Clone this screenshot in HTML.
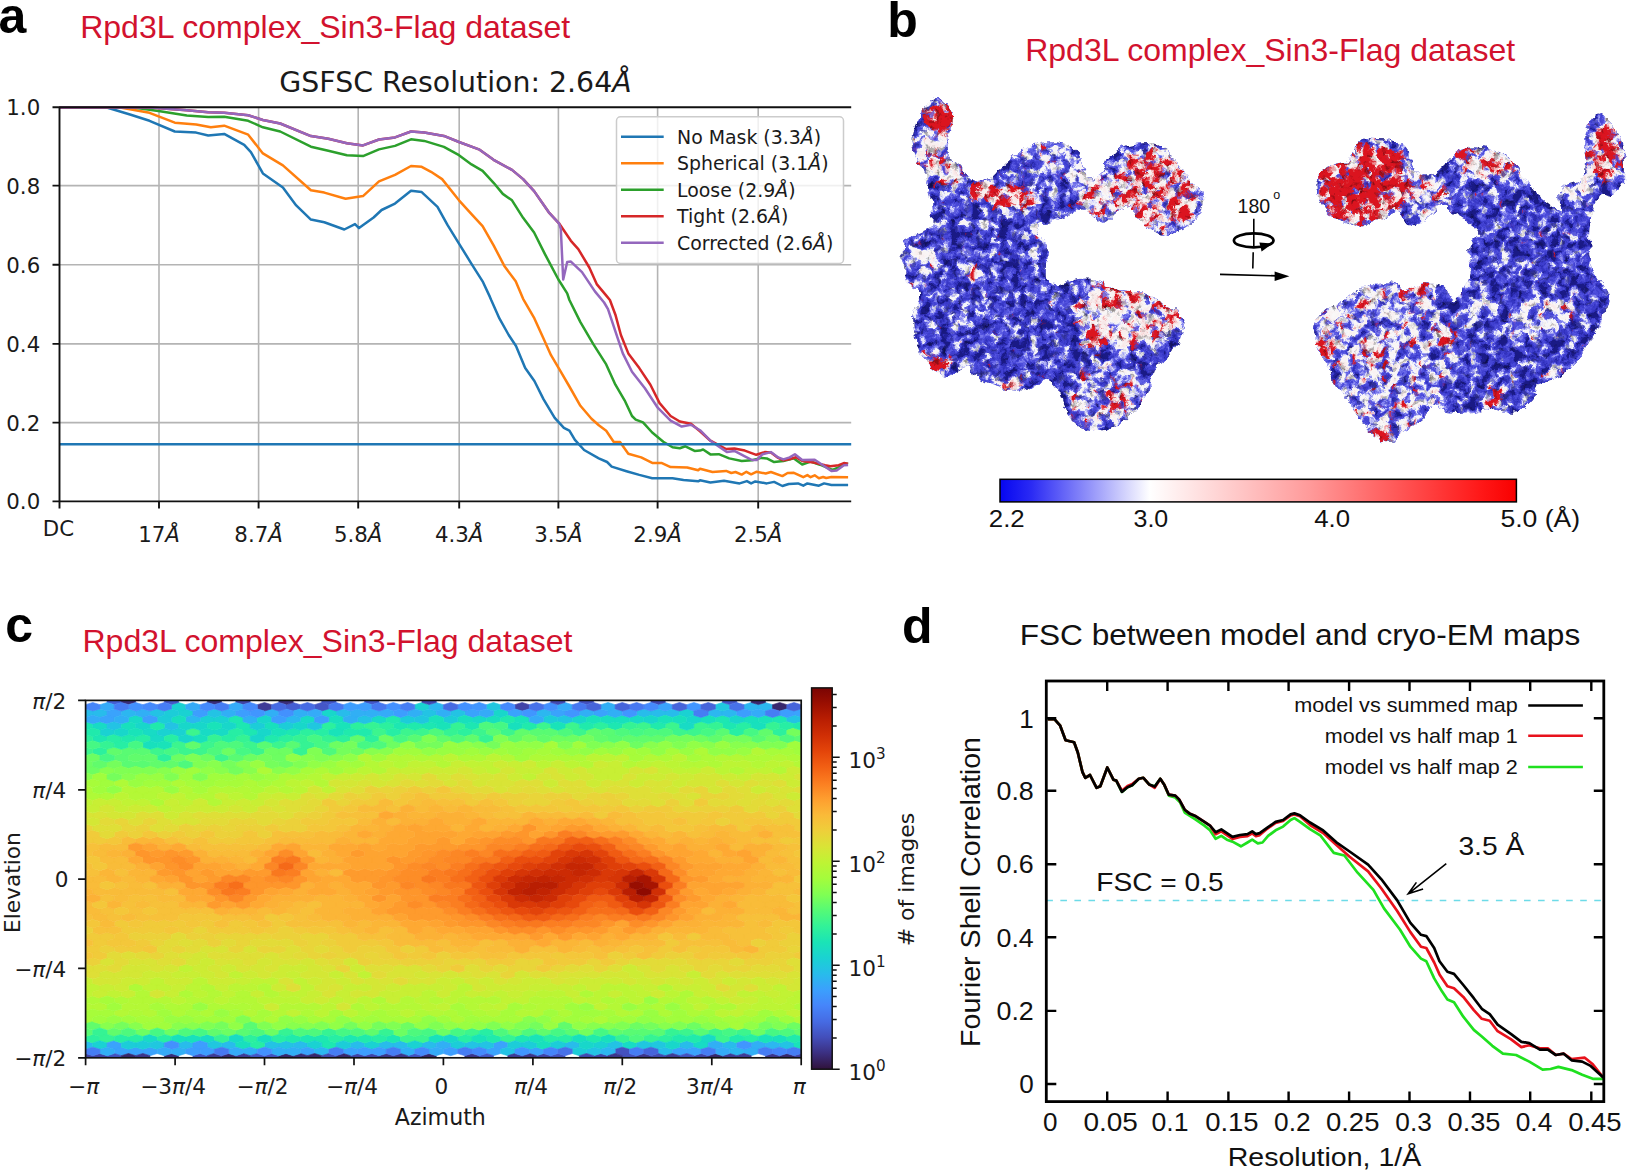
<!DOCTYPE html>
<html lang="en"><head><meta charset="utf-8"><title>Rpd3L complex cryo-EM figure</title>
<style>
html,body{margin:0;padding:0;background:#fff}
body{width:1630px;height:1173px;overflow:hidden}
svg{display:block}
text{white-space:pre}
</style></head><body>
<svg width="1630" height="1173" viewBox="0 0 1630 1173">
<rect width="1630" height="1173" fill="#fff"/>
<g id="pb">
<clipPath id="cpL"><path d="M940.5,98.6C944.2,100.3 950.1,106.7 951.8,111.9C953.6,117.1 952.1,124.1 951.2,129.9C950.3,135.6 946.5,141.2 946.5,146.5C946.6,151.8 948.5,157.7 951.5,161.4C954.6,165.2 961.2,165.8 964.8,169.1C968.4,172.4 969.0,179.7 973.1,181.4C977.3,183.1 985.3,181.1 989.7,179.1C994.2,177.0 994.2,174.0 999.7,169.1C1005.2,164.2 1016.3,154.2 1023.0,149.8C1029.6,145.4 1033.0,143.7 1039.6,142.5C1046.2,141.3 1056.8,141.1 1062.9,142.5C1069.0,143.9 1072.7,146.9 1076.2,150.8C1079.6,154.7 1081.4,161.2 1083.5,165.8C1085.6,170.4 1085.8,177.4 1088.8,178.4C1091.8,179.4 1098.0,175.5 1101.4,171.8C1104.9,168.0 1104.8,160.3 1109.4,155.8C1114.1,151.3 1121.1,146.7 1129.4,144.8C1137.7,143.0 1151.5,141.8 1159.3,144.8C1167.0,147.9 1170.9,157.3 1175.9,163.1C1180.9,168.9 1184.8,174.7 1189.2,179.7C1193.6,184.7 1200.8,187.5 1202.5,193.0C1204.2,198.6 1202.5,206.9 1199.2,213.0C1195.9,219.1 1188.6,226.0 1182.6,229.6C1176.5,233.2 1169.3,235.7 1162.6,234.6C1156.0,233.5 1148.2,227.7 1142.7,223.0C1137.1,218.2 1133.8,208.0 1129.4,206.3C1124.9,204.7 1120.5,210.2 1116.1,213.0C1111.6,215.7 1108.3,223.5 1102.8,223.0C1097.2,222.4 1088.9,210.8 1082.8,209.7C1076.7,208.5 1071.7,214.1 1066.2,216.3C1060.7,218.5 1054.6,221.3 1049.6,223.0C1044.6,224.6 1036.8,222.4 1036.3,226.3C1035.7,230.2 1044.6,237.9 1046.2,246.2C1047.9,254.5 1044.6,269.5 1046.2,276.1C1047.9,282.8 1051.2,285.6 1056.2,286.1C1061.2,286.7 1069.5,280.6 1076.2,279.5C1082.8,278.4 1089.5,277.8 1096.1,279.5C1102.8,281.1 1108.3,287.2 1116.1,289.4C1123.8,291.7 1134.3,290.0 1142.7,292.8C1151.0,295.5 1159.3,302.2 1165.9,306.1C1172.6,309.9 1180.3,310.5 1182.6,316.0C1184.8,321.6 1182.0,332.1 1179.2,339.3C1176.5,346.5 1170.4,353.7 1165.9,359.3C1161.5,364.8 1155.4,367.0 1152.6,372.6C1149.9,378.1 1152.6,385.9 1149.3,392.5C1146.0,399.1 1138.2,406.9 1132.7,412.4C1127.1,418.0 1123.3,422.7 1116.1,425.7C1108.9,428.8 1097.2,432.4 1089.5,430.7C1081.7,429.1 1074.5,422.1 1069.5,415.8C1064.5,409.4 1063.4,398.6 1059.5,392.5C1055.7,386.4 1051.2,379.8 1046.2,379.2C1041.3,378.6 1036.8,387.5 1029.6,389.2C1022.4,390.8 1011.3,390.8 1003.0,389.2C994.7,387.5 985.9,383.1 979.8,379.2C973.7,375.3 972.0,366.5 966.5,365.9C960.9,365.4 953.2,376.4 946.5,375.9C939.9,375.3 931.6,368.1 926.6,362.6C921.6,357.0 918.8,350.9 916.6,342.6C914.4,334.3 912.7,321.0 913.3,312.7C913.8,304.4 921.3,298.3 919.9,292.8C918.5,287.2 907.7,287.2 905.0,279.5C902.2,271.7 902.5,253.4 903.3,246.2C904.1,239.0 905.5,239.6 909.9,236.2C914.4,232.9 926.1,231.3 929.9,226.3C933.7,221.3 932.8,212.4 932.6,206.3C932.3,200.2 929.9,195.2 928.6,189.7C927.2,184.2 926.6,178.6 924.6,173.1C922.6,167.5 918.6,162.6 916.6,156.5C914.6,150.4 911.9,143.3 912.6,136.5C913.3,129.8 917.7,121.7 920.6,115.9C923.5,110.1 926.6,104.8 929.9,101.9C933.2,99.1 936.9,97.0 940.5,98.6z"/></clipPath>
<filter id="sfL" filterUnits="userSpaceOnUse" x="880" y="85" width="340" height="360" color-interpolation-filters="sRGB">
<feTurbulence type="fractalNoise" baseFrequency="0.1" numOctaves="4" seed="4" result="n0"/>
<feColorMatrix in="n0" type="matrix" values="1 0 0 0 0 0 1 0 0 0 0 0 1 0 0 0 0 0 0 1" result="n"/>
<feComposite in="n" in2="SourceGraphic" operator="arithmetic" k1="0" k2="1.4" k3="1" k4="-0.7" result="v"/>
<feColorMatrix in="v" type="matrix" values="1 0 0 0 0 1 0 0 0 0 1 0 0 0 0 0 0 0 0 1" result="v1"/>
<feComponentTransfer in="v1" result="bw"><feFuncR type="table" tableValues="0.102 0.141 0.180 0.212 0.243 0.275 0.314 0.384 0.502 0.682 0.878 0.965 0.980 0.980 0.980 0.980 0.980 0.980 0.980 0.980 0.980"/><feFuncG type="table" tableValues="0.102 0.141 0.180 0.212 0.243 0.275 0.314 0.384 0.502 0.682 0.878 0.965 0.973 0.965 0.957 0.949 0.941 0.933 0.925 0.918 0.910"/><feFuncB type="table" tableValues="0.529 0.627 0.714 0.769 0.808 0.839 0.871 0.902 0.933 0.961 0.980 0.980 0.973 0.965 0.957 0.949 0.941 0.933 0.925 0.918 0.910"/></feComponentTransfer>
<feColorMatrix in="v" type="matrix" values="0 0 0 0 0.86 0 0 0 0 0.08 0 0 0 0 0.12 0 1 0 0 0" result="v2"/>
<feComponentTransfer in="v2" result="rd"><feFuncA type="table" tableValues="0 0 0 0 0 0 0 0 0 0.04 0.12 0.3 0.6 0.88 1 1 1 1 1 1 1"/></feComponentTransfer>
<feMerge result="c"><feMergeNode in="bw"/><feMergeNode in="rd"/></feMerge>
<feTurbulence type="fractalNoise" baseFrequency="0.17" numOctaves="2" seed="15" result="m0"/>
<feColorMatrix in="m0" type="matrix" values="0 1.5 0 0 0.33 0 1.5 0 0 0.33 0 1.5 0 0 0.33 0 0 0 0 1" result="m"/>
<feBlend in="c" in2="m" mode="multiply" result="cs"/>
<feComposite in="cs" in2="SourceAlpha" operator="in" result="ci"/>
<feDisplacementMap in="ci" in2="n0" scale="9" xChannelSelector="G" yChannelSelector="B"/>
</filter>
<filter id="blL" x="-50%" y="-50%" width="200%" height="200%"><feGaussianBlur stdDeviation="4"/></filter>
<path d="M940.5,98.6C944.2,100.3 950.1,106.7 951.8,111.9C953.6,117.1 952.1,124.1 951.2,129.9C950.3,135.6 946.5,141.2 946.5,146.5C946.6,151.8 948.5,157.7 951.5,161.4C954.6,165.2 961.2,165.8 964.8,169.1C968.4,172.4 969.0,179.7 973.1,181.4C977.3,183.1 985.3,181.1 989.7,179.1C994.2,177.0 994.2,174.0 999.7,169.1C1005.2,164.2 1016.3,154.2 1023.0,149.8C1029.6,145.4 1033.0,143.7 1039.6,142.5C1046.2,141.3 1056.8,141.1 1062.9,142.5C1069.0,143.9 1072.7,146.9 1076.2,150.8C1079.6,154.7 1081.4,161.2 1083.5,165.8C1085.6,170.4 1085.8,177.4 1088.8,178.4C1091.8,179.4 1098.0,175.5 1101.4,171.8C1104.9,168.0 1104.8,160.3 1109.4,155.8C1114.1,151.3 1121.1,146.7 1129.4,144.8C1137.7,143.0 1151.5,141.8 1159.3,144.8C1167.0,147.9 1170.9,157.3 1175.9,163.1C1180.9,168.9 1184.8,174.7 1189.2,179.7C1193.6,184.7 1200.8,187.5 1202.5,193.0C1204.2,198.6 1202.5,206.9 1199.2,213.0C1195.9,219.1 1188.6,226.0 1182.6,229.6C1176.5,233.2 1169.3,235.7 1162.6,234.6C1156.0,233.5 1148.2,227.7 1142.7,223.0C1137.1,218.2 1133.8,208.0 1129.4,206.3C1124.9,204.7 1120.5,210.2 1116.1,213.0C1111.6,215.7 1108.3,223.5 1102.8,223.0C1097.2,222.4 1088.9,210.8 1082.8,209.7C1076.7,208.5 1071.7,214.1 1066.2,216.3C1060.7,218.5 1054.6,221.3 1049.6,223.0C1044.6,224.6 1036.8,222.4 1036.3,226.3C1035.7,230.2 1044.6,237.9 1046.2,246.2C1047.9,254.5 1044.6,269.5 1046.2,276.1C1047.9,282.8 1051.2,285.6 1056.2,286.1C1061.2,286.7 1069.5,280.6 1076.2,279.5C1082.8,278.4 1089.5,277.8 1096.1,279.5C1102.8,281.1 1108.3,287.2 1116.1,289.4C1123.8,291.7 1134.3,290.0 1142.7,292.8C1151.0,295.5 1159.3,302.2 1165.9,306.1C1172.6,309.9 1180.3,310.5 1182.6,316.0C1184.8,321.6 1182.0,332.1 1179.2,339.3C1176.5,346.5 1170.4,353.7 1165.9,359.3C1161.5,364.8 1155.4,367.0 1152.6,372.6C1149.9,378.1 1152.6,385.9 1149.3,392.5C1146.0,399.1 1138.2,406.9 1132.7,412.4C1127.1,418.0 1123.3,422.7 1116.1,425.7C1108.9,428.8 1097.2,432.4 1089.5,430.7C1081.7,429.1 1074.5,422.1 1069.5,415.8C1064.5,409.4 1063.4,398.6 1059.5,392.5C1055.7,386.4 1051.2,379.8 1046.2,379.2C1041.3,378.6 1036.8,387.5 1029.6,389.2C1022.4,390.8 1011.3,390.8 1003.0,389.2C994.7,387.5 985.9,383.1 979.8,379.2C973.7,375.3 972.0,366.5 966.5,365.9C960.9,365.4 953.2,376.4 946.5,375.9C939.9,375.3 931.6,368.1 926.6,362.6C921.6,357.0 918.8,350.9 916.6,342.6C914.4,334.3 912.7,321.0 913.3,312.7C913.8,304.4 921.3,298.3 919.9,292.8C918.5,287.2 907.7,287.2 905.0,279.5C902.2,271.7 902.5,253.4 903.3,246.2C904.1,239.0 905.5,239.6 909.9,236.2C914.4,232.9 926.1,231.3 929.9,226.3C933.7,221.3 932.8,212.4 932.6,206.3C932.3,200.2 929.9,195.2 928.6,189.7C927.2,184.2 926.6,178.6 924.6,173.1C922.6,167.5 918.6,162.6 916.6,156.5C914.6,150.4 911.9,143.3 912.6,136.5C913.3,129.8 917.7,121.7 920.6,115.9C923.5,110.1 926.6,104.8 929.9,101.9C933.2,99.1 936.9,97.0 940.5,98.6z" fill="#4a4ac6" stroke="#fff" stroke-width="10" stroke-linejoin="round"/>
<g filter="url(#sfL)"><g clip-path="url(#cpL)"><rect x="880" y="85" width="340" height="360" fill="rgb(58,30,0)"/><g filter="url(#blL)">
<ellipse cx="942.5" cy="114.9" rx="16.6" ry="16.6" fill="rgb(127,216,0)"/>
<ellipse cx="931.6" cy="151.5" rx="18.3" ry="23.3" fill="rgb(153,107,0)"/>
<ellipse cx="949.8" cy="174.7" rx="15.0" ry="11.6" fill="rgb(153,127,0)"/>
<ellipse cx="1004.7" cy="194.7" rx="38.2" ry="12.6" fill="rgb(153,158,0)" transform="rotate(8 1004.7 194.7)"/>
<ellipse cx="1052.9" cy="159.8" rx="33.2" ry="18.3" fill="rgb(114,63,0)"/>
<ellipse cx="1096.1" cy="196.4" rx="18.3" ry="21.6" fill="rgb(153,122,0)"/>
<ellipse cx="1156.0" cy="189.7" rx="46.5" ry="43.2" fill="rgb(140,132,0)"/>
<ellipse cx="1146.0" cy="169.8" rx="19.9" ry="16.6" fill="rgb(140,153,0)"/>
<ellipse cx="1182.6" cy="209.7" rx="16.6" ry="16.6" fill="rgb(153,153,0)"/>
<ellipse cx="1129.4" cy="199.7" rx="13.3" ry="16.6" fill="rgb(140,140,0)"/>
<ellipse cx="1129.4" cy="312.7" rx="54.9" ry="34.9" fill="rgb(153,112,0)"/>
<ellipse cx="1127.7" cy="292.8" rx="18.3" ry="10.0" fill="rgb(153,163,0)"/>
<ellipse cx="1169.3" cy="314.4" rx="10.0" ry="11.6" fill="rgb(153,153,0)"/>
<ellipse cx="1095.5" cy="342.6" rx="10.6" ry="9.3" fill="rgb(127,191,0)"/>
<ellipse cx="1116.1" cy="322.7" rx="15.0" ry="11.6" fill="rgb(173,76,0)"/>
<ellipse cx="1106.1" cy="395.8" rx="39.9" ry="31.6" fill="rgb(107,84,0)"/>
<ellipse cx="1119.4" cy="404.1" rx="13.3" ry="11.6" fill="rgb(127,140,0)"/>
<ellipse cx="1089.5" cy="422.4" rx="13.3" ry="8.3" fill="rgb(127,127,0)"/>
<ellipse cx="939.9" cy="362.6" rx="13.3" ry="11.6" fill="rgb(127,163,0)"/>
<ellipse cx="1013.0" cy="384.2" rx="16.6" ry="7.3" fill="rgb(127,163,0)"/>
<ellipse cx="921.6" cy="259.5" rx="16.6" ry="19.9" fill="rgb(127,51,0)"/>
<ellipse cx="973.1" cy="274.5" rx="13.3" ry="7.3" fill="rgb(153,107,0)"/>
<ellipse cx="1036.3" cy="236.2" rx="8.3" ry="16.6" fill="rgb(114,51,0)"/>
<ellipse cx="1076.2" cy="179.7" rx="10.0" ry="10.0" fill="rgb(140,76,0)"/>
<ellipse cx="989.7" cy="312.7" rx="10.0" ry="6.6" fill="rgb(102,30,0)"/>
<ellipse cx="956.5" cy="319.4" rx="11.6" ry="8.3" fill="rgb(107,30,0)"/>
</g></g></g>
<clipPath id="cpR"><path d="M1366.4,138.2C1372.0,137.1 1383.1,137.9 1389.7,139.8C1396.3,141.8 1402.2,144.8 1406.3,149.8C1410.5,154.8 1410.7,165.3 1414.6,169.7C1418.5,174.2 1424.3,177.5 1429.6,176.4C1434.8,175.3 1441.2,167.5 1446.2,163.1C1451.2,158.7 1454.5,152.6 1459.5,149.8C1464.5,147.0 1470.0,146.2 1476.1,146.5C1482.2,146.7 1489.4,148.7 1496.0,151.5C1502.7,154.2 1511.0,158.4 1516.0,163.1C1521.0,167.8 1522.6,174.7 1526.0,179.7C1529.3,184.7 1531.5,188.6 1535.9,193.0C1540.4,197.4 1548.4,203.2 1552.5,206.3C1556.7,209.3 1559.9,212.9 1560.9,211.3C1561.9,209.6 1557.7,200.6 1558.5,196.3C1559.4,192.1 1562.0,188.6 1565.8,185.7C1569.7,182.8 1578.4,183.4 1581.8,179.0C1585.2,174.7 1586.0,166.9 1586.4,159.8C1586.9,152.7 1583.0,143.9 1584.4,136.5C1585.9,129.1 1590.9,117.7 1595.1,115.2C1599.3,112.8 1605.1,117.2 1609.7,121.9C1614.4,126.5 1620.5,134.1 1623.0,143.1C1625.5,152.2 1626.9,167.8 1625.0,176.4C1623.1,185.0 1615.9,191.6 1611.7,194.7C1607.5,197.7 1603.0,191.6 1599.7,194.7C1596.5,197.7 1594.2,206.0 1592.4,212.9C1590.7,219.9 1589.1,227.3 1589.1,236.2C1589.1,245.1 1590.2,257.8 1592.4,266.1C1594.6,274.4 1599.6,281.1 1602.4,286.0C1605.2,291.0 1609.0,290.5 1609.0,296.0C1609.0,301.6 1605.7,311.0 1602.4,319.3C1599.1,327.6 1594.1,338.1 1589.1,345.9C1584.1,353.6 1578.0,360.3 1572.5,365.8C1566.9,371.3 1562.0,375.8 1555.9,379.1C1549.8,382.4 1539.8,382.4 1535.9,385.7C1532.1,389.1 1535.9,394.6 1532.6,399.0C1529.3,403.5 1523.2,410.7 1516.0,412.3C1508.8,414.0 1497.2,409.0 1489.4,409.0C1481.6,409.0 1476.1,411.8 1469.5,412.3C1462.8,412.9 1455.6,413.4 1449.5,412.3C1443.4,411.2 1437.3,404.6 1432.9,405.7C1428.5,406.8 1427.9,414.6 1422.9,419.0C1417.9,423.4 1409.1,428.4 1403.0,432.3C1396.9,436.2 1391.9,442.2 1386.4,442.2C1380.8,442.2 1374.2,436.2 1369.8,432.3C1365.3,428.4 1363.7,424.5 1359.8,419.0C1355.9,413.4 1350.9,405.7 1346.5,399.0C1342.1,392.4 1336.5,385.2 1333.2,379.1C1329.9,373.0 1329.3,368.0 1326.6,362.5C1323.8,356.9 1318.8,352.0 1316.6,345.9C1314.4,339.8 1311.6,332.0 1313.3,325.9C1314.9,319.8 1321.0,313.7 1326.6,309.3C1332.1,304.9 1339.9,303.2 1346.5,299.3C1353.1,295.5 1359.2,288.8 1366.4,286.0C1373.6,283.3 1383.6,282.2 1389.7,282.7C1395.8,283.3 1397.5,289.1 1403.0,289.4C1408.5,289.6 1416.3,284.7 1422.9,284.4C1429.6,284.1 1437.9,285.2 1442.9,287.7C1447.9,290.2 1449.0,299.6 1452.8,299.3C1456.7,299.1 1463.1,291.6 1466.1,286.0C1469.2,280.5 1470.6,272.8 1471.1,266.1C1471.7,259.5 1468.1,251.7 1469.5,246.2C1470.8,240.6 1479.4,236.8 1479.4,232.9C1479.4,229.0 1473.9,226.2 1469.5,222.9C1465.0,219.6 1457.8,215.7 1452.8,212.9C1447.9,210.2 1443.4,205.7 1439.6,206.3C1435.7,206.8 1434.0,212.9 1429.6,216.3C1425.2,219.6 1417.9,226.8 1413.0,226.2C1408.0,225.7 1404.1,214.6 1399.7,212.9C1395.2,211.3 1393.6,214.0 1386.4,216.3C1379.2,218.5 1365.3,226.2 1356.5,226.2C1347.6,226.2 1339.6,221.2 1333.2,216.3C1326.8,211.3 1321.0,202.4 1318.2,196.3C1315.5,190.2 1314.6,184.7 1316.6,179.7C1318.5,174.7 1324.3,169.7 1329.9,166.4C1335.4,163.1 1345.4,163.1 1349.8,159.8C1354.3,156.4 1353.7,150.1 1356.5,146.5C1359.2,142.9 1360.9,139.3 1366.4,138.2z"/></clipPath>
<filter id="sfR" filterUnits="userSpaceOnUse" x="1300" y="100" width="330" height="360" color-interpolation-filters="sRGB">
<feTurbulence type="fractalNoise" baseFrequency="0.1" numOctaves="4" seed="9" result="n0"/>
<feColorMatrix in="n0" type="matrix" values="1 0 0 0 0 0 1 0 0 0 0 0 1 0 0 0 0 0 0 1" result="n"/>
<feComposite in="n" in2="SourceGraphic" operator="arithmetic" k1="0" k2="1.4" k3="1" k4="-0.7" result="v"/>
<feColorMatrix in="v" type="matrix" values="1 0 0 0 0 1 0 0 0 0 1 0 0 0 0 0 0 0 0 1" result="v1"/>
<feComponentTransfer in="v1" result="bw"><feFuncR type="table" tableValues="0.102 0.141 0.180 0.212 0.243 0.275 0.314 0.384 0.502 0.682 0.878 0.965 0.980 0.980 0.980 0.980 0.980 0.980 0.980 0.980 0.980"/><feFuncG type="table" tableValues="0.102 0.141 0.180 0.212 0.243 0.275 0.314 0.384 0.502 0.682 0.878 0.965 0.973 0.965 0.957 0.949 0.941 0.933 0.925 0.918 0.910"/><feFuncB type="table" tableValues="0.529 0.627 0.714 0.769 0.808 0.839 0.871 0.902 0.933 0.961 0.980 0.980 0.973 0.965 0.957 0.949 0.941 0.933 0.925 0.918 0.910"/></feComponentTransfer>
<feColorMatrix in="v" type="matrix" values="0 0 0 0 0.86 0 0 0 0 0.08 0 0 0 0 0.12 0 1 0 0 0" result="v2"/>
<feComponentTransfer in="v2" result="rd"><feFuncA type="table" tableValues="0 0 0 0 0 0 0 0 0 0.04 0.12 0.3 0.6 0.88 1 1 1 1 1 1 1"/></feComponentTransfer>
<feMerge result="c"><feMergeNode in="bw"/><feMergeNode in="rd"/></feMerge>
<feTurbulence type="fractalNoise" baseFrequency="0.17" numOctaves="2" seed="20" result="m0"/>
<feColorMatrix in="m0" type="matrix" values="0 1.5 0 0 0.33 0 1.5 0 0 0.33 0 1.5 0 0 0.33 0 0 0 0 1" result="m"/>
<feBlend in="c" in2="m" mode="multiply" result="cs"/>
<feComposite in="cs" in2="SourceAlpha" operator="in" result="ci"/>
<feDisplacementMap in="ci" in2="n0" scale="9" xChannelSelector="G" yChannelSelector="B"/>
</filter>
<filter id="blR" x="-50%" y="-50%" width="200%" height="200%"><feGaussianBlur stdDeviation="4"/></filter>
<path d="M1366.4,138.2C1372.0,137.1 1383.1,137.9 1389.7,139.8C1396.3,141.8 1402.2,144.8 1406.3,149.8C1410.5,154.8 1410.7,165.3 1414.6,169.7C1418.5,174.2 1424.3,177.5 1429.6,176.4C1434.8,175.3 1441.2,167.5 1446.2,163.1C1451.2,158.7 1454.5,152.6 1459.5,149.8C1464.5,147.0 1470.0,146.2 1476.1,146.5C1482.2,146.7 1489.4,148.7 1496.0,151.5C1502.7,154.2 1511.0,158.4 1516.0,163.1C1521.0,167.8 1522.6,174.7 1526.0,179.7C1529.3,184.7 1531.5,188.6 1535.9,193.0C1540.4,197.4 1548.4,203.2 1552.5,206.3C1556.7,209.3 1559.9,212.9 1560.9,211.3C1561.9,209.6 1557.7,200.6 1558.5,196.3C1559.4,192.1 1562.0,188.6 1565.8,185.7C1569.7,182.8 1578.4,183.4 1581.8,179.0C1585.2,174.7 1586.0,166.9 1586.4,159.8C1586.9,152.7 1583.0,143.9 1584.4,136.5C1585.9,129.1 1590.9,117.7 1595.1,115.2C1599.3,112.8 1605.1,117.2 1609.7,121.9C1614.4,126.5 1620.5,134.1 1623.0,143.1C1625.5,152.2 1626.9,167.8 1625.0,176.4C1623.1,185.0 1615.9,191.6 1611.7,194.7C1607.5,197.7 1603.0,191.6 1599.7,194.7C1596.5,197.7 1594.2,206.0 1592.4,212.9C1590.7,219.9 1589.1,227.3 1589.1,236.2C1589.1,245.1 1590.2,257.8 1592.4,266.1C1594.6,274.4 1599.6,281.1 1602.4,286.0C1605.2,291.0 1609.0,290.5 1609.0,296.0C1609.0,301.6 1605.7,311.0 1602.4,319.3C1599.1,327.6 1594.1,338.1 1589.1,345.9C1584.1,353.6 1578.0,360.3 1572.5,365.8C1566.9,371.3 1562.0,375.8 1555.9,379.1C1549.8,382.4 1539.8,382.4 1535.9,385.7C1532.1,389.1 1535.9,394.6 1532.6,399.0C1529.3,403.5 1523.2,410.7 1516.0,412.3C1508.8,414.0 1497.2,409.0 1489.4,409.0C1481.6,409.0 1476.1,411.8 1469.5,412.3C1462.8,412.9 1455.6,413.4 1449.5,412.3C1443.4,411.2 1437.3,404.6 1432.9,405.7C1428.5,406.8 1427.9,414.6 1422.9,419.0C1417.9,423.4 1409.1,428.4 1403.0,432.3C1396.9,436.2 1391.9,442.2 1386.4,442.2C1380.8,442.2 1374.2,436.2 1369.8,432.3C1365.3,428.4 1363.7,424.5 1359.8,419.0C1355.9,413.4 1350.9,405.7 1346.5,399.0C1342.1,392.4 1336.5,385.2 1333.2,379.1C1329.9,373.0 1329.3,368.0 1326.6,362.5C1323.8,356.9 1318.8,352.0 1316.6,345.9C1314.4,339.8 1311.6,332.0 1313.3,325.9C1314.9,319.8 1321.0,313.7 1326.6,309.3C1332.1,304.9 1339.9,303.2 1346.5,299.3C1353.1,295.5 1359.2,288.8 1366.4,286.0C1373.6,283.3 1383.6,282.2 1389.7,282.7C1395.8,283.3 1397.5,289.1 1403.0,289.4C1408.5,289.6 1416.3,284.7 1422.9,284.4C1429.6,284.1 1437.9,285.2 1442.9,287.7C1447.9,290.2 1449.0,299.6 1452.8,299.3C1456.7,299.1 1463.1,291.6 1466.1,286.0C1469.2,280.5 1470.6,272.8 1471.1,266.1C1471.7,259.5 1468.1,251.7 1469.5,246.2C1470.8,240.6 1479.4,236.8 1479.4,232.9C1479.4,229.0 1473.9,226.2 1469.5,222.9C1465.0,219.6 1457.8,215.7 1452.8,212.9C1447.9,210.2 1443.4,205.7 1439.6,206.3C1435.7,206.8 1434.0,212.9 1429.6,216.3C1425.2,219.6 1417.9,226.8 1413.0,226.2C1408.0,225.7 1404.1,214.6 1399.7,212.9C1395.2,211.3 1393.6,214.0 1386.4,216.3C1379.2,218.5 1365.3,226.2 1356.5,226.2C1347.6,226.2 1339.6,221.2 1333.2,216.3C1326.8,211.3 1321.0,202.4 1318.2,196.3C1315.5,190.2 1314.6,184.7 1316.6,179.7C1318.5,174.7 1324.3,169.7 1329.9,166.4C1335.4,163.1 1345.4,163.1 1349.8,159.8C1354.3,156.4 1353.7,150.1 1356.5,146.5C1359.2,142.9 1360.9,139.3 1366.4,138.2z" fill="#4a4ac6" stroke="#fff" stroke-width="10" stroke-linejoin="round"/>
<g filter="url(#sfR)"><g clip-path="url(#cpR)"><rect x="1300" y="100" width="330" height="360" fill="rgb(58,30,0)"/><g filter="url(#blR)">
<ellipse cx="1364.8" cy="183.0" rx="49.9" ry="43.2" fill="rgb(140,158,0)"/>
<ellipse cx="1346.5" cy="193.0" rx="23.3" ry="19.9" fill="rgb(127,193,0)"/>
<ellipse cx="1383.1" cy="159.8" rx="23.3" ry="16.6" fill="rgb(127,178,0)"/>
<ellipse cx="1431.2" cy="194.7" rx="19.9" ry="19.9" fill="rgb(132,107,0)"/>
<ellipse cx="1489.4" cy="163.1" rx="33.2" ry="16.6" fill="rgb(153,107,0)"/>
<ellipse cx="1466.1" cy="151.5" rx="11.6" ry="8.3" fill="rgb(127,173,0)"/>
<ellipse cx="1502.7" cy="170.4" rx="15.0" ry="8.3" fill="rgb(153,158,0)"/>
<ellipse cx="1605.7" cy="149.8" rx="16.6" ry="31.6" fill="rgb(153,168,0)"/>
<ellipse cx="1575.8" cy="191.3" rx="19.9" ry="10.0" fill="rgb(178,76,0)"/>
<ellipse cx="1587.4" cy="169.7" rx="6.6" ry="13.3" fill="rgb(153,76,0)"/>
<ellipse cx="1383.1" cy="359.2" rx="73.1" ry="76.5" fill="rgb(109,76,0)"/>
<ellipse cx="1417.9" cy="290.0" rx="15.0" ry="8.3" fill="rgb(153,173,0)"/>
<ellipse cx="1449.5" cy="336.6" rx="10.0" ry="6.6" fill="rgb(153,191,0)"/>
<ellipse cx="1496.0" cy="395.7" rx="10.6" ry="10.6" fill="rgb(140,183,0)"/>
<ellipse cx="1383.7" cy="437.3" rx="11.6" ry="7.3" fill="rgb(140,183,0)"/>
<ellipse cx="1323.2" cy="345.9" rx="9.3" ry="10.0" fill="rgb(140,168,0)"/>
<ellipse cx="1376.4" cy="352.5" rx="13.3" ry="13.3" fill="rgb(158,122,0)"/>
<ellipse cx="1329.9" cy="319.3" rx="16.6" ry="13.3" fill="rgb(158,102,0)"/>
<ellipse cx="1366.4" cy="292.7" rx="16.6" ry="10.0" fill="rgb(158,127,0)"/>
<ellipse cx="1539.3" cy="316.0" rx="36.6" ry="18.3" fill="rgb(127,51,0)" transform="rotate(-25 1539.3 316.0)"/>
<ellipse cx="1572.5" cy="312.6" rx="5.0" ry="5.0" fill="rgb(127,191,0)"/>
<ellipse cx="1555.9" cy="372.5" rx="8.3" ry="6.6" fill="rgb(127,127,0)"/>
<ellipse cx="1476.1" cy="309.3" rx="16.6" ry="13.3" fill="rgb(127,30,0)"/>
<ellipse cx="1509.3" cy="266.1" rx="13.3" ry="10.0" fill="rgb(91,30,0)"/>
<ellipse cx="1519.3" cy="219.6" rx="13.3" ry="10.0" fill="rgb(91,30,0)"/>
</g></g></g>
<text x="1237.6" y="213.4" textLength="32.6" lengthAdjust="spacingAndGlyphs" style="font-family:'Liberation Sans',sans-serif;font-size:19.8px" fill="#111">180</text>
<text x="1273.2" y="199.2" style="font-family:'Liberation Sans',sans-serif;font-size:12.5px" fill="#111">o</text>
<path d="M1253.8,218.8V247.6M1253.2,252.2L1252.8,268.6" stroke="#000" stroke-width="1.6" fill="none"/>
<ellipse cx="1253.7" cy="240.4" rx="19.8" ry="7" fill="none" stroke="#000" stroke-width="2.7"/>
<path d="M1259.4,242.6L1261.6,251.4L1272.4,243.6z" fill="#000"/>
<path d="M1220,274.4L1277,275.9" stroke="#000" stroke-width="1.7" fill="none"/><path d="M1274.6,271.4L1289.4,276.2L1274.6,281z" fill="#000"/>
<defs><linearGradient id="bwr" x1="0" y1="0" x2="1" y2="0"><stop offset="0" stop-color="#0606f0"/><stop offset="0.06" stop-color="#2a2af4"/><stop offset="0.29" stop-color="#ffffff"/><stop offset="0.6" stop-color="#ff9a9a"/><stop offset="0.93" stop-color="#ff1818"/><stop offset="1" stop-color="#f80000"/></linearGradient></defs>
<rect x="1000" y="479.3" width="516.4" height="22.6" fill="url(#bwr)" stroke="#000" stroke-width="1.5"/>
<text x="988.8" y="527" textLength="35.9" lengthAdjust="spacingAndGlyphs" style="font-family:'Liberation Sans',sans-serif;font-size:24.2px" fill="#111">2.2</text>
<text x="1133.5" y="527" textLength="34.7" lengthAdjust="spacingAndGlyphs" style="font-family:'Liberation Sans',sans-serif;font-size:24.2px" fill="#111">3.0</text>
<text x="1314.2" y="527" textLength="35.8" lengthAdjust="spacingAndGlyphs" style="font-family:'Liberation Sans',sans-serif;font-size:24.2px" fill="#111">4.0</text>
<text x="1500.4" y="527" textLength="79.7" lengthAdjust="spacingAndGlyphs" style="font-family:'Liberation Sans',sans-serif;font-size:24.2px" fill="#111">5.0 (Å)</text>
</g>
<g id="pc">
<defs><clipPath id="cc"><rect x="85.6" y="700.4" width="715.6" height="357.4"/></clipPath>
<linearGradient id="tb" x1="0" y1="0" x2="0" y2="1"><stop offset="0.0000" stop-color="#7a0403"/><stop offset="0.0417" stop-color="#9b0f01"/><stop offset="0.0833" stop-color="#b91e02"/><stop offset="0.1250" stop-color="#d02f05"/><stop offset="0.1667" stop-color="#e4450a"/><stop offset="0.2083" stop-color="#f26014"/><stop offset="0.2500" stop-color="#fb7e21"/><stop offset="0.2917" stop-color="#fe9e2f"/><stop offset="0.3333" stop-color="#faba39"/><stop offset="0.3750" stop-color="#eecf3a"/><stop offset="0.4167" stop-color="#d9e436"/><stop offset="0.4583" stop-color="#bef434"/><stop offset="0.5000" stop-color="#a4fc3c"/><stop offset="0.5417" stop-color="#80ff53"/><stop offset="0.5833" stop-color="#55fa76"/><stop offset="0.6250" stop-color="#32f298"/><stop offset="0.6667" stop-color="#1ae4b6"/><stop offset="0.7083" stop-color="#1ad2d2"/><stop offset="0.7500" stop-color="#28bceb"/><stop offset="0.7917" stop-color="#3ba0fd"/><stop offset="0.8333" stop-color="#4685fa"/><stop offset="0.8750" stop-color="#466be3"/><stop offset="0.9167" stop-color="#434eba"/><stop offset="0.9583" stop-color="#3b2f80"/><stop offset="1.0000" stop-color="#30123b"/></linearGradient></defs>
<g clip-path="url(#cc)" stroke-width="0.6">
<path fill="#28bceb" stroke="#28bceb" d="M85.6,708.9l7.16,2.13v4.25l-7.16,2.13l-7.16,-2.13v-4.25zM85.6,1040.8l7.16,2.13v4.25l-7.16,2.13l-7.16,-2.13v-4.25zM99.9,708.9l7.16,2.13v4.25l-7.16,2.13l-7.16,-2.13v-4.25zM185.8,1040.8l7.16,2.13v4.25l-7.16,2.13l-7.16,-2.13v-4.25zM228.7,1040.8l7.16,2.13v4.25l-7.16,2.13l-7.16,-2.13v-4.25zM300.3,1040.8l7.16,2.13v4.25l-7.16,2.13l-7.16,-2.13v-4.25zM343.2,708.9l7.16,2.13v4.25l-7.16,2.13l-7.16,-2.13v-4.25zM357.5,1040.8l7.16,2.13v4.25l-7.16,2.13l-7.16,-2.13v-4.25zM386.2,1040.8l7.16,2.13v4.25l-7.16,2.13l-7.16,-2.13v-4.25zM400.5,1040.8l7.16,2.13v4.25l-7.16,2.13l-7.16,-2.13v-4.25zM429.1,1040.8l7.16,2.13v4.25l-7.16,2.13l-7.16,-2.13v-4.25zM572.2,1040.8l7.16,2.13v4.25l-7.16,2.13l-7.16,-2.13v-4.25zM643.8,708.9l7.16,2.13v4.25l-7.16,2.13l-7.16,-2.13v-4.25zM658.1,708.9l7.16,2.13v4.25l-7.16,2.13l-7.16,-2.13v-4.25zM672.4,708.9l7.16,2.13v4.25l-7.16,2.13l-7.16,-2.13v-4.25zM686.7,1040.8l7.16,2.13v4.25l-7.16,2.13l-7.16,-2.13v-4.25zM729.6,1040.8l7.16,2.13v4.25l-7.16,2.13l-7.16,-2.13v-4.25zM665.2,1047.2l7.16,2.13v4.25l-7.16,2.13l-7.16,-2.13v-4.25z"/>
<path fill="#1de7b2" stroke="#1de7b2" d="M85.6,721.7l7.16,2.13v4.25l-7.16,2.13l-7.16,-2.13v-4.25zM99.9,734.4l7.16,2.13v4.25l-7.16,2.13l-7.16,-2.13v-4.25zM243.0,721.7l7.16,2.13v4.25l-7.16,2.13l-7.16,-2.13v-4.25zM328.9,1040.8l7.16,2.13v4.25l-7.16,2.13l-7.16,-2.13v-4.25zM400.5,721.7l7.16,2.13v4.25l-7.16,2.13l-7.16,-2.13v-4.25zM429.1,721.7l7.16,2.13v4.25l-7.16,2.13l-7.16,-2.13v-4.25zM472.0,721.7l7.16,2.13v4.25l-7.16,2.13l-7.16,-2.13v-4.25zM615.1,721.7l7.16,2.13v4.25l-7.16,2.13l-7.16,-2.13v-4.25zM729.6,721.7l7.16,2.13v4.25l-7.16,2.13l-7.16,-2.13v-4.25zM235.9,715.3l7.16,2.13v4.25l-7.16,2.13l-7.16,-2.13v-4.25zM250.2,728.1l7.16,2.13v4.25l-7.16,2.13l-7.16,-2.13v-4.25zM293.1,728.1l7.16,2.13v4.25l-7.16,2.13l-7.16,-2.13v-4.25zM307.4,1034.4l7.16,2.13v4.25l-7.16,2.13l-7.16,-2.13v-4.25zM321.7,1034.4l7.16,2.13v4.25l-7.16,2.13l-7.16,-2.13v-4.25zM350.4,1034.4l7.16,2.13v4.25l-7.16,2.13l-7.16,-2.13v-4.25zM393.3,1034.4l7.16,2.13v4.25l-7.16,2.13l-7.16,-2.13v-4.25zM522.1,1034.4l7.16,2.13v4.25l-7.16,2.13l-7.16,-2.13v-4.25zM722.5,715.3l7.16,2.13v4.25l-7.16,2.13l-7.16,-2.13v-4.25zM779.7,715.3l7.16,2.13v4.25l-7.16,2.13l-7.16,-2.13v-4.25z"/>
<path fill="#2cf09e" stroke="#2cf09e" d="M85.6,734.4l7.16,2.13v4.25l-7.16,2.13l-7.16,-2.13v-4.25zM99.9,747.2l7.16,2.13v4.25l-7.16,2.13l-7.16,-2.13v-4.25zM286.0,734.4l7.16,2.13v4.25l-7.16,2.13l-7.16,-2.13v-4.25zM328.9,721.7l7.16,2.13v4.25l-7.16,2.13l-7.16,-2.13v-4.25zM343.2,734.4l7.16,2.13v4.25l-7.16,2.13l-7.16,-2.13v-4.25zM357.5,721.7l7.16,2.13v4.25l-7.16,2.13l-7.16,-2.13v-4.25zM371.8,734.4l7.16,2.13v4.25l-7.16,2.13l-7.16,-2.13v-4.25zM386.2,721.7l7.16,2.13v4.25l-7.16,2.13l-7.16,-2.13v-4.25zM600.8,721.7l7.16,2.13v4.25l-7.16,2.13l-7.16,-2.13v-4.25zM92.8,1034.4l7.16,2.13v4.25l-7.16,2.13l-7.16,-2.13v-4.25zM164.3,753.6l7.16,2.13v4.25l-7.16,2.13l-7.16,-2.13v-4.25zM250.2,1034.4l7.16,2.13v4.25l-7.16,2.13l-7.16,-2.13v-4.25zM307.4,728.1l7.16,2.13v4.25l-7.16,2.13l-7.16,-2.13v-4.25zM464.9,728.1l7.16,2.13v4.25l-7.16,2.13l-7.16,-2.13v-4.25zM665.2,1034.4l7.16,2.13v4.25l-7.16,2.13l-7.16,-2.13v-4.25zM779.7,728.1l7.16,2.13v4.25l-7.16,2.13l-7.16,-2.13v-4.25z"/>
<path fill="#3cf58e" stroke="#3cf58e" d="M85.6,747.2l7.16,2.13v4.25l-7.16,2.13l-7.16,-2.13v-4.25zM157.2,747.2l7.16,2.13v4.25l-7.16,2.13l-7.16,-2.13v-4.25zM185.8,747.2l7.16,2.13v4.25l-7.16,2.13l-7.16,-2.13v-4.25zM200.1,747.2l7.16,2.13v4.25l-7.16,2.13l-7.16,-2.13v-4.25zM257.3,747.2l7.16,2.13v4.25l-7.16,2.13l-7.16,-2.13v-4.25zM472.0,1028.0l7.16,2.13v4.25l-7.16,2.13l-7.16,-2.13v-4.25zM543.6,721.7l7.16,2.13v4.25l-7.16,2.13l-7.16,-2.13v-4.25zM572.2,721.7l7.16,2.13v4.25l-7.16,2.13l-7.16,-2.13v-4.25zM643.8,721.7l7.16,2.13v4.25l-7.16,2.13l-7.16,-2.13v-4.25zM672.4,721.7l7.16,2.13v4.25l-7.16,2.13l-7.16,-2.13v-4.25zM686.7,1028.0l7.16,2.13v4.25l-7.16,2.13l-7.16,-2.13v-4.25zM701.0,721.7l7.16,2.13v4.25l-7.16,2.13l-7.16,-2.13v-4.25zM715.3,1028.0l7.16,2.13v4.25l-7.16,2.13l-7.16,-2.13v-4.25zM744.0,1028.0l7.16,2.13v4.25l-7.16,2.13l-7.16,-2.13v-4.25zM178.6,740.8l7.16,2.13v4.25l-7.16,2.13l-7.16,-2.13v-4.25zM192.9,728.1l7.16,2.13v4.25l-7.16,2.13l-7.16,-2.13v-4.25zM207.3,740.8l7.16,2.13v4.25l-7.16,2.13l-7.16,-2.13v-4.25zM221.6,753.6l7.16,2.13v4.25l-7.16,2.13l-7.16,-2.13v-4.25zM250.2,740.8l7.16,2.13v4.25l-7.16,2.13l-7.16,-2.13v-4.25zM278.8,740.8l7.16,2.13v4.25l-7.16,2.13l-7.16,-2.13v-4.25zM379.0,728.1l7.16,2.13v4.25l-7.16,2.13l-7.16,-2.13v-4.25zM407.6,728.1l7.16,2.13v4.25l-7.16,2.13l-7.16,-2.13v-4.25zM407.6,1034.4l7.16,2.13v4.25l-7.16,2.13l-7.16,-2.13v-4.25zM421.9,728.1l7.16,2.13v4.25l-7.16,2.13l-7.16,-2.13v-4.25zM421.9,1034.4l7.16,2.13v4.25l-7.16,2.13l-7.16,-2.13v-4.25zM479.2,728.1l7.16,2.13v4.25l-7.16,2.13l-7.16,-2.13v-4.25zM507.8,728.1l7.16,2.13v4.25l-7.16,2.13l-7.16,-2.13v-4.25zM579.4,728.1l7.16,2.13v4.25l-7.16,2.13l-7.16,-2.13v-4.25zM679.5,728.1l7.16,2.13v4.25l-7.16,2.13l-7.16,-2.13v-4.25zM693.9,728.1l7.16,2.13v4.25l-7.16,2.13l-7.16,-2.13v-4.25zM722.5,1034.4l7.16,2.13v4.25l-7.16,2.13l-7.16,-2.13v-4.25z"/>
<path fill="#6dfe62" stroke="#6dfe62" d="M85.6,760.0l7.16,2.13v4.25l-7.16,2.13l-7.16,-2.13v-4.25zM142.8,1028.0l7.16,2.13v4.25l-7.16,2.13l-7.16,-2.13v-4.25zM171.5,1028.0l7.16,2.13v4.25l-7.16,2.13l-7.16,-2.13v-4.25zM228.7,747.2l7.16,2.13v4.25l-7.16,2.13l-7.16,-2.13v-4.25zM228.7,1028.0l7.16,2.13v4.25l-7.16,2.13l-7.16,-2.13v-4.25zM271.7,747.2l7.16,2.13v4.25l-7.16,2.13l-7.16,-2.13v-4.25zM271.7,1028.0l7.16,2.13v4.25l-7.16,2.13l-7.16,-2.13v-4.25zM286.0,747.2l7.16,2.13v4.25l-7.16,2.13l-7.16,-2.13v-4.25zM286.0,760.0l7.16,2.13v4.25l-7.16,2.13l-7.16,-2.13v-4.25zM357.5,747.2l7.16,2.13v4.25l-7.16,2.13l-7.16,-2.13v-4.25zM386.2,734.4l7.16,2.13v4.25l-7.16,2.13l-7.16,-2.13v-4.25zM400.5,1028.0l7.16,2.13v4.25l-7.16,2.13l-7.16,-2.13v-4.25zM443.4,1028.0l7.16,2.13v4.25l-7.16,2.13l-7.16,-2.13v-4.25zM515.0,1028.0l7.16,2.13v4.25l-7.16,2.13l-7.16,-2.13v-4.25zM557.9,734.4l7.16,2.13v4.25l-7.16,2.13l-7.16,-2.13v-4.25zM572.2,734.4l7.16,2.13v4.25l-7.16,2.13l-7.16,-2.13v-4.25zM701.0,734.4l7.16,2.13v4.25l-7.16,2.13l-7.16,-2.13v-4.25zM758.3,1028.0l7.16,2.13v4.25l-7.16,2.13l-7.16,-2.13v-4.25zM772.6,734.4l7.16,2.13v4.25l-7.16,2.13l-7.16,-2.13v-4.25zM92.8,753.6l7.16,2.13v4.25l-7.16,2.13l-7.16,-2.13v-4.25zM92.8,766.3l7.16,2.13v4.25l-7.16,2.13l-7.16,-2.13v-4.25zM178.6,753.6l7.16,2.13v4.25l-7.16,2.13l-7.16,-2.13v-4.25zM207.3,753.6l7.16,2.13v4.25l-7.16,2.13l-7.16,-2.13v-4.25zM250.2,753.6l7.16,2.13v4.25l-7.16,2.13l-7.16,-2.13v-4.25zM278.8,753.6l7.16,2.13v4.25l-7.16,2.13l-7.16,-2.13v-4.25zM336.1,740.8l7.16,2.13v4.25l-7.16,2.13l-7.16,-2.13v-4.25zM393.3,740.8l7.16,2.13v4.25l-7.16,2.13l-7.16,-2.13v-4.25zM407.6,1021.6l7.16,2.13v4.25l-7.16,2.13l-7.16,-2.13v-4.25zM636.6,740.8l7.16,2.13v4.25l-7.16,2.13l-7.16,-2.13v-4.25zM636.6,1021.6l7.16,2.13v4.25l-7.16,2.13l-7.16,-2.13v-4.25zM693.9,1021.6l7.16,2.13v4.25l-7.16,2.13l-7.16,-2.13v-4.25zM794.0,1021.6l7.16,2.13v4.25l-7.16,2.13l-7.16,-2.13v-4.25z"/>
<path fill="#88ff4e" stroke="#88ff4e" d="M85.6,772.7l7.16,2.13v4.25l-7.16,2.13l-7.16,-2.13v-4.25zM128.5,772.7l7.16,2.13v4.25l-7.16,2.13l-7.16,-2.13v-4.25zM214.4,760.0l7.16,2.13v4.25l-7.16,2.13l-7.16,-2.13v-4.25zM243.0,760.0l7.16,2.13v4.25l-7.16,2.13l-7.16,-2.13v-4.25zM371.8,747.2l7.16,2.13v4.25l-7.16,2.13l-7.16,-2.13v-4.25zM386.2,747.2l7.16,2.13v4.25l-7.16,2.13l-7.16,-2.13v-4.25zM529.3,1015.3l7.16,2.13v4.25l-7.16,2.13l-7.16,-2.13v-4.25zM772.6,1015.3l7.16,2.13v4.25l-7.16,2.13l-7.16,-2.13v-4.25zM107.1,766.3l7.16,2.13v4.25l-7.16,2.13l-7.16,-2.13v-4.25zM107.1,1021.6l7.16,2.13v4.25l-7.16,2.13l-7.16,-2.13v-4.25zM135.7,1021.6l7.16,2.13v4.25l-7.16,2.13l-7.16,-2.13v-4.25zM164.3,766.3l7.16,2.13v4.25l-7.16,2.13l-7.16,-2.13v-4.25zM178.6,1021.6l7.16,2.13v4.25l-7.16,2.13l-7.16,-2.13v-4.25zM192.9,1021.6l7.16,2.13v4.25l-7.16,2.13l-7.16,-2.13v-4.25zM221.6,766.3l7.16,2.13v4.25l-7.16,2.13l-7.16,-2.13v-4.25zM250.2,766.3l7.16,2.13v4.25l-7.16,2.13l-7.16,-2.13v-4.25zM278.8,766.3l7.16,2.13v4.25l-7.16,2.13l-7.16,-2.13v-4.25zM293.1,1021.6l7.16,2.13v4.25l-7.16,2.13l-7.16,-2.13v-4.25zM307.4,753.6l7.16,2.13v4.25l-7.16,2.13l-7.16,-2.13v-4.25zM307.4,1021.6l7.16,2.13v4.25l-7.16,2.13l-7.16,-2.13v-4.25zM336.1,753.6l7.16,2.13v4.25l-7.16,2.13l-7.16,-2.13v-4.25zM479.2,740.8l7.16,2.13v4.25l-7.16,2.13l-7.16,-2.13v-4.25zM593.7,1021.6l7.16,2.13v4.25l-7.16,2.13l-7.16,-2.13v-4.25zM608.0,740.8l7.16,2.13v4.25l-7.16,2.13l-7.16,-2.13v-4.25zM608.0,1021.6l7.16,2.13v4.25l-7.16,2.13l-7.16,-2.13v-4.25zM650.9,740.8l7.16,2.13v4.25l-7.16,2.13l-7.16,-2.13v-4.25zM665.2,1021.6l7.16,2.13v4.25l-7.16,2.13l-7.16,-2.13v-4.25zM708.2,740.8l7.16,2.13v4.25l-7.16,2.13l-7.16,-2.13v-4.25zM708.2,1021.6l7.16,2.13v4.25l-7.16,2.13l-7.16,-2.13v-4.25zM736.8,740.8l7.16,2.13v4.25l-7.16,2.13l-7.16,-2.13v-4.25zM751.1,740.8l7.16,2.13v4.25l-7.16,2.13l-7.16,-2.13v-4.25z"/>
<path fill="#affa37" stroke="#affa37" d="M85.6,785.5l7.16,2.13v4.25l-7.16,2.13l-7.16,-2.13v-4.25zM157.2,798.3l7.16,2.13v4.25l-7.16,2.13l-7.16,-2.13v-4.25zM171.5,1002.5l7.16,2.13v4.25l-7.16,2.13l-7.16,-2.13v-4.25zM185.8,989.7l7.16,2.13v4.25l-7.16,2.13l-7.16,-2.13v-4.25zM185.8,1002.5l7.16,2.13v4.25l-7.16,2.13l-7.16,-2.13v-4.25zM214.4,1002.5l7.16,2.13v4.25l-7.16,2.13l-7.16,-2.13v-4.25zM228.7,1002.5l7.16,2.13v4.25l-7.16,2.13l-7.16,-2.13v-4.25zM243.0,1002.5l7.16,2.13v4.25l-7.16,2.13l-7.16,-2.13v-4.25zM257.3,785.5l7.16,2.13v4.25l-7.16,2.13l-7.16,-2.13v-4.25zM271.7,1015.3l7.16,2.13v4.25l-7.16,2.13l-7.16,-2.13v-4.25zM286.0,772.7l7.16,2.13v4.25l-7.16,2.13l-7.16,-2.13v-4.25zM300.3,772.7l7.16,2.13v4.25l-7.16,2.13l-7.16,-2.13v-4.25zM357.5,1002.5l7.16,2.13v4.25l-7.16,2.13l-7.16,-2.13v-4.25zM457.7,1015.3l7.16,2.13v4.25l-7.16,2.13l-7.16,-2.13v-4.25zM529.3,1002.5l7.16,2.13v4.25l-7.16,2.13l-7.16,-2.13v-4.25zM586.5,989.7l7.16,2.13v4.25l-7.16,2.13l-7.16,-2.13v-4.25zM600.8,1015.3l7.16,2.13v4.25l-7.16,2.13l-7.16,-2.13v-4.25zM658.1,1002.5l7.16,2.13v4.25l-7.16,2.13l-7.16,-2.13v-4.25zM686.7,989.7l7.16,2.13v4.25l-7.16,2.13l-7.16,-2.13v-4.25zM686.7,1002.5l7.16,2.13v4.25l-7.16,2.13l-7.16,-2.13v-4.25zM701.0,747.2l7.16,2.13v4.25l-7.16,2.13l-7.16,-2.13v-4.25zM715.3,760.0l7.16,2.13v4.25l-7.16,2.13l-7.16,-2.13v-4.25zM715.3,1002.5l7.16,2.13v4.25l-7.16,2.13l-7.16,-2.13v-4.25zM729.6,1002.5l7.16,2.13v4.25l-7.16,2.13l-7.16,-2.13v-4.25zM801.2,1002.5l7.16,2.13v4.25l-7.16,2.13l-7.16,-2.13v-4.25zM801.2,1015.3l7.16,2.13v4.25l-7.16,2.13l-7.16,-2.13v-4.25zM92.8,791.9l7.16,2.13v4.25l-7.16,2.13l-7.16,-2.13v-4.25zM92.8,996.1l7.16,2.13v4.25l-7.16,2.13l-7.16,-2.13v-4.25zM107.1,791.9l7.16,2.13v4.25l-7.16,2.13l-7.16,-2.13v-4.25zM121.4,779.1l7.16,2.13v4.25l-7.16,2.13l-7.16,-2.13v-4.25zM121.4,996.1l7.16,2.13v4.25l-7.16,2.13l-7.16,-2.13v-4.25zM135.7,983.3l7.16,2.13v4.25l-7.16,2.13l-7.16,-2.13v-4.25zM135.7,1008.9l7.16,2.13v4.25l-7.16,2.13l-7.16,-2.13v-4.25zM178.6,779.1l7.16,2.13v4.25l-7.16,2.13l-7.16,-2.13v-4.25zM178.6,1008.9l7.16,2.13v4.25l-7.16,2.13l-7.16,-2.13v-4.25zM207.3,1008.9l7.16,2.13v4.25l-7.16,2.13l-7.16,-2.13v-4.25zM250.2,779.1l7.16,2.13v4.25l-7.16,2.13l-7.16,-2.13v-4.25zM264.5,766.3l7.16,2.13v4.25l-7.16,2.13l-7.16,-2.13v-4.25zM278.8,779.1l7.16,2.13v4.25l-7.16,2.13l-7.16,-2.13v-4.25zM307.4,1008.9l7.16,2.13v4.25l-7.16,2.13l-7.16,-2.13v-4.25zM321.7,766.3l7.16,2.13v4.25l-7.16,2.13l-7.16,-2.13v-4.25zM350.4,766.3l7.16,2.13v4.25l-7.16,2.13l-7.16,-2.13v-4.25zM364.7,1008.9l7.16,2.13v4.25l-7.16,2.13l-7.16,-2.13v-4.25zM379.0,996.1l7.16,2.13v4.25l-7.16,2.13l-7.16,-2.13v-4.25zM393.3,1008.9l7.16,2.13v4.25l-7.16,2.13l-7.16,-2.13v-4.25zM421.9,753.6l7.16,2.13v4.25l-7.16,2.13l-7.16,-2.13v-4.25zM421.9,1008.9l7.16,2.13v4.25l-7.16,2.13l-7.16,-2.13v-4.25zM450.6,1008.9l7.16,2.13v4.25l-7.16,2.13l-7.16,-2.13v-4.25zM464.9,753.6l7.16,2.13v4.25l-7.16,2.13l-7.16,-2.13v-4.25zM479.2,753.6l7.16,2.13v4.25l-7.16,2.13l-7.16,-2.13v-4.25zM479.2,1008.9l7.16,2.13v4.25l-7.16,2.13l-7.16,-2.13v-4.25zM536.4,753.6l7.16,2.13v4.25l-7.16,2.13l-7.16,-2.13v-4.25zM550.7,753.6l7.16,2.13v4.25l-7.16,2.13l-7.16,-2.13v-4.25zM565.1,753.6l7.16,2.13v4.25l-7.16,2.13l-7.16,-2.13v-4.25zM565.1,1008.9l7.16,2.13v4.25l-7.16,2.13l-7.16,-2.13v-4.25zM579.4,753.6l7.16,2.13v4.25l-7.16,2.13l-7.16,-2.13v-4.25zM608.0,996.1l7.16,2.13v4.25l-7.16,2.13l-7.16,-2.13v-4.25zM636.6,1008.9l7.16,2.13v4.25l-7.16,2.13l-7.16,-2.13v-4.25zM665.2,753.6l7.16,2.13v4.25l-7.16,2.13l-7.16,-2.13v-4.25zM665.2,1008.9l7.16,2.13v4.25l-7.16,2.13l-7.16,-2.13v-4.25zM679.5,996.1l7.16,2.13v4.25l-7.16,2.13l-7.16,-2.13v-4.25zM693.9,1008.9l7.16,2.13v4.25l-7.16,2.13l-7.16,-2.13v-4.25zM708.2,753.6l7.16,2.13v4.25l-7.16,2.13l-7.16,-2.13v-4.25zM751.1,753.6l7.16,2.13v4.25l-7.16,2.13l-7.16,-2.13v-4.25zM765.4,753.6l7.16,2.13v4.25l-7.16,2.13l-7.16,-2.13v-4.25zM779.7,1008.9l7.16,2.13v4.25l-7.16,2.13l-7.16,-2.13v-4.25zM794.0,753.6l7.16,2.13v4.25l-7.16,2.13l-7.16,-2.13v-4.25z"/>
<path fill="#c1f334" stroke="#c1f334" d="M85.6,798.3l7.16,2.13v4.25l-7.16,2.13l-7.16,-2.13v-4.25zM85.6,989.7l7.16,2.13v4.25l-7.16,2.13l-7.16,-2.13v-4.25zM114.2,989.7l7.16,2.13v4.25l-7.16,2.13l-7.16,-2.13v-4.25zM128.5,798.3l7.16,2.13v4.25l-7.16,2.13l-7.16,-2.13v-4.25zM142.8,798.3l7.16,2.13v4.25l-7.16,2.13l-7.16,-2.13v-4.25zM157.2,977.0l7.16,2.13v4.25l-7.16,2.13l-7.16,-2.13v-4.25zM185.8,798.3l7.16,2.13v4.25l-7.16,2.13l-7.16,-2.13v-4.25zM185.8,964.2l7.16,2.13v4.25l-7.16,2.13l-7.16,-2.13v-4.25zM228.7,989.7l7.16,2.13v4.25l-7.16,2.13l-7.16,-2.13v-4.25zM257.3,977.0l7.16,2.13v4.25l-7.16,2.13l-7.16,-2.13v-4.25zM271.7,977.0l7.16,2.13v4.25l-7.16,2.13l-7.16,-2.13v-4.25zM286.0,989.7l7.16,2.13v4.25l-7.16,2.13l-7.16,-2.13v-4.25zM300.3,977.0l7.16,2.13v4.25l-7.16,2.13l-7.16,-2.13v-4.25zM300.3,989.7l7.16,2.13v4.25l-7.16,2.13l-7.16,-2.13v-4.25zM328.9,772.7l7.16,2.13v4.25l-7.16,2.13l-7.16,-2.13v-4.25zM328.9,785.5l7.16,2.13v4.25l-7.16,2.13l-7.16,-2.13v-4.25zM414.8,760.0l7.16,2.13v4.25l-7.16,2.13l-7.16,-2.13v-4.25zM429.1,760.0l7.16,2.13v4.25l-7.16,2.13l-7.16,-2.13v-4.25zM443.4,1002.5l7.16,2.13v4.25l-7.16,2.13l-7.16,-2.13v-4.25zM472.0,760.0l7.16,2.13v4.25l-7.16,2.13l-7.16,-2.13v-4.25zM486.3,760.0l7.16,2.13v4.25l-7.16,2.13l-7.16,-2.13v-4.25zM500.6,989.7l7.16,2.13v4.25l-7.16,2.13l-7.16,-2.13v-4.25zM500.6,1002.5l7.16,2.13v4.25l-7.16,2.13l-7.16,-2.13v-4.25zM529.3,772.7l7.16,2.13v4.25l-7.16,2.13l-7.16,-2.13v-4.25zM529.3,989.7l7.16,2.13v4.25l-7.16,2.13l-7.16,-2.13v-4.25zM600.8,1002.5l7.16,2.13v4.25l-7.16,2.13l-7.16,-2.13v-4.25zM643.8,989.7l7.16,2.13v4.25l-7.16,2.13l-7.16,-2.13v-4.25zM658.1,760.0l7.16,2.13v4.25l-7.16,2.13l-7.16,-2.13v-4.25zM701.0,1002.5l7.16,2.13v4.25l-7.16,2.13l-7.16,-2.13v-4.25zM744.0,989.7l7.16,2.13v4.25l-7.16,2.13l-7.16,-2.13v-4.25zM744.0,1002.5l7.16,2.13v4.25l-7.16,2.13l-7.16,-2.13v-4.25zM758.3,989.7l7.16,2.13v4.25l-7.16,2.13l-7.16,-2.13v-4.25zM786.9,760.0l7.16,2.13v4.25l-7.16,2.13l-7.16,-2.13v-4.25zM786.9,989.7l7.16,2.13v4.25l-7.16,2.13l-7.16,-2.13v-4.25zM92.8,983.3l7.16,2.13v4.25l-7.16,2.13l-7.16,-2.13v-4.25zM150.0,983.3l7.16,2.13v4.25l-7.16,2.13l-7.16,-2.13v-4.25zM164.3,804.6l7.16,2.13v4.25l-7.16,2.13l-7.16,-2.13v-4.25zM164.3,983.3l7.16,2.13v4.25l-7.16,2.13l-7.16,-2.13v-4.25zM178.6,791.9l7.16,2.13v4.25l-7.16,2.13l-7.16,-2.13v-4.25zM235.9,970.6l7.16,2.13v4.25l-7.16,2.13l-7.16,-2.13v-4.25zM293.1,1008.9l7.16,2.13v4.25l-7.16,2.13l-7.16,-2.13v-4.25zM307.4,779.1l7.16,2.13v4.25l-7.16,2.13l-7.16,-2.13v-4.25zM307.4,983.3l7.16,2.13v4.25l-7.16,2.13l-7.16,-2.13v-4.25zM336.1,996.1l7.16,2.13v4.25l-7.16,2.13l-7.16,-2.13v-4.25zM364.7,970.6l7.16,2.13v4.25l-7.16,2.13l-7.16,-2.13v-4.25zM493.5,766.3l7.16,2.13v4.25l-7.16,2.13l-7.16,-2.13v-4.25zM507.8,996.1l7.16,2.13v4.25l-7.16,2.13l-7.16,-2.13v-4.25zM522.1,996.1l7.16,2.13v4.25l-7.16,2.13l-7.16,-2.13v-4.25zM579.4,983.3l7.16,2.13v4.25l-7.16,2.13l-7.16,-2.13v-4.25zM579.4,996.1l7.16,2.13v4.25l-7.16,2.13l-7.16,-2.13v-4.25zM622.3,753.6l7.16,2.13v4.25l-7.16,2.13l-7.16,-2.13v-4.25zM636.6,983.3l7.16,2.13v4.25l-7.16,2.13l-7.16,-2.13v-4.25zM679.5,766.3l7.16,2.13v4.25l-7.16,2.13l-7.16,-2.13v-4.25zM693.9,766.3l7.16,2.13v4.25l-7.16,2.13l-7.16,-2.13v-4.25zM722.5,996.1l7.16,2.13v4.25l-7.16,2.13l-7.16,-2.13v-4.25zM736.8,1008.9l7.16,2.13v4.25l-7.16,2.13l-7.16,-2.13v-4.25zM751.1,766.3l7.16,2.13v4.25l-7.16,2.13l-7.16,-2.13v-4.25zM765.4,766.3l7.16,2.13v4.25l-7.16,2.13l-7.16,-2.13v-4.25zM779.7,983.3l7.16,2.13v4.25l-7.16,2.13l-7.16,-2.13v-4.25zM779.7,996.1l7.16,2.13v4.25l-7.16,2.13l-7.16,-2.13v-4.25zM794.0,1008.9l7.16,2.13v4.25l-7.16,2.13l-7.16,-2.13v-4.25z"/>
<path fill="#d9e436" stroke="#d9e436" d="M85.6,811.0l7.16,2.13v4.25l-7.16,2.13l-7.16,-2.13v-4.25zM99.9,811.0l7.16,2.13v4.25l-7.16,2.13l-7.16,-2.13v-4.25zM157.2,964.2l7.16,2.13v4.25l-7.16,2.13l-7.16,-2.13v-4.25zM185.8,811.0l7.16,2.13v4.25l-7.16,2.13l-7.16,-2.13v-4.25zM185.8,951.4l7.16,2.13v4.25l-7.16,2.13l-7.16,-2.13v-4.25zM243.0,964.2l7.16,2.13v4.25l-7.16,2.13l-7.16,-2.13v-4.25zM271.7,951.4l7.16,2.13v4.25l-7.16,2.13l-7.16,-2.13v-4.25zM271.7,964.2l7.16,2.13v4.25l-7.16,2.13l-7.16,-2.13v-4.25zM286.0,977.0l7.16,2.13v4.25l-7.16,2.13l-7.16,-2.13v-4.25zM328.9,964.2l7.16,2.13v4.25l-7.16,2.13l-7.16,-2.13v-4.25zM328.9,989.7l7.16,2.13v4.25l-7.16,2.13l-7.16,-2.13v-4.25zM343.2,785.5l7.16,2.13v4.25l-7.16,2.13l-7.16,-2.13v-4.25zM357.5,977.0l7.16,2.13v4.25l-7.16,2.13l-7.16,-2.13v-4.25zM386.2,977.0l7.16,2.13v4.25l-7.16,2.13l-7.16,-2.13v-4.25zM400.5,772.7l7.16,2.13v4.25l-7.16,2.13l-7.16,-2.13v-4.25zM400.5,964.2l7.16,2.13v4.25l-7.16,2.13l-7.16,-2.13v-4.25zM414.8,964.2l7.16,2.13v4.25l-7.16,2.13l-7.16,-2.13v-4.25zM414.8,977.0l7.16,2.13v4.25l-7.16,2.13l-7.16,-2.13v-4.25zM429.1,977.0l7.16,2.13v4.25l-7.16,2.13l-7.16,-2.13v-4.25zM472.0,772.7l7.16,2.13v4.25l-7.16,2.13l-7.16,-2.13v-4.25zM500.6,772.7l7.16,2.13v4.25l-7.16,2.13l-7.16,-2.13v-4.25zM500.6,785.5l7.16,2.13v4.25l-7.16,2.13l-7.16,-2.13v-4.25zM500.6,977.0l7.16,2.13v4.25l-7.16,2.13l-7.16,-2.13v-4.25zM557.9,772.7l7.16,2.13v4.25l-7.16,2.13l-7.16,-2.13v-4.25zM557.9,785.5l7.16,2.13v4.25l-7.16,2.13l-7.16,-2.13v-4.25zM557.9,977.0l7.16,2.13v4.25l-7.16,2.13l-7.16,-2.13v-4.25zM600.8,785.5l7.16,2.13v4.25l-7.16,2.13l-7.16,-2.13v-4.25zM629.5,772.7l7.16,2.13v4.25l-7.16,2.13l-7.16,-2.13v-4.25zM643.8,964.2l7.16,2.13v4.25l-7.16,2.13l-7.16,-2.13v-4.25zM658.1,785.5l7.16,2.13v4.25l-7.16,2.13l-7.16,-2.13v-4.25zM672.4,964.2l7.16,2.13v4.25l-7.16,2.13l-7.16,-2.13v-4.25zM715.3,977.0l7.16,2.13v4.25l-7.16,2.13l-7.16,-2.13v-4.25zM786.9,785.5l7.16,2.13v4.25l-7.16,2.13l-7.16,-2.13v-4.25zM786.9,977.0l7.16,2.13v4.25l-7.16,2.13l-7.16,-2.13v-4.25zM801.2,772.7l7.16,2.13v4.25l-7.16,2.13l-7.16,-2.13v-4.25zM107.1,957.8l7.16,2.13v4.25l-7.16,2.13l-7.16,-2.13v-4.25zM135.7,957.8l7.16,2.13v4.25l-7.16,2.13l-7.16,-2.13v-4.25zM150.0,957.8l7.16,2.13v4.25l-7.16,2.13l-7.16,-2.13v-4.25zM178.6,817.4l7.16,2.13v4.25l-7.16,2.13l-7.16,-2.13v-4.25zM192.9,817.4l7.16,2.13v4.25l-7.16,2.13l-7.16,-2.13v-4.25zM207.3,945.0l7.16,2.13v4.25l-7.16,2.13l-7.16,-2.13v-4.25zM221.6,945.0l7.16,2.13v4.25l-7.16,2.13l-7.16,-2.13v-4.25zM221.6,957.8l7.16,2.13v4.25l-7.16,2.13l-7.16,-2.13v-4.25zM235.9,957.8l7.16,2.13v4.25l-7.16,2.13l-7.16,-2.13v-4.25zM250.2,945.0l7.16,2.13v4.25l-7.16,2.13l-7.16,-2.13v-4.25zM278.8,804.6l7.16,2.13v4.25l-7.16,2.13l-7.16,-2.13v-4.25zM278.8,957.8l7.16,2.13v4.25l-7.16,2.13l-7.16,-2.13v-4.25zM293.1,957.8l7.16,2.13v4.25l-7.16,2.13l-7.16,-2.13v-4.25zM321.7,791.9l7.16,2.13v4.25l-7.16,2.13l-7.16,-2.13v-4.25zM336.1,983.3l7.16,2.13v4.25l-7.16,2.13l-7.16,-2.13v-4.25zM350.4,970.6l7.16,2.13v4.25l-7.16,2.13l-7.16,-2.13v-4.25zM364.7,779.1l7.16,2.13v4.25l-7.16,2.13l-7.16,-2.13v-4.25zM393.3,779.1l7.16,2.13v4.25l-7.16,2.13l-7.16,-2.13v-4.25zM393.3,970.6l7.16,2.13v4.25l-7.16,2.13l-7.16,-2.13v-4.25zM407.6,970.6l7.16,2.13v4.25l-7.16,2.13l-7.16,-2.13v-4.25zM436.2,970.6l7.16,2.13v4.25l-7.16,2.13l-7.16,-2.13v-4.25zM450.6,779.1l7.16,2.13v4.25l-7.16,2.13l-7.16,-2.13v-4.25zM464.9,970.6l7.16,2.13v4.25l-7.16,2.13l-7.16,-2.13v-4.25zM493.5,779.1l7.16,2.13v4.25l-7.16,2.13l-7.16,-2.13v-4.25zM493.5,970.6l7.16,2.13v4.25l-7.16,2.13l-7.16,-2.13v-4.25zM507.8,779.1l7.16,2.13v4.25l-7.16,2.13l-7.16,-2.13v-4.25zM550.7,766.3l7.16,2.13v4.25l-7.16,2.13l-7.16,-2.13v-4.25zM565.1,970.6l7.16,2.13v4.25l-7.16,2.13l-7.16,-2.13v-4.25zM579.4,970.6l7.16,2.13v4.25l-7.16,2.13l-7.16,-2.13v-4.25zM593.7,970.6l7.16,2.13v4.25l-7.16,2.13l-7.16,-2.13v-4.25zM608.0,779.1l7.16,2.13v4.25l-7.16,2.13l-7.16,-2.13v-4.25zM622.3,779.1l7.16,2.13v4.25l-7.16,2.13l-7.16,-2.13v-4.25zM650.9,766.3l7.16,2.13v4.25l-7.16,2.13l-7.16,-2.13v-4.25zM650.9,779.1l7.16,2.13v4.25l-7.16,2.13l-7.16,-2.13v-4.25zM650.9,970.6l7.16,2.13v4.25l-7.16,2.13l-7.16,-2.13v-4.25zM665.2,779.1l7.16,2.13v4.25l-7.16,2.13l-7.16,-2.13v-4.25zM665.2,970.6l7.16,2.13v4.25l-7.16,2.13l-7.16,-2.13v-4.25zM679.5,970.6l7.16,2.13v4.25l-7.16,2.13l-7.16,-2.13v-4.25zM693.9,791.9l7.16,2.13v4.25l-7.16,2.13l-7.16,-2.13v-4.25zM722.5,970.6l7.16,2.13v4.25l-7.16,2.13l-7.16,-2.13v-4.25zM765.4,779.1l7.16,2.13v4.25l-7.16,2.13l-7.16,-2.13v-4.25zM779.7,791.9l7.16,2.13v4.25l-7.16,2.13l-7.16,-2.13v-4.25zM794.0,970.6l7.16,2.13v4.25l-7.16,2.13l-7.16,-2.13v-4.25z"/>
<path fill="#e9d539" stroke="#e9d539" d="M85.6,823.8l7.16,2.13v4.25l-7.16,2.13l-7.16,-2.13v-4.25zM128.5,823.8l7.16,2.13v4.25l-7.16,2.13l-7.16,-2.13v-4.25zM157.2,938.7l7.16,2.13v4.25l-7.16,2.13l-7.16,-2.13v-4.25zM157.2,951.4l7.16,2.13v4.25l-7.16,2.13l-7.16,-2.13v-4.25zM200.1,823.8l7.16,2.13v4.25l-7.16,2.13l-7.16,-2.13v-4.25zM200.1,925.9l7.16,2.13v4.25l-7.16,2.13l-7.16,-2.13v-4.25zM228.7,823.8l7.16,2.13v4.25l-7.16,2.13l-7.16,-2.13v-4.25zM243.0,938.7l7.16,2.13v4.25l-7.16,2.13l-7.16,-2.13v-4.25zM300.3,811.0l7.16,2.13v4.25l-7.16,2.13l-7.16,-2.13v-4.25zM314.6,938.7l7.16,2.13v4.25l-7.16,2.13l-7.16,-2.13v-4.25zM314.6,951.4l7.16,2.13v4.25l-7.16,2.13l-7.16,-2.13v-4.25zM343.2,798.3l7.16,2.13v4.25l-7.16,2.13l-7.16,-2.13v-4.25zM343.2,951.4l7.16,2.13v4.25l-7.16,2.13l-7.16,-2.13v-4.25zM343.2,964.2l7.16,2.13v4.25l-7.16,2.13l-7.16,-2.13v-4.25zM371.8,951.4l7.16,2.13v4.25l-7.16,2.13l-7.16,-2.13v-4.25zM386.2,785.5l7.16,2.13v4.25l-7.16,2.13l-7.16,-2.13v-4.25zM443.4,964.2l7.16,2.13v4.25l-7.16,2.13l-7.16,-2.13v-4.25zM457.7,785.5l7.16,2.13v4.25l-7.16,2.13l-7.16,-2.13v-4.25zM486.3,964.2l7.16,2.13v4.25l-7.16,2.13l-7.16,-2.13v-4.25zM515.0,964.2l7.16,2.13v4.25l-7.16,2.13l-7.16,-2.13v-4.25zM529.3,798.3l7.16,2.13v4.25l-7.16,2.13l-7.16,-2.13v-4.25zM529.3,964.2l7.16,2.13v4.25l-7.16,2.13l-7.16,-2.13v-4.25zM543.6,798.3l7.16,2.13v4.25l-7.16,2.13l-7.16,-2.13v-4.25zM557.9,964.2l7.16,2.13v4.25l-7.16,2.13l-7.16,-2.13v-4.25zM600.8,798.3l7.16,2.13v4.25l-7.16,2.13l-7.16,-2.13v-4.25zM600.8,964.2l7.16,2.13v4.25l-7.16,2.13l-7.16,-2.13v-4.25zM701.0,785.5l7.16,2.13v4.25l-7.16,2.13l-7.16,-2.13v-4.25zM701.0,964.2l7.16,2.13v4.25l-7.16,2.13l-7.16,-2.13v-4.25zM729.6,964.2l7.16,2.13v4.25l-7.16,2.13l-7.16,-2.13v-4.25zM744.0,964.2l7.16,2.13v4.25l-7.16,2.13l-7.16,-2.13v-4.25zM772.6,811.0l7.16,2.13v4.25l-7.16,2.13l-7.16,-2.13v-4.25zM786.9,964.2l7.16,2.13v4.25l-7.16,2.13l-7.16,-2.13v-4.25zM121.4,817.4l7.16,2.13v4.25l-7.16,2.13l-7.16,-2.13v-4.25zM150.0,817.4l7.16,2.13v4.25l-7.16,2.13l-7.16,-2.13v-4.25zM178.6,945.0l7.16,2.13v4.25l-7.16,2.13l-7.16,-2.13v-4.25zM221.6,932.3l7.16,2.13v4.25l-7.16,2.13l-7.16,-2.13v-4.25zM235.9,817.4l7.16,2.13v4.25l-7.16,2.13l-7.16,-2.13v-4.25zM235.9,932.3l7.16,2.13v4.25l-7.16,2.13l-7.16,-2.13v-4.25zM235.9,945.0l7.16,2.13v4.25l-7.16,2.13l-7.16,-2.13v-4.25zM250.2,817.4l7.16,2.13v4.25l-7.16,2.13l-7.16,-2.13v-4.25zM250.2,932.3l7.16,2.13v4.25l-7.16,2.13l-7.16,-2.13v-4.25zM264.5,932.3l7.16,2.13v4.25l-7.16,2.13l-7.16,-2.13v-4.25zM264.5,945.0l7.16,2.13v4.25l-7.16,2.13l-7.16,-2.13v-4.25zM278.8,817.4l7.16,2.13v4.25l-7.16,2.13l-7.16,-2.13v-4.25zM278.8,945.0l7.16,2.13v4.25l-7.16,2.13l-7.16,-2.13v-4.25zM307.4,932.3l7.16,2.13v4.25l-7.16,2.13l-7.16,-2.13v-4.25zM307.4,945.0l7.16,2.13v4.25l-7.16,2.13l-7.16,-2.13v-4.25zM321.7,804.6l7.16,2.13v4.25l-7.16,2.13l-7.16,-2.13v-4.25zM321.7,932.3l7.16,2.13v4.25l-7.16,2.13l-7.16,-2.13v-4.25zM336.1,945.0l7.16,2.13v4.25l-7.16,2.13l-7.16,-2.13v-4.25zM364.7,791.9l7.16,2.13v4.25l-7.16,2.13l-7.16,-2.13v-4.25zM379.0,957.8l7.16,2.13v4.25l-7.16,2.13l-7.16,-2.13v-4.25zM393.3,957.8l7.16,2.13v4.25l-7.16,2.13l-7.16,-2.13v-4.25zM450.6,957.8l7.16,2.13v4.25l-7.16,2.13l-7.16,-2.13v-4.25zM464.9,957.8l7.16,2.13v4.25l-7.16,2.13l-7.16,-2.13v-4.25zM479.2,957.8l7.16,2.13v4.25l-7.16,2.13l-7.16,-2.13v-4.25zM507.8,970.6l7.16,2.13v4.25l-7.16,2.13l-7.16,-2.13v-4.25zM522.1,957.8l7.16,2.13v4.25l-7.16,2.13l-7.16,-2.13v-4.25zM536.4,791.9l7.16,2.13v4.25l-7.16,2.13l-7.16,-2.13v-4.25zM536.4,957.8l7.16,2.13v4.25l-7.16,2.13l-7.16,-2.13v-4.25zM593.7,791.9l7.16,2.13v4.25l-7.16,2.13l-7.16,-2.13v-4.25zM593.7,957.8l7.16,2.13v4.25l-7.16,2.13l-7.16,-2.13v-4.25zM622.3,791.9l7.16,2.13v4.25l-7.16,2.13l-7.16,-2.13v-4.25zM622.3,957.8l7.16,2.13v4.25l-7.16,2.13l-7.16,-2.13v-4.25zM679.5,804.6l7.16,2.13v4.25l-7.16,2.13l-7.16,-2.13v-4.25zM693.9,804.6l7.16,2.13v4.25l-7.16,2.13l-7.16,-2.13v-4.25zM693.9,957.8l7.16,2.13v4.25l-7.16,2.13l-7.16,-2.13v-4.25zM708.2,791.9l7.16,2.13v4.25l-7.16,2.13l-7.16,-2.13v-4.25zM708.2,957.8l7.16,2.13v4.25l-7.16,2.13l-7.16,-2.13v-4.25zM722.5,791.9l7.16,2.13v4.25l-7.16,2.13l-7.16,-2.13v-4.25zM722.5,957.8l7.16,2.13v4.25l-7.16,2.13l-7.16,-2.13v-4.25zM765.4,804.6l7.16,2.13v4.25l-7.16,2.13l-7.16,-2.13v-4.25zM779.7,957.8l7.16,2.13v4.25l-7.16,2.13l-7.16,-2.13v-4.25zM794.0,945.0l7.16,2.13v4.25l-7.16,2.13l-7.16,-2.13v-4.25z"/>
<path fill="#f1cb3a" stroke="#f1cb3a" d="M85.6,836.6l7.16,2.13v4.25l-7.16,2.13l-7.16,-2.13v-4.25zM99.9,836.6l7.16,2.13v4.25l-7.16,2.13l-7.16,-2.13v-4.25zM99.9,938.7l7.16,2.13v4.25l-7.16,2.13l-7.16,-2.13v-4.25zM99.9,951.4l7.16,2.13v4.25l-7.16,2.13l-7.16,-2.13v-4.25zM128.5,925.9l7.16,2.13v4.25l-7.16,2.13l-7.16,-2.13v-4.25zM142.8,925.9l7.16,2.13v4.25l-7.16,2.13l-7.16,-2.13v-4.25zM142.8,938.7l7.16,2.13v4.25l-7.16,2.13l-7.16,-2.13v-4.25zM157.2,925.9l7.16,2.13v4.25l-7.16,2.13l-7.16,-2.13v-4.25zM185.8,925.9l7.16,2.13v4.25l-7.16,2.13l-7.16,-2.13v-4.25zM214.4,836.6l7.16,2.13v4.25l-7.16,2.13l-7.16,-2.13v-4.25zM214.4,925.9l7.16,2.13v4.25l-7.16,2.13l-7.16,-2.13v-4.25zM228.7,836.6l7.16,2.13v4.25l-7.16,2.13l-7.16,-2.13v-4.25zM228.7,925.9l7.16,2.13v4.25l-7.16,2.13l-7.16,-2.13v-4.25zM243.0,925.9l7.16,2.13v4.25l-7.16,2.13l-7.16,-2.13v-4.25zM271.7,823.8l7.16,2.13v4.25l-7.16,2.13l-7.16,-2.13v-4.25zM271.7,913.1l7.16,2.13v4.25l-7.16,2.13l-7.16,-2.13v-4.25zM271.7,925.9l7.16,2.13v4.25l-7.16,2.13l-7.16,-2.13v-4.25zM300.3,925.9l7.16,2.13v4.25l-7.16,2.13l-7.16,-2.13v-4.25zM328.9,798.3l7.16,2.13v4.25l-7.16,2.13l-7.16,-2.13v-4.25zM328.9,811.0l7.16,2.13v4.25l-7.16,2.13l-7.16,-2.13v-4.25zM343.2,938.7l7.16,2.13v4.25l-7.16,2.13l-7.16,-2.13v-4.25zM357.5,798.3l7.16,2.13v4.25l-7.16,2.13l-7.16,-2.13v-4.25zM357.5,938.7l7.16,2.13v4.25l-7.16,2.13l-7.16,-2.13v-4.25zM371.8,798.3l7.16,2.13v4.25l-7.16,2.13l-7.16,-2.13v-4.25zM371.8,938.7l7.16,2.13v4.25l-7.16,2.13l-7.16,-2.13v-4.25zM414.8,785.5l7.16,2.13v4.25l-7.16,2.13l-7.16,-2.13v-4.25zM414.8,951.4l7.16,2.13v4.25l-7.16,2.13l-7.16,-2.13v-4.25zM457.7,964.2l7.16,2.13v4.25l-7.16,2.13l-7.16,-2.13v-4.25zM472.0,798.3l7.16,2.13v4.25l-7.16,2.13l-7.16,-2.13v-4.25zM543.6,964.2l7.16,2.13v4.25l-7.16,2.13l-7.16,-2.13v-4.25zM557.9,798.3l7.16,2.13v4.25l-7.16,2.13l-7.16,-2.13v-4.25zM557.9,951.4l7.16,2.13v4.25l-7.16,2.13l-7.16,-2.13v-4.25zM600.8,811.0l7.16,2.13v4.25l-7.16,2.13l-7.16,-2.13v-4.25zM629.5,951.4l7.16,2.13v4.25l-7.16,2.13l-7.16,-2.13v-4.25zM658.1,951.4l7.16,2.13v4.25l-7.16,2.13l-7.16,-2.13v-4.25zM672.4,811.0l7.16,2.13v4.25l-7.16,2.13l-7.16,-2.13v-4.25zM672.4,938.7l7.16,2.13v4.25l-7.16,2.13l-7.16,-2.13v-4.25zM686.7,811.0l7.16,2.13v4.25l-7.16,2.13l-7.16,-2.13v-4.25zM701.0,798.3l7.16,2.13v4.25l-7.16,2.13l-7.16,-2.13v-4.25zM701.0,811.0l7.16,2.13v4.25l-7.16,2.13l-7.16,-2.13v-4.25zM715.3,951.4l7.16,2.13v4.25l-7.16,2.13l-7.16,-2.13v-4.25zM729.6,811.0l7.16,2.13v4.25l-7.16,2.13l-7.16,-2.13v-4.25zM729.6,951.4l7.16,2.13v4.25l-7.16,2.13l-7.16,-2.13v-4.25zM744.0,811.0l7.16,2.13v4.25l-7.16,2.13l-7.16,-2.13v-4.25zM744.0,823.8l7.16,2.13v4.25l-7.16,2.13l-7.16,-2.13v-4.25zM758.3,811.0l7.16,2.13v4.25l-7.16,2.13l-7.16,-2.13v-4.25zM758.3,951.4l7.16,2.13v4.25l-7.16,2.13l-7.16,-2.13v-4.25zM772.6,938.7l7.16,2.13v4.25l-7.16,2.13l-7.16,-2.13v-4.25zM786.9,811.0l7.16,2.13v4.25l-7.16,2.13l-7.16,-2.13v-4.25zM786.9,836.6l7.16,2.13v4.25l-7.16,2.13l-7.16,-2.13v-4.25zM786.9,925.9l7.16,2.13v4.25l-7.16,2.13l-7.16,-2.13v-4.25zM801.2,823.8l7.16,2.13v4.25l-7.16,2.13l-7.16,-2.13v-4.25zM801.2,951.4l7.16,2.13v4.25l-7.16,2.13l-7.16,-2.13v-4.25zM92.8,830.2l7.16,2.13v4.25l-7.16,2.13l-7.16,-2.13v-4.25zM92.8,932.3l7.16,2.13v4.25l-7.16,2.13l-7.16,-2.13v-4.25zM92.8,945.0l7.16,2.13v4.25l-7.16,2.13l-7.16,-2.13v-4.25zM107.1,932.3l7.16,2.13v4.25l-7.16,2.13l-7.16,-2.13v-4.25zM121.4,830.2l7.16,2.13v4.25l-7.16,2.13l-7.16,-2.13v-4.25zM121.4,919.5l7.16,2.13v4.25l-7.16,2.13l-7.16,-2.13v-4.25zM121.4,945.0l7.16,2.13v4.25l-7.16,2.13l-7.16,-2.13v-4.25zM135.7,945.0l7.16,2.13v4.25l-7.16,2.13l-7.16,-2.13v-4.25zM150.0,919.5l7.16,2.13v4.25l-7.16,2.13l-7.16,-2.13v-4.25zM164.3,919.5l7.16,2.13v4.25l-7.16,2.13l-7.16,-2.13v-4.25zM178.6,830.2l7.16,2.13v4.25l-7.16,2.13l-7.16,-2.13v-4.25zM178.6,919.5l7.16,2.13v4.25l-7.16,2.13l-7.16,-2.13v-4.25zM207.3,919.5l7.16,2.13v4.25l-7.16,2.13l-7.16,-2.13v-4.25zM235.9,919.5l7.16,2.13v4.25l-7.16,2.13l-7.16,-2.13v-4.25zM278.8,919.5l7.16,2.13v4.25l-7.16,2.13l-7.16,-2.13v-4.25zM307.4,817.4l7.16,2.13v4.25l-7.16,2.13l-7.16,-2.13v-4.25zM321.7,817.4l7.16,2.13v4.25l-7.16,2.13l-7.16,-2.13v-4.25zM336.1,804.6l7.16,2.13v4.25l-7.16,2.13l-7.16,-2.13v-4.25zM336.1,932.3l7.16,2.13v4.25l-7.16,2.13l-7.16,-2.13v-4.25zM350.4,932.3l7.16,2.13v4.25l-7.16,2.13l-7.16,-2.13v-4.25zM350.4,945.0l7.16,2.13v4.25l-7.16,2.13l-7.16,-2.13v-4.25zM379.0,791.9l7.16,2.13v4.25l-7.16,2.13l-7.16,-2.13v-4.25zM421.9,945.0l7.16,2.13v4.25l-7.16,2.13l-7.16,-2.13v-4.25zM436.2,791.9l7.16,2.13v4.25l-7.16,2.13l-7.16,-2.13v-4.25zM450.6,791.9l7.16,2.13v4.25l-7.16,2.13l-7.16,-2.13v-4.25zM464.9,791.9l7.16,2.13v4.25l-7.16,2.13l-7.16,-2.13v-4.25zM493.5,791.9l7.16,2.13v4.25l-7.16,2.13l-7.16,-2.13v-4.25zM493.5,957.8l7.16,2.13v4.25l-7.16,2.13l-7.16,-2.13v-4.25zM507.8,957.8l7.16,2.13v4.25l-7.16,2.13l-7.16,-2.13v-4.25zM565.1,804.6l7.16,2.13v4.25l-7.16,2.13l-7.16,-2.13v-4.25zM565.1,957.8l7.16,2.13v4.25l-7.16,2.13l-7.16,-2.13v-4.25zM579.4,957.8l7.16,2.13v4.25l-7.16,2.13l-7.16,-2.13v-4.25zM608.0,804.6l7.16,2.13v4.25l-7.16,2.13l-7.16,-2.13v-4.25zM608.0,957.8l7.16,2.13v4.25l-7.16,2.13l-7.16,-2.13v-4.25zM650.9,804.6l7.16,2.13v4.25l-7.16,2.13l-7.16,-2.13v-4.25zM665.2,804.6l7.16,2.13v4.25l-7.16,2.13l-7.16,-2.13v-4.25zM665.2,945.0l7.16,2.13v4.25l-7.16,2.13l-7.16,-2.13v-4.25zM693.9,817.4l7.16,2.13v4.25l-7.16,2.13l-7.16,-2.13v-4.25zM693.9,932.3l7.16,2.13v4.25l-7.16,2.13l-7.16,-2.13v-4.25zM693.9,945.0l7.16,2.13v4.25l-7.16,2.13l-7.16,-2.13v-4.25zM736.8,804.6l7.16,2.13v4.25l-7.16,2.13l-7.16,-2.13v-4.25zM736.8,817.4l7.16,2.13v4.25l-7.16,2.13l-7.16,-2.13v-4.25zM765.4,945.0l7.16,2.13v4.25l-7.16,2.13l-7.16,-2.13v-4.25zM779.7,817.4l7.16,2.13v4.25l-7.16,2.13l-7.16,-2.13v-4.25zM779.7,945.0l7.16,2.13v4.25l-7.16,2.13l-7.16,-2.13v-4.25zM794.0,817.4l7.16,2.13v4.25l-7.16,2.13l-7.16,-2.13v-4.25z"/>
<path fill="#f7c13a" stroke="#f7c13a" d="M85.6,849.3l7.16,2.13v4.25l-7.16,2.13l-7.16,-2.13v-4.25zM85.6,862.1l7.16,2.13v4.25l-7.16,2.13l-7.16,-2.13v-4.25zM85.6,913.1l7.16,2.13v4.25l-7.16,2.13l-7.16,-2.13v-4.25zM85.6,938.7l7.16,2.13v4.25l-7.16,2.13l-7.16,-2.13v-4.25zM99.9,925.9l7.16,2.13v4.25l-7.16,2.13l-7.16,-2.13v-4.25zM114.2,913.1l7.16,2.13v4.25l-7.16,2.13l-7.16,-2.13v-4.25zM114.2,925.9l7.16,2.13v4.25l-7.16,2.13l-7.16,-2.13v-4.25zM128.5,900.4l7.16,2.13v4.25l-7.16,2.13l-7.16,-2.13v-4.25zM142.8,913.1l7.16,2.13v4.25l-7.16,2.13l-7.16,-2.13v-4.25zM157.2,900.4l7.16,2.13v4.25l-7.16,2.13l-7.16,-2.13v-4.25zM157.2,913.1l7.16,2.13v4.25l-7.16,2.13l-7.16,-2.13v-4.25zM171.5,836.6l7.16,2.13v4.25l-7.16,2.13l-7.16,-2.13v-4.25zM171.5,887.6l7.16,2.13v4.25l-7.16,2.13l-7.16,-2.13v-4.25zM171.5,900.4l7.16,2.13v4.25l-7.16,2.13l-7.16,-2.13v-4.25zM171.5,913.1l7.16,2.13v4.25l-7.16,2.13l-7.16,-2.13v-4.25zM200.1,836.6l7.16,2.13v4.25l-7.16,2.13l-7.16,-2.13v-4.25zM228.7,913.1l7.16,2.13v4.25l-7.16,2.13l-7.16,-2.13v-4.25zM243.0,913.1l7.16,2.13v4.25l-7.16,2.13l-7.16,-2.13v-4.25zM271.7,836.6l7.16,2.13v4.25l-7.16,2.13l-7.16,-2.13v-4.25zM300.3,913.1l7.16,2.13v4.25l-7.16,2.13l-7.16,-2.13v-4.25zM314.6,900.4l7.16,2.13v4.25l-7.16,2.13l-7.16,-2.13v-4.25zM343.2,811.0l7.16,2.13v4.25l-7.16,2.13l-7.16,-2.13v-4.25zM343.2,823.8l7.16,2.13v4.25l-7.16,2.13l-7.16,-2.13v-4.25zM343.2,925.9l7.16,2.13v4.25l-7.16,2.13l-7.16,-2.13v-4.25zM357.5,811.0l7.16,2.13v4.25l-7.16,2.13l-7.16,-2.13v-4.25zM371.8,811.0l7.16,2.13v4.25l-7.16,2.13l-7.16,-2.13v-4.25zM386.2,925.9l7.16,2.13v4.25l-7.16,2.13l-7.16,-2.13v-4.25zM414.8,798.3l7.16,2.13v4.25l-7.16,2.13l-7.16,-2.13v-4.25zM443.4,798.3l7.16,2.13v4.25l-7.16,2.13l-7.16,-2.13v-4.25zM443.4,938.7l7.16,2.13v4.25l-7.16,2.13l-7.16,-2.13v-4.25zM457.7,798.3l7.16,2.13v4.25l-7.16,2.13l-7.16,-2.13v-4.25zM486.3,798.3l7.16,2.13v4.25l-7.16,2.13l-7.16,-2.13v-4.25zM486.3,938.7l7.16,2.13v4.25l-7.16,2.13l-7.16,-2.13v-4.25zM486.3,951.4l7.16,2.13v4.25l-7.16,2.13l-7.16,-2.13v-4.25zM500.6,811.0l7.16,2.13v4.25l-7.16,2.13l-7.16,-2.13v-4.25zM500.6,951.4l7.16,2.13v4.25l-7.16,2.13l-7.16,-2.13v-4.25zM515.0,811.0l7.16,2.13v4.25l-7.16,2.13l-7.16,-2.13v-4.25zM572.2,811.0l7.16,2.13v4.25l-7.16,2.13l-7.16,-2.13v-4.25zM600.8,951.4l7.16,2.13v4.25l-7.16,2.13l-7.16,-2.13v-4.25zM629.5,811.0l7.16,2.13v4.25l-7.16,2.13l-7.16,-2.13v-4.25zM643.8,823.8l7.16,2.13v4.25l-7.16,2.13l-7.16,-2.13v-4.25zM643.8,951.4l7.16,2.13v4.25l-7.16,2.13l-7.16,-2.13v-4.25zM686.7,938.7l7.16,2.13v4.25l-7.16,2.13l-7.16,-2.13v-4.25zM701.0,823.8l7.16,2.13v4.25l-7.16,2.13l-7.16,-2.13v-4.25zM701.0,938.7l7.16,2.13v4.25l-7.16,2.13l-7.16,-2.13v-4.25zM715.3,938.7l7.16,2.13v4.25l-7.16,2.13l-7.16,-2.13v-4.25zM729.6,925.9l7.16,2.13v4.25l-7.16,2.13l-7.16,-2.13v-4.25zM744.0,913.1l7.16,2.13v4.25l-7.16,2.13l-7.16,-2.13v-4.25zM744.0,925.9l7.16,2.13v4.25l-7.16,2.13l-7.16,-2.13v-4.25zM744.0,938.7l7.16,2.13v4.25l-7.16,2.13l-7.16,-2.13v-4.25zM758.3,836.6l7.16,2.13v4.25l-7.16,2.13l-7.16,-2.13v-4.25zM758.3,913.1l7.16,2.13v4.25l-7.16,2.13l-7.16,-2.13v-4.25zM758.3,925.9l7.16,2.13v4.25l-7.16,2.13l-7.16,-2.13v-4.25zM772.6,823.8l7.16,2.13v4.25l-7.16,2.13l-7.16,-2.13v-4.25zM772.6,836.6l7.16,2.13v4.25l-7.16,2.13l-7.16,-2.13v-4.25zM772.6,887.6l7.16,2.13v4.25l-7.16,2.13l-7.16,-2.13v-4.25zM772.6,913.1l7.16,2.13v4.25l-7.16,2.13l-7.16,-2.13v-4.25zM786.9,823.8l7.16,2.13v4.25l-7.16,2.13l-7.16,-2.13v-4.25zM786.9,849.3l7.16,2.13v4.25l-7.16,2.13l-7.16,-2.13v-4.25zM786.9,887.6l7.16,2.13v4.25l-7.16,2.13l-7.16,-2.13v-4.25zM801.2,862.1l7.16,2.13v4.25l-7.16,2.13l-7.16,-2.13v-4.25zM801.2,900.4l7.16,2.13v4.25l-7.16,2.13l-7.16,-2.13v-4.25zM92.8,842.9l7.16,2.13v4.25l-7.16,2.13l-7.16,-2.13v-4.25zM92.8,868.5l7.16,2.13v4.25l-7.16,2.13l-7.16,-2.13v-4.25zM107.1,894.0l7.16,2.13v4.25l-7.16,2.13l-7.16,-2.13v-4.25zM107.1,906.8l7.16,2.13v4.25l-7.16,2.13l-7.16,-2.13v-4.25zM121.4,868.5l7.16,2.13v4.25l-7.16,2.13l-7.16,-2.13v-4.25zM121.4,881.2l7.16,2.13v4.25l-7.16,2.13l-7.16,-2.13v-4.25zM135.7,894.0l7.16,2.13v4.25l-7.16,2.13l-7.16,-2.13v-4.25zM135.7,906.8l7.16,2.13v4.25l-7.16,2.13l-7.16,-2.13v-4.25zM150.0,881.2l7.16,2.13v4.25l-7.16,2.13l-7.16,-2.13v-4.25zM150.0,894.0l7.16,2.13v4.25l-7.16,2.13l-7.16,-2.13v-4.25zM164.3,906.8l7.16,2.13v4.25l-7.16,2.13l-7.16,-2.13v-4.25zM178.6,906.8l7.16,2.13v4.25l-7.16,2.13l-7.16,-2.13v-4.25zM192.9,906.8l7.16,2.13v4.25l-7.16,2.13l-7.16,-2.13v-4.25zM207.3,842.9l7.16,2.13v4.25l-7.16,2.13l-7.16,-2.13v-4.25zM207.3,906.8l7.16,2.13v4.25l-7.16,2.13l-7.16,-2.13v-4.25zM221.6,842.9l7.16,2.13v4.25l-7.16,2.13l-7.16,-2.13v-4.25zM221.6,919.5l7.16,2.13v4.25l-7.16,2.13l-7.16,-2.13v-4.25zM235.9,842.9l7.16,2.13v4.25l-7.16,2.13l-7.16,-2.13v-4.25zM250.2,842.9l7.16,2.13v4.25l-7.16,2.13l-7.16,-2.13v-4.25zM264.5,919.5l7.16,2.13v4.25l-7.16,2.13l-7.16,-2.13v-4.25zM278.8,830.2l7.16,2.13v4.25l-7.16,2.13l-7.16,-2.13v-4.25zM293.1,830.2l7.16,2.13v4.25l-7.16,2.13l-7.16,-2.13v-4.25zM293.1,919.5l7.16,2.13v4.25l-7.16,2.13l-7.16,-2.13v-4.25zM307.4,830.2l7.16,2.13v4.25l-7.16,2.13l-7.16,-2.13v-4.25zM307.4,906.8l7.16,2.13v4.25l-7.16,2.13l-7.16,-2.13v-4.25zM307.4,919.5l7.16,2.13v4.25l-7.16,2.13l-7.16,-2.13v-4.25zM321.7,919.5l7.16,2.13v4.25l-7.16,2.13l-7.16,-2.13v-4.25zM336.1,919.5l7.16,2.13v4.25l-7.16,2.13l-7.16,-2.13v-4.25zM364.7,932.3l7.16,2.13v4.25l-7.16,2.13l-7.16,-2.13v-4.25zM379.0,932.3l7.16,2.13v4.25l-7.16,2.13l-7.16,-2.13v-4.25zM393.3,804.6l7.16,2.13v4.25l-7.16,2.13l-7.16,-2.13v-4.25zM421.9,791.9l7.16,2.13v4.25l-7.16,2.13l-7.16,-2.13v-4.25zM450.6,945.0l7.16,2.13v4.25l-7.16,2.13l-7.16,-2.13v-4.25zM479.2,945.0l7.16,2.13v4.25l-7.16,2.13l-7.16,-2.13v-4.25zM507.8,804.6l7.16,2.13v4.25l-7.16,2.13l-7.16,-2.13v-4.25zM536.4,945.0l7.16,2.13v4.25l-7.16,2.13l-7.16,-2.13v-4.25zM550.7,945.0l7.16,2.13v4.25l-7.16,2.13l-7.16,-2.13v-4.25zM593.7,945.0l7.16,2.13v4.25l-7.16,2.13l-7.16,-2.13v-4.25zM622.3,817.4l7.16,2.13v4.25l-7.16,2.13l-7.16,-2.13v-4.25zM622.3,945.0l7.16,2.13v4.25l-7.16,2.13l-7.16,-2.13v-4.25zM636.6,817.4l7.16,2.13v4.25l-7.16,2.13l-7.16,-2.13v-4.25zM650.9,945.0l7.16,2.13v4.25l-7.16,2.13l-7.16,-2.13v-4.25zM679.5,817.4l7.16,2.13v4.25l-7.16,2.13l-7.16,-2.13v-4.25zM679.5,945.0l7.16,2.13v4.25l-7.16,2.13l-7.16,-2.13v-4.25zM693.9,830.2l7.16,2.13v4.25l-7.16,2.13l-7.16,-2.13v-4.25zM736.8,932.3l7.16,2.13v4.25l-7.16,2.13l-7.16,-2.13v-4.25zM751.1,919.5l7.16,2.13v4.25l-7.16,2.13l-7.16,-2.13v-4.25zM751.1,932.3l7.16,2.13v4.25l-7.16,2.13l-7.16,-2.13v-4.25zM765.4,932.3l7.16,2.13v4.25l-7.16,2.13l-7.16,-2.13v-4.25zM779.7,830.2l7.16,2.13v4.25l-7.16,2.13l-7.16,-2.13v-4.25zM779.7,868.5l7.16,2.13v4.25l-7.16,2.13l-7.16,-2.13v-4.25zM779.7,881.2l7.16,2.13v4.25l-7.16,2.13l-7.16,-2.13v-4.25zM794.0,830.2l7.16,2.13v4.25l-7.16,2.13l-7.16,-2.13v-4.25zM794.0,842.9l7.16,2.13v4.25l-7.16,2.13l-7.16,-2.13v-4.25zM794.0,855.7l7.16,2.13v4.25l-7.16,2.13l-7.16,-2.13v-4.25zM794.0,881.2l7.16,2.13v4.25l-7.16,2.13l-7.16,-2.13v-4.25zM794.0,906.8l7.16,2.13v4.25l-7.16,2.13l-7.16,-2.13v-4.25z"/>
<path fill="#f9bc39" stroke="#f9bc39" d="M85.6,874.8l7.16,2.13v4.25l-7.16,2.13l-7.16,-2.13v-4.25zM85.6,900.4l7.16,2.13v4.25l-7.16,2.13l-7.16,-2.13v-4.25zM99.9,849.3l7.16,2.13v4.25l-7.16,2.13l-7.16,-2.13v-4.25zM99.9,874.8l7.16,2.13v4.25l-7.16,2.13l-7.16,-2.13v-4.25zM99.9,887.6l7.16,2.13v4.25l-7.16,2.13l-7.16,-2.13v-4.25zM99.9,913.1l7.16,2.13v4.25l-7.16,2.13l-7.16,-2.13v-4.25zM114.2,862.1l7.16,2.13v4.25l-7.16,2.13l-7.16,-2.13v-4.25zM114.2,887.6l7.16,2.13v4.25l-7.16,2.13l-7.16,-2.13v-4.25zM128.5,836.6l7.16,2.13v4.25l-7.16,2.13l-7.16,-2.13v-4.25zM128.5,862.1l7.16,2.13v4.25l-7.16,2.13l-7.16,-2.13v-4.25zM128.5,874.8l7.16,2.13v4.25l-7.16,2.13l-7.16,-2.13v-4.25zM128.5,887.6l7.16,2.13v4.25l-7.16,2.13l-7.16,-2.13v-4.25zM128.5,913.1l7.16,2.13v4.25l-7.16,2.13l-7.16,-2.13v-4.25zM142.8,887.6l7.16,2.13v4.25l-7.16,2.13l-7.16,-2.13v-4.25zM142.8,900.4l7.16,2.13v4.25l-7.16,2.13l-7.16,-2.13v-4.25zM157.2,887.6l7.16,2.13v4.25l-7.16,2.13l-7.16,-2.13v-4.25zM214.4,849.3l7.16,2.13v4.25l-7.16,2.13l-7.16,-2.13v-4.25zM228.7,849.3l7.16,2.13v4.25l-7.16,2.13l-7.16,-2.13v-4.25zM243.0,849.3l7.16,2.13v4.25l-7.16,2.13l-7.16,-2.13v-4.25zM257.3,913.1l7.16,2.13v4.25l-7.16,2.13l-7.16,-2.13v-4.25zM286.0,836.6l7.16,2.13v4.25l-7.16,2.13l-7.16,-2.13v-4.25zM300.3,836.6l7.16,2.13v4.25l-7.16,2.13l-7.16,-2.13v-4.25zM300.3,900.4l7.16,2.13v4.25l-7.16,2.13l-7.16,-2.13v-4.25zM314.6,836.6l7.16,2.13v4.25l-7.16,2.13l-7.16,-2.13v-4.25zM314.6,849.3l7.16,2.13v4.25l-7.16,2.13l-7.16,-2.13v-4.25zM314.6,913.1l7.16,2.13v4.25l-7.16,2.13l-7.16,-2.13v-4.25zM328.9,836.6l7.16,2.13v4.25l-7.16,2.13l-7.16,-2.13v-4.25zM357.5,925.9l7.16,2.13v4.25l-7.16,2.13l-7.16,-2.13v-4.25zM386.2,798.3l7.16,2.13v4.25l-7.16,2.13l-7.16,-2.13v-4.25zM400.5,925.9l7.16,2.13v4.25l-7.16,2.13l-7.16,-2.13v-4.25zM400.5,938.7l7.16,2.13v4.25l-7.16,2.13l-7.16,-2.13v-4.25zM414.8,938.7l7.16,2.13v4.25l-7.16,2.13l-7.16,-2.13v-4.25zM429.1,798.3l7.16,2.13v4.25l-7.16,2.13l-7.16,-2.13v-4.25zM429.1,938.7l7.16,2.13v4.25l-7.16,2.13l-7.16,-2.13v-4.25zM486.3,811.0l7.16,2.13v4.25l-7.16,2.13l-7.16,-2.13v-4.25zM500.6,938.7l7.16,2.13v4.25l-7.16,2.13l-7.16,-2.13v-4.25zM543.6,811.0l7.16,2.13v4.25l-7.16,2.13l-7.16,-2.13v-4.25zM557.9,811.0l7.16,2.13v4.25l-7.16,2.13l-7.16,-2.13v-4.25zM586.5,811.0l7.16,2.13v4.25l-7.16,2.13l-7.16,-2.13v-4.25zM586.5,938.7l7.16,2.13v4.25l-7.16,2.13l-7.16,-2.13v-4.25zM615.1,811.0l7.16,2.13v4.25l-7.16,2.13l-7.16,-2.13v-4.25zM629.5,938.7l7.16,2.13v4.25l-7.16,2.13l-7.16,-2.13v-4.25zM643.8,938.7l7.16,2.13v4.25l-7.16,2.13l-7.16,-2.13v-4.25zM658.1,823.8l7.16,2.13v4.25l-7.16,2.13l-7.16,-2.13v-4.25zM658.1,938.7l7.16,2.13v4.25l-7.16,2.13l-7.16,-2.13v-4.25zM715.3,823.8l7.16,2.13v4.25l-7.16,2.13l-7.16,-2.13v-4.25zM715.3,925.9l7.16,2.13v4.25l-7.16,2.13l-7.16,-2.13v-4.25zM729.6,823.8l7.16,2.13v4.25l-7.16,2.13l-7.16,-2.13v-4.25zM729.6,938.7l7.16,2.13v4.25l-7.16,2.13l-7.16,-2.13v-4.25zM744.0,836.6l7.16,2.13v4.25l-7.16,2.13l-7.16,-2.13v-4.25zM744.0,900.4l7.16,2.13v4.25l-7.16,2.13l-7.16,-2.13v-4.25zM758.3,823.8l7.16,2.13v4.25l-7.16,2.13l-7.16,-2.13v-4.25zM758.3,900.4l7.16,2.13v4.25l-7.16,2.13l-7.16,-2.13v-4.25zM772.6,849.3l7.16,2.13v4.25l-7.16,2.13l-7.16,-2.13v-4.25zM772.6,862.1l7.16,2.13v4.25l-7.16,2.13l-7.16,-2.13v-4.25zM772.6,900.4l7.16,2.13v4.25l-7.16,2.13l-7.16,-2.13v-4.25zM786.9,862.1l7.16,2.13v4.25l-7.16,2.13l-7.16,-2.13v-4.25zM786.9,900.4l7.16,2.13v4.25l-7.16,2.13l-7.16,-2.13v-4.25zM801.2,887.6l7.16,2.13v4.25l-7.16,2.13l-7.16,-2.13v-4.25zM92.8,881.2l7.16,2.13v4.25l-7.16,2.13l-7.16,-2.13v-4.25zM92.8,906.8l7.16,2.13v4.25l-7.16,2.13l-7.16,-2.13v-4.25zM107.1,842.9l7.16,2.13v4.25l-7.16,2.13l-7.16,-2.13v-4.25zM107.1,855.7l7.16,2.13v4.25l-7.16,2.13l-7.16,-2.13v-4.25zM107.1,919.5l7.16,2.13v4.25l-7.16,2.13l-7.16,-2.13v-4.25zM121.4,842.9l7.16,2.13v4.25l-7.16,2.13l-7.16,-2.13v-4.25zM121.4,855.7l7.16,2.13v4.25l-7.16,2.13l-7.16,-2.13v-4.25zM121.4,894.0l7.16,2.13v4.25l-7.16,2.13l-7.16,-2.13v-4.25zM135.7,881.2l7.16,2.13v4.25l-7.16,2.13l-7.16,-2.13v-4.25zM164.3,894.0l7.16,2.13v4.25l-7.16,2.13l-7.16,-2.13v-4.25zM178.6,894.0l7.16,2.13v4.25l-7.16,2.13l-7.16,-2.13v-4.25zM192.9,842.9l7.16,2.13v4.25l-7.16,2.13l-7.16,-2.13v-4.25zM250.2,855.7l7.16,2.13v4.25l-7.16,2.13l-7.16,-2.13v-4.25zM264.5,842.9l7.16,2.13v4.25l-7.16,2.13l-7.16,-2.13v-4.25zM264.5,906.8l7.16,2.13v4.25l-7.16,2.13l-7.16,-2.13v-4.25zM293.1,906.8l7.16,2.13v4.25l-7.16,2.13l-7.16,-2.13v-4.25zM321.7,830.2l7.16,2.13v4.25l-7.16,2.13l-7.16,-2.13v-4.25zM336.1,830.2l7.16,2.13v4.25l-7.16,2.13l-7.16,-2.13v-4.25zM336.1,868.5l7.16,2.13v4.25l-7.16,2.13l-7.16,-2.13v-4.25zM364.7,804.6l7.16,2.13v4.25l-7.16,2.13l-7.16,-2.13v-4.25zM364.7,817.4l7.16,2.13v4.25l-7.16,2.13l-7.16,-2.13v-4.25zM364.7,919.5l7.16,2.13v4.25l-7.16,2.13l-7.16,-2.13v-4.25zM379.0,804.6l7.16,2.13v4.25l-7.16,2.13l-7.16,-2.13v-4.25zM393.3,817.4l7.16,2.13v4.25l-7.16,2.13l-7.16,-2.13v-4.25zM393.3,932.3l7.16,2.13v4.25l-7.16,2.13l-7.16,-2.13v-4.25zM407.6,932.3l7.16,2.13v4.25l-7.16,2.13l-7.16,-2.13v-4.25zM421.9,804.6l7.16,2.13v4.25l-7.16,2.13l-7.16,-2.13v-4.25zM436.2,945.0l7.16,2.13v4.25l-7.16,2.13l-7.16,-2.13v-4.25zM450.6,804.6l7.16,2.13v4.25l-7.16,2.13l-7.16,-2.13v-4.25zM464.9,945.0l7.16,2.13v4.25l-7.16,2.13l-7.16,-2.13v-4.25zM479.2,804.6l7.16,2.13v4.25l-7.16,2.13l-7.16,-2.13v-4.25zM493.5,804.6l7.16,2.13v4.25l-7.16,2.13l-7.16,-2.13v-4.25zM493.5,945.0l7.16,2.13v4.25l-7.16,2.13l-7.16,-2.13v-4.25zM507.8,945.0l7.16,2.13v4.25l-7.16,2.13l-7.16,-2.13v-4.25zM579.4,945.0l7.16,2.13v4.25l-7.16,2.13l-7.16,-2.13v-4.25zM608.0,945.0l7.16,2.13v4.25l-7.16,2.13l-7.16,-2.13v-4.25zM665.2,830.2l7.16,2.13v4.25l-7.16,2.13l-7.16,-2.13v-4.25zM679.5,932.3l7.16,2.13v4.25l-7.16,2.13l-7.16,-2.13v-4.25zM708.2,830.2l7.16,2.13v4.25l-7.16,2.13l-7.16,-2.13v-4.25zM708.2,906.8l7.16,2.13v4.25l-7.16,2.13l-7.16,-2.13v-4.25zM708.2,932.3l7.16,2.13v4.25l-7.16,2.13l-7.16,-2.13v-4.25zM722.5,932.3l7.16,2.13v4.25l-7.16,2.13l-7.16,-2.13v-4.25zM736.8,830.2l7.16,2.13v4.25l-7.16,2.13l-7.16,-2.13v-4.25zM736.8,842.9l7.16,2.13v4.25l-7.16,2.13l-7.16,-2.13v-4.25zM736.8,945.0l7.16,2.13v4.25l-7.16,2.13l-7.16,-2.13v-4.25zM751.1,830.2l7.16,2.13v4.25l-7.16,2.13l-7.16,-2.13v-4.25zM751.1,894.0l7.16,2.13v4.25l-7.16,2.13l-7.16,-2.13v-4.25zM751.1,906.8l7.16,2.13v4.25l-7.16,2.13l-7.16,-2.13v-4.25zM765.4,855.7l7.16,2.13v4.25l-7.16,2.13l-7.16,-2.13v-4.25zM765.4,894.0l7.16,2.13v4.25l-7.16,2.13l-7.16,-2.13v-4.25zM765.4,906.8l7.16,2.13v4.25l-7.16,2.13l-7.16,-2.13v-4.25zM765.4,919.5l7.16,2.13v4.25l-7.16,2.13l-7.16,-2.13v-4.25zM779.7,842.9l7.16,2.13v4.25l-7.16,2.13l-7.16,-2.13v-4.25zM779.7,894.0l7.16,2.13v4.25l-7.16,2.13l-7.16,-2.13v-4.25zM794.0,868.5l7.16,2.13v4.25l-7.16,2.13l-7.16,-2.13v-4.25z"/>
<path fill="#fbb637" stroke="#fbb637" d="M85.6,887.6l7.16,2.13v4.25l-7.16,2.13l-7.16,-2.13v-4.25zM114.2,849.3l7.16,2.13v4.25l-7.16,2.13l-7.16,-2.13v-4.25zM114.2,874.8l7.16,2.13v4.25l-7.16,2.13l-7.16,-2.13v-4.25zM114.2,900.4l7.16,2.13v4.25l-7.16,2.13l-7.16,-2.13v-4.25zM142.8,836.6l7.16,2.13v4.25l-7.16,2.13l-7.16,-2.13v-4.25zM142.8,874.8l7.16,2.13v4.25l-7.16,2.13l-7.16,-2.13v-4.25zM157.2,836.6l7.16,2.13v4.25l-7.16,2.13l-7.16,-2.13v-4.25zM185.8,900.4l7.16,2.13v4.25l-7.16,2.13l-7.16,-2.13v-4.25zM200.1,900.4l7.16,2.13v4.25l-7.16,2.13l-7.16,-2.13v-4.25zM286.0,900.4l7.16,2.13v4.25l-7.16,2.13l-7.16,-2.13v-4.25zM328.9,900.4l7.16,2.13v4.25l-7.16,2.13l-7.16,-2.13v-4.25zM328.9,913.1l7.16,2.13v4.25l-7.16,2.13l-7.16,-2.13v-4.25zM343.2,900.4l7.16,2.13v4.25l-7.16,2.13l-7.16,-2.13v-4.25zM343.2,913.1l7.16,2.13v4.25l-7.16,2.13l-7.16,-2.13v-4.25zM357.5,823.8l7.16,2.13v4.25l-7.16,2.13l-7.16,-2.13v-4.25zM357.5,836.6l7.16,2.13v4.25l-7.16,2.13l-7.16,-2.13v-4.25zM357.5,900.4l7.16,2.13v4.25l-7.16,2.13l-7.16,-2.13v-4.25zM371.8,823.8l7.16,2.13v4.25l-7.16,2.13l-7.16,-2.13v-4.25zM371.8,836.6l7.16,2.13v4.25l-7.16,2.13l-7.16,-2.13v-4.25zM371.8,925.9l7.16,2.13v4.25l-7.16,2.13l-7.16,-2.13v-4.25zM414.8,811.0l7.16,2.13v4.25l-7.16,2.13l-7.16,-2.13v-4.25zM429.1,811.0l7.16,2.13v4.25l-7.16,2.13l-7.16,-2.13v-4.25zM457.7,823.8l7.16,2.13v4.25l-7.16,2.13l-7.16,-2.13v-4.25zM457.7,938.7l7.16,2.13v4.25l-7.16,2.13l-7.16,-2.13v-4.25zM472.0,811.0l7.16,2.13v4.25l-7.16,2.13l-7.16,-2.13v-4.25zM472.0,938.7l7.16,2.13v4.25l-7.16,2.13l-7.16,-2.13v-4.25zM486.3,823.8l7.16,2.13v4.25l-7.16,2.13l-7.16,-2.13v-4.25zM529.3,811.0l7.16,2.13v4.25l-7.16,2.13l-7.16,-2.13v-4.25zM557.9,938.7l7.16,2.13v4.25l-7.16,2.13l-7.16,-2.13v-4.25zM572.2,938.7l7.16,2.13v4.25l-7.16,2.13l-7.16,-2.13v-4.25zM615.1,938.7l7.16,2.13v4.25l-7.16,2.13l-7.16,-2.13v-4.25zM629.5,823.8l7.16,2.13v4.25l-7.16,2.13l-7.16,-2.13v-4.25zM672.4,836.6l7.16,2.13v4.25l-7.16,2.13l-7.16,-2.13v-4.25zM672.4,925.9l7.16,2.13v4.25l-7.16,2.13l-7.16,-2.13v-4.25zM686.7,925.9l7.16,2.13v4.25l-7.16,2.13l-7.16,-2.13v-4.25zM701.0,836.6l7.16,2.13v4.25l-7.16,2.13l-7.16,-2.13v-4.25zM701.0,925.9l7.16,2.13v4.25l-7.16,2.13l-7.16,-2.13v-4.25zM715.3,849.3l7.16,2.13v4.25l-7.16,2.13l-7.16,-2.13v-4.25zM729.6,836.6l7.16,2.13v4.25l-7.16,2.13l-7.16,-2.13v-4.25zM729.6,913.1l7.16,2.13v4.25l-7.16,2.13l-7.16,-2.13v-4.25zM758.3,874.8l7.16,2.13v4.25l-7.16,2.13l-7.16,-2.13v-4.25zM758.3,887.6l7.16,2.13v4.25l-7.16,2.13l-7.16,-2.13v-4.25zM772.6,874.8l7.16,2.13v4.25l-7.16,2.13l-7.16,-2.13v-4.25zM786.9,874.8l7.16,2.13v4.25l-7.16,2.13l-7.16,-2.13v-4.25zM786.9,913.1l7.16,2.13v4.25l-7.16,2.13l-7.16,-2.13v-4.25zM801.2,913.1l7.16,2.13v4.25l-7.16,2.13l-7.16,-2.13v-4.25zM107.1,868.5l7.16,2.13v4.25l-7.16,2.13l-7.16,-2.13v-4.25zM135.7,868.5l7.16,2.13v4.25l-7.16,2.13l-7.16,-2.13v-4.25zM150.0,868.5l7.16,2.13v4.25l-7.16,2.13l-7.16,-2.13v-4.25zM235.9,855.7l7.16,2.13v4.25l-7.16,2.13l-7.16,-2.13v-4.25zM235.9,906.8l7.16,2.13v4.25l-7.16,2.13l-7.16,-2.13v-4.25zM250.2,906.8l7.16,2.13v4.25l-7.16,2.13l-7.16,-2.13v-4.25zM278.8,906.8l7.16,2.13v4.25l-7.16,2.13l-7.16,-2.13v-4.25zM307.4,842.9l7.16,2.13v4.25l-7.16,2.13l-7.16,-2.13v-4.25zM321.7,842.9l7.16,2.13v4.25l-7.16,2.13l-7.16,-2.13v-4.25zM321.7,855.7l7.16,2.13v4.25l-7.16,2.13l-7.16,-2.13v-4.25zM321.7,894.0l7.16,2.13v4.25l-7.16,2.13l-7.16,-2.13v-4.25zM321.7,906.8l7.16,2.13v4.25l-7.16,2.13l-7.16,-2.13v-4.25zM336.1,894.0l7.16,2.13v4.25l-7.16,2.13l-7.16,-2.13v-4.25zM336.1,906.8l7.16,2.13v4.25l-7.16,2.13l-7.16,-2.13v-4.25zM350.4,830.2l7.16,2.13v4.25l-7.16,2.13l-7.16,-2.13v-4.25zM350.4,919.5l7.16,2.13v4.25l-7.16,2.13l-7.16,-2.13v-4.25zM379.0,919.5l7.16,2.13v4.25l-7.16,2.13l-7.16,-2.13v-4.25zM393.3,919.5l7.16,2.13v4.25l-7.16,2.13l-7.16,-2.13v-4.25zM436.2,804.6l7.16,2.13v4.25l-7.16,2.13l-7.16,-2.13v-4.25zM450.6,932.3l7.16,2.13v4.25l-7.16,2.13l-7.16,-2.13v-4.25zM464.9,804.6l7.16,2.13v4.25l-7.16,2.13l-7.16,-2.13v-4.25zM493.5,817.4l7.16,2.13v4.25l-7.16,2.13l-7.16,-2.13v-4.25zM507.8,817.4l7.16,2.13v4.25l-7.16,2.13l-7.16,-2.13v-4.25zM522.1,817.4l7.16,2.13v4.25l-7.16,2.13l-7.16,-2.13v-4.25zM565.1,945.0l7.16,2.13v4.25l-7.16,2.13l-7.16,-2.13v-4.25zM608.0,817.4l7.16,2.13v4.25l-7.16,2.13l-7.16,-2.13v-4.25zM636.6,932.3l7.16,2.13v4.25l-7.16,2.13l-7.16,-2.13v-4.25zM650.9,830.2l7.16,2.13v4.25l-7.16,2.13l-7.16,-2.13v-4.25zM650.9,932.3l7.16,2.13v4.25l-7.16,2.13l-7.16,-2.13v-4.25zM679.5,830.2l7.16,2.13v4.25l-7.16,2.13l-7.16,-2.13v-4.25zM708.2,919.5l7.16,2.13v4.25l-7.16,2.13l-7.16,-2.13v-4.25zM722.5,830.2l7.16,2.13v4.25l-7.16,2.13l-7.16,-2.13v-4.25zM722.5,919.5l7.16,2.13v4.25l-7.16,2.13l-7.16,-2.13v-4.25zM736.8,894.0l7.16,2.13v4.25l-7.16,2.13l-7.16,-2.13v-4.25zM736.8,919.5l7.16,2.13v4.25l-7.16,2.13l-7.16,-2.13v-4.25zM751.1,945.0l7.16,2.13v4.25l-7.16,2.13l-7.16,-2.13v-4.25zM765.4,868.5l7.16,2.13v4.25l-7.16,2.13l-7.16,-2.13v-4.25zM779.7,855.7l7.16,2.13v4.25l-7.16,2.13l-7.16,-2.13v-4.25zM779.7,906.8l7.16,2.13v4.25l-7.16,2.13l-7.16,-2.13v-4.25z"/>
<path fill="#ecd13a" stroke="#ecd13a" d="M85.6,925.9l7.16,2.13v4.25l-7.16,2.13l-7.16,-2.13v-4.25zM142.8,823.8l7.16,2.13v4.25l-7.16,2.13l-7.16,-2.13v-4.25zM185.8,823.8l7.16,2.13v4.25l-7.16,2.13l-7.16,-2.13v-4.25zM214.4,823.8l7.16,2.13v4.25l-7.16,2.13l-7.16,-2.13v-4.25zM214.4,938.7l7.16,2.13v4.25l-7.16,2.13l-7.16,-2.13v-4.25zM243.0,823.8l7.16,2.13v4.25l-7.16,2.13l-7.16,-2.13v-4.25zM257.3,823.8l7.16,2.13v4.25l-7.16,2.13l-7.16,-2.13v-4.25zM286.0,823.8l7.16,2.13v4.25l-7.16,2.13l-7.16,-2.13v-4.25zM286.0,925.9l7.16,2.13v4.25l-7.16,2.13l-7.16,-2.13v-4.25zM300.3,823.8l7.16,2.13v4.25l-7.16,2.13l-7.16,-2.13v-4.25zM300.3,938.7l7.16,2.13v4.25l-7.16,2.13l-7.16,-2.13v-4.25zM314.6,811.0l7.16,2.13v4.25l-7.16,2.13l-7.16,-2.13v-4.25zM328.9,938.7l7.16,2.13v4.25l-7.16,2.13l-7.16,-2.13v-4.25zM328.9,951.4l7.16,2.13v4.25l-7.16,2.13l-7.16,-2.13v-4.25zM357.5,951.4l7.16,2.13v4.25l-7.16,2.13l-7.16,-2.13v-4.25zM371.8,785.5l7.16,2.13v4.25l-7.16,2.13l-7.16,-2.13v-4.25zM386.2,951.4l7.16,2.13v4.25l-7.16,2.13l-7.16,-2.13v-4.25zM400.5,785.5l7.16,2.13v4.25l-7.16,2.13l-7.16,-2.13v-4.25zM429.1,785.5l7.16,2.13v4.25l-7.16,2.13l-7.16,-2.13v-4.25zM443.4,951.4l7.16,2.13v4.25l-7.16,2.13l-7.16,-2.13v-4.25zM515.0,798.3l7.16,2.13v4.25l-7.16,2.13l-7.16,-2.13v-4.25zM586.5,798.3l7.16,2.13v4.25l-7.16,2.13l-7.16,-2.13v-4.25zM615.1,798.3l7.16,2.13v4.25l-7.16,2.13l-7.16,-2.13v-4.25zM615.1,951.4l7.16,2.13v4.25l-7.16,2.13l-7.16,-2.13v-4.25zM672.4,798.3l7.16,2.13v4.25l-7.16,2.13l-7.16,-2.13v-4.25zM672.4,951.4l7.16,2.13v4.25l-7.16,2.13l-7.16,-2.13v-4.25zM686.7,951.4l7.16,2.13v4.25l-7.16,2.13l-7.16,-2.13v-4.25zM758.3,938.7l7.16,2.13v4.25l-7.16,2.13l-7.16,-2.13v-4.25zM772.6,951.4l7.16,2.13v4.25l-7.16,2.13l-7.16,-2.13v-4.25zM786.9,938.7l7.16,2.13v4.25l-7.16,2.13l-7.16,-2.13v-4.25zM786.9,951.4l7.16,2.13v4.25l-7.16,2.13l-7.16,-2.13v-4.25zM801.2,938.7l7.16,2.13v4.25l-7.16,2.13l-7.16,-2.13v-4.25zM92.8,957.8l7.16,2.13v4.25l-7.16,2.13l-7.16,-2.13v-4.25zM107.1,945.0l7.16,2.13v4.25l-7.16,2.13l-7.16,-2.13v-4.25zM135.7,830.2l7.16,2.13v4.25l-7.16,2.13l-7.16,-2.13v-4.25zM135.7,932.3l7.16,2.13v4.25l-7.16,2.13l-7.16,-2.13v-4.25zM150.0,932.3l7.16,2.13v4.25l-7.16,2.13l-7.16,-2.13v-4.25zM164.3,830.2l7.16,2.13v4.25l-7.16,2.13l-7.16,-2.13v-4.25zM164.3,932.3l7.16,2.13v4.25l-7.16,2.13l-7.16,-2.13v-4.25zM192.9,830.2l7.16,2.13v4.25l-7.16,2.13l-7.16,-2.13v-4.25zM192.9,932.3l7.16,2.13v4.25l-7.16,2.13l-7.16,-2.13v-4.25zM207.3,932.3l7.16,2.13v4.25l-7.16,2.13l-7.16,-2.13v-4.25zM221.6,830.2l7.16,2.13v4.25l-7.16,2.13l-7.16,-2.13v-4.25zM235.9,830.2l7.16,2.13v4.25l-7.16,2.13l-7.16,-2.13v-4.25zM264.5,830.2l7.16,2.13v4.25l-7.16,2.13l-7.16,-2.13v-4.25zM278.8,932.3l7.16,2.13v4.25l-7.16,2.13l-7.16,-2.13v-4.25zM293.1,817.4l7.16,2.13v4.25l-7.16,2.13l-7.16,-2.13v-4.25zM293.1,932.3l7.16,2.13v4.25l-7.16,2.13l-7.16,-2.13v-4.25zM350.4,791.9l7.16,2.13v4.25l-7.16,2.13l-7.16,-2.13v-4.25zM364.7,945.0l7.16,2.13v4.25l-7.16,2.13l-7.16,-2.13v-4.25zM364.7,957.8l7.16,2.13v4.25l-7.16,2.13l-7.16,-2.13v-4.25zM379.0,945.0l7.16,2.13v4.25l-7.16,2.13l-7.16,-2.13v-4.25zM393.3,791.9l7.16,2.13v4.25l-7.16,2.13l-7.16,-2.13v-4.25zM407.6,945.0l7.16,2.13v4.25l-7.16,2.13l-7.16,-2.13v-4.25zM407.6,957.8l7.16,2.13v4.25l-7.16,2.13l-7.16,-2.13v-4.25zM421.9,957.8l7.16,2.13v4.25l-7.16,2.13l-7.16,-2.13v-4.25zM436.2,957.8l7.16,2.13v4.25l-7.16,2.13l-7.16,-2.13v-4.25zM479.2,791.9l7.16,2.13v4.25l-7.16,2.13l-7.16,-2.13v-4.25zM507.8,791.9l7.16,2.13v4.25l-7.16,2.13l-7.16,-2.13v-4.25zM522.1,791.9l7.16,2.13v4.25l-7.16,2.13l-7.16,-2.13v-4.25zM550.7,791.9l7.16,2.13v4.25l-7.16,2.13l-7.16,-2.13v-4.25zM565.1,791.9l7.16,2.13v4.25l-7.16,2.13l-7.16,-2.13v-4.25zM608.0,791.9l7.16,2.13v4.25l-7.16,2.13l-7.16,-2.13v-4.25zM636.6,804.6l7.16,2.13v4.25l-7.16,2.13l-7.16,-2.13v-4.25zM708.2,804.6l7.16,2.13v4.25l-7.16,2.13l-7.16,-2.13v-4.25zM722.5,804.6l7.16,2.13v4.25l-7.16,2.13l-7.16,-2.13v-4.25zM722.5,817.4l7.16,2.13v4.25l-7.16,2.13l-7.16,-2.13v-4.25zM751.1,957.8l7.16,2.13v4.25l-7.16,2.13l-7.16,-2.13v-4.25zM765.4,957.8l7.16,2.13v4.25l-7.16,2.13l-7.16,-2.13v-4.25zM779.7,804.6l7.16,2.13v4.25l-7.16,2.13l-7.16,-2.13v-4.25zM794.0,932.3l7.16,2.13v4.25l-7.16,2.13l-7.16,-2.13v-4.25z"/>
<path fill="#f4c73a" stroke="#f4c73a" d="M85.6,951.4l7.16,2.13v4.25l-7.16,2.13l-7.16,-2.13v-4.25zM99.9,862.1l7.16,2.13v4.25l-7.16,2.13l-7.16,-2.13v-4.25zM99.9,900.4l7.16,2.13v4.25l-7.16,2.13l-7.16,-2.13v-4.25zM114.2,836.6l7.16,2.13v4.25l-7.16,2.13l-7.16,-2.13v-4.25zM114.2,938.7l7.16,2.13v4.25l-7.16,2.13l-7.16,-2.13v-4.25zM128.5,938.7l7.16,2.13v4.25l-7.16,2.13l-7.16,-2.13v-4.25zM171.5,925.9l7.16,2.13v4.25l-7.16,2.13l-7.16,-2.13v-4.25zM185.8,836.6l7.16,2.13v4.25l-7.16,2.13l-7.16,-2.13v-4.25zM185.8,913.1l7.16,2.13v4.25l-7.16,2.13l-7.16,-2.13v-4.25zM200.1,913.1l7.16,2.13v4.25l-7.16,2.13l-7.16,-2.13v-4.25zM214.4,913.1l7.16,2.13v4.25l-7.16,2.13l-7.16,-2.13v-4.25zM243.0,836.6l7.16,2.13v4.25l-7.16,2.13l-7.16,-2.13v-4.25zM257.3,836.6l7.16,2.13v4.25l-7.16,2.13l-7.16,-2.13v-4.25zM257.3,925.9l7.16,2.13v4.25l-7.16,2.13l-7.16,-2.13v-4.25zM286.0,913.1l7.16,2.13v4.25l-7.16,2.13l-7.16,-2.13v-4.25zM314.6,823.8l7.16,2.13v4.25l-7.16,2.13l-7.16,-2.13v-4.25zM314.6,925.9l7.16,2.13v4.25l-7.16,2.13l-7.16,-2.13v-4.25zM328.9,823.8l7.16,2.13v4.25l-7.16,2.13l-7.16,-2.13v-4.25zM328.9,925.9l7.16,2.13v4.25l-7.16,2.13l-7.16,-2.13v-4.25zM386.2,938.7l7.16,2.13v4.25l-7.16,2.13l-7.16,-2.13v-4.25zM400.5,798.3l7.16,2.13v4.25l-7.16,2.13l-7.16,-2.13v-4.25zM400.5,951.4l7.16,2.13v4.25l-7.16,2.13l-7.16,-2.13v-4.25zM429.1,951.4l7.16,2.13v4.25l-7.16,2.13l-7.16,-2.13v-4.25zM443.4,785.5l7.16,2.13v4.25l-7.16,2.13l-7.16,-2.13v-4.25zM457.7,951.4l7.16,2.13v4.25l-7.16,2.13l-7.16,-2.13v-4.25zM472.0,951.4l7.16,2.13v4.25l-7.16,2.13l-7.16,-2.13v-4.25zM500.6,798.3l7.16,2.13v4.25l-7.16,2.13l-7.16,-2.13v-4.25zM515.0,951.4l7.16,2.13v4.25l-7.16,2.13l-7.16,-2.13v-4.25zM529.3,951.4l7.16,2.13v4.25l-7.16,2.13l-7.16,-2.13v-4.25zM543.6,951.4l7.16,2.13v4.25l-7.16,2.13l-7.16,-2.13v-4.25zM572.2,798.3l7.16,2.13v4.25l-7.16,2.13l-7.16,-2.13v-4.25zM572.2,951.4l7.16,2.13v4.25l-7.16,2.13l-7.16,-2.13v-4.25zM586.5,951.4l7.16,2.13v4.25l-7.16,2.13l-7.16,-2.13v-4.25zM643.8,811.0l7.16,2.13v4.25l-7.16,2.13l-7.16,-2.13v-4.25zM658.1,811.0l7.16,2.13v4.25l-7.16,2.13l-7.16,-2.13v-4.25zM672.4,823.8l7.16,2.13v4.25l-7.16,2.13l-7.16,-2.13v-4.25zM686.7,823.8l7.16,2.13v4.25l-7.16,2.13l-7.16,-2.13v-4.25zM701.0,951.4l7.16,2.13v4.25l-7.16,2.13l-7.16,-2.13v-4.25zM715.3,811.0l7.16,2.13v4.25l-7.16,2.13l-7.16,-2.13v-4.25zM744.0,951.4l7.16,2.13v4.25l-7.16,2.13l-7.16,-2.13v-4.25zM772.6,925.9l7.16,2.13v4.25l-7.16,2.13l-7.16,-2.13v-4.25zM801.2,836.6l7.16,2.13v4.25l-7.16,2.13l-7.16,-2.13v-4.25zM801.2,849.3l7.16,2.13v4.25l-7.16,2.13l-7.16,-2.13v-4.25zM801.2,874.8l7.16,2.13v4.25l-7.16,2.13l-7.16,-2.13v-4.25zM801.2,925.9l7.16,2.13v4.25l-7.16,2.13l-7.16,-2.13v-4.25zM92.8,855.7l7.16,2.13v4.25l-7.16,2.13l-7.16,-2.13v-4.25zM92.8,919.5l7.16,2.13v4.25l-7.16,2.13l-7.16,-2.13v-4.25zM107.1,881.2l7.16,2.13v4.25l-7.16,2.13l-7.16,-2.13v-4.25zM121.4,906.8l7.16,2.13v4.25l-7.16,2.13l-7.16,-2.13v-4.25zM121.4,932.3l7.16,2.13v4.25l-7.16,2.13l-7.16,-2.13v-4.25zM135.7,919.5l7.16,2.13v4.25l-7.16,2.13l-7.16,-2.13v-4.25zM150.0,830.2l7.16,2.13v4.25l-7.16,2.13l-7.16,-2.13v-4.25zM150.0,906.8l7.16,2.13v4.25l-7.16,2.13l-7.16,-2.13v-4.25zM150.0,945.0l7.16,2.13v4.25l-7.16,2.13l-7.16,-2.13v-4.25zM192.9,919.5l7.16,2.13v4.25l-7.16,2.13l-7.16,-2.13v-4.25zM207.3,830.2l7.16,2.13v4.25l-7.16,2.13l-7.16,-2.13v-4.25zM250.2,830.2l7.16,2.13v4.25l-7.16,2.13l-7.16,-2.13v-4.25zM250.2,919.5l7.16,2.13v4.25l-7.16,2.13l-7.16,-2.13v-4.25zM336.1,817.4l7.16,2.13v4.25l-7.16,2.13l-7.16,-2.13v-4.25zM350.4,804.6l7.16,2.13v4.25l-7.16,2.13l-7.16,-2.13v-4.25zM350.4,817.4l7.16,2.13v4.25l-7.16,2.13l-7.16,-2.13v-4.25zM393.3,945.0l7.16,2.13v4.25l-7.16,2.13l-7.16,-2.13v-4.25zM407.6,791.9l7.16,2.13v4.25l-7.16,2.13l-7.16,-2.13v-4.25zM522.1,804.6l7.16,2.13v4.25l-7.16,2.13l-7.16,-2.13v-4.25zM536.4,804.6l7.16,2.13v4.25l-7.16,2.13l-7.16,-2.13v-4.25zM550.7,804.6l7.16,2.13v4.25l-7.16,2.13l-7.16,-2.13v-4.25zM550.7,957.8l7.16,2.13v4.25l-7.16,2.13l-7.16,-2.13v-4.25zM579.4,804.6l7.16,2.13v4.25l-7.16,2.13l-7.16,-2.13v-4.25zM593.7,804.6l7.16,2.13v4.25l-7.16,2.13l-7.16,-2.13v-4.25zM622.3,804.6l7.16,2.13v4.25l-7.16,2.13l-7.16,-2.13v-4.25zM636.6,945.0l7.16,2.13v4.25l-7.16,2.13l-7.16,-2.13v-4.25zM650.9,817.4l7.16,2.13v4.25l-7.16,2.13l-7.16,-2.13v-4.25zM665.2,817.4l7.16,2.13v4.25l-7.16,2.13l-7.16,-2.13v-4.25zM665.2,932.3l7.16,2.13v4.25l-7.16,2.13l-7.16,-2.13v-4.25zM708.2,817.4l7.16,2.13v4.25l-7.16,2.13l-7.16,-2.13v-4.25zM708.2,945.0l7.16,2.13v4.25l-7.16,2.13l-7.16,-2.13v-4.25zM722.5,945.0l7.16,2.13v4.25l-7.16,2.13l-7.16,-2.13v-4.25zM751.1,817.4l7.16,2.13v4.25l-7.16,2.13l-7.16,-2.13v-4.25zM765.4,817.4l7.16,2.13v4.25l-7.16,2.13l-7.16,-2.13v-4.25zM779.7,919.5l7.16,2.13v4.25l-7.16,2.13l-7.16,-2.13v-4.25zM779.7,932.3l7.16,2.13v4.25l-7.16,2.13l-7.16,-2.13v-4.25zM794.0,894.0l7.16,2.13v4.25l-7.16,2.13l-7.16,-2.13v-4.25zM794.0,919.5l7.16,2.13v4.25l-7.16,2.13l-7.16,-2.13v-4.25z"/>
<path fill="#dfdf37" stroke="#dfdf37" d="M85.6,964.2l7.16,2.13v4.25l-7.16,2.13l-7.16,-2.13v-4.25zM99.9,823.8l7.16,2.13v4.25l-7.16,2.13l-7.16,-2.13v-4.25zM99.9,964.2l7.16,2.13v4.25l-7.16,2.13l-7.16,-2.13v-4.25zM114.2,823.8l7.16,2.13v4.25l-7.16,2.13l-7.16,-2.13v-4.25zM128.5,951.4l7.16,2.13v4.25l-7.16,2.13l-7.16,-2.13v-4.25zM142.8,811.0l7.16,2.13v4.25l-7.16,2.13l-7.16,-2.13v-4.25zM157.2,811.0l7.16,2.13v4.25l-7.16,2.13l-7.16,-2.13v-4.25zM157.2,823.8l7.16,2.13v4.25l-7.16,2.13l-7.16,-2.13v-4.25zM171.5,951.4l7.16,2.13v4.25l-7.16,2.13l-7.16,-2.13v-4.25zM185.8,938.7l7.16,2.13v4.25l-7.16,2.13l-7.16,-2.13v-4.25zM200.1,811.0l7.16,2.13v4.25l-7.16,2.13l-7.16,-2.13v-4.25zM214.4,811.0l7.16,2.13v4.25l-7.16,2.13l-7.16,-2.13v-4.25zM214.4,951.4l7.16,2.13v4.25l-7.16,2.13l-7.16,-2.13v-4.25zM228.7,811.0l7.16,2.13v4.25l-7.16,2.13l-7.16,-2.13v-4.25zM228.7,951.4l7.16,2.13v4.25l-7.16,2.13l-7.16,-2.13v-4.25zM243.0,811.0l7.16,2.13v4.25l-7.16,2.13l-7.16,-2.13v-4.25zM243.0,951.4l7.16,2.13v4.25l-7.16,2.13l-7.16,-2.13v-4.25zM257.3,951.4l7.16,2.13v4.25l-7.16,2.13l-7.16,-2.13v-4.25zM286.0,798.3l7.16,2.13v4.25l-7.16,2.13l-7.16,-2.13v-4.25zM286.0,811.0l7.16,2.13v4.25l-7.16,2.13l-7.16,-2.13v-4.25zM286.0,951.4l7.16,2.13v4.25l-7.16,2.13l-7.16,-2.13v-4.25zM300.3,798.3l7.16,2.13v4.25l-7.16,2.13l-7.16,-2.13v-4.25zM357.5,785.5l7.16,2.13v4.25l-7.16,2.13l-7.16,-2.13v-4.25zM371.8,964.2l7.16,2.13v4.25l-7.16,2.13l-7.16,-2.13v-4.25zM386.2,964.2l7.16,2.13v4.25l-7.16,2.13l-7.16,-2.13v-4.25zM457.7,772.7l7.16,2.13v4.25l-7.16,2.13l-7.16,-2.13v-4.25zM472.0,964.2l7.16,2.13v4.25l-7.16,2.13l-7.16,-2.13v-4.25zM515.0,785.5l7.16,2.13v4.25l-7.16,2.13l-7.16,-2.13v-4.25zM543.6,785.5l7.16,2.13v4.25l-7.16,2.13l-7.16,-2.13v-4.25zM572.2,785.5l7.16,2.13v4.25l-7.16,2.13l-7.16,-2.13v-4.25zM586.5,785.5l7.16,2.13v4.25l-7.16,2.13l-7.16,-2.13v-4.25zM586.5,964.2l7.16,2.13v4.25l-7.16,2.13l-7.16,-2.13v-4.25zM615.1,785.5l7.16,2.13v4.25l-7.16,2.13l-7.16,-2.13v-4.25zM615.1,964.2l7.16,2.13v4.25l-7.16,2.13l-7.16,-2.13v-4.25zM629.5,785.5l7.16,2.13v4.25l-7.16,2.13l-7.16,-2.13v-4.25zM643.8,785.5l7.16,2.13v4.25l-7.16,2.13l-7.16,-2.13v-4.25zM658.1,798.3l7.16,2.13v4.25l-7.16,2.13l-7.16,-2.13v-4.25zM686.7,798.3l7.16,2.13v4.25l-7.16,2.13l-7.16,-2.13v-4.25zM686.7,964.2l7.16,2.13v4.25l-7.16,2.13l-7.16,-2.13v-4.25zM744.0,785.5l7.16,2.13v4.25l-7.16,2.13l-7.16,-2.13v-4.25zM744.0,798.3l7.16,2.13v4.25l-7.16,2.13l-7.16,-2.13v-4.25zM772.6,798.3l7.16,2.13v4.25l-7.16,2.13l-7.16,-2.13v-4.25zM801.2,785.5l7.16,2.13v4.25l-7.16,2.13l-7.16,-2.13v-4.25zM801.2,798.3l7.16,2.13v4.25l-7.16,2.13l-7.16,-2.13v-4.25zM801.2,964.2l7.16,2.13v4.25l-7.16,2.13l-7.16,-2.13v-4.25zM92.8,970.6l7.16,2.13v4.25l-7.16,2.13l-7.16,-2.13v-4.25zM135.7,817.4l7.16,2.13v4.25l-7.16,2.13l-7.16,-2.13v-4.25zM164.3,817.4l7.16,2.13v4.25l-7.16,2.13l-7.16,-2.13v-4.25zM164.3,957.8l7.16,2.13v4.25l-7.16,2.13l-7.16,-2.13v-4.25zM250.2,957.8l7.16,2.13v4.25l-7.16,2.13l-7.16,-2.13v-4.25zM264.5,804.6l7.16,2.13v4.25l-7.16,2.13l-7.16,-2.13v-4.25zM293.1,804.6l7.16,2.13v4.25l-7.16,2.13l-7.16,-2.13v-4.25zM293.1,945.0l7.16,2.13v4.25l-7.16,2.13l-7.16,-2.13v-4.25zM293.1,983.3l7.16,2.13v4.25l-7.16,2.13l-7.16,-2.13v-4.25zM307.4,791.9l7.16,2.13v4.25l-7.16,2.13l-7.16,-2.13v-4.25zM321.7,957.8l7.16,2.13v4.25l-7.16,2.13l-7.16,-2.13v-4.25zM421.9,779.1l7.16,2.13v4.25l-7.16,2.13l-7.16,-2.13v-4.25zM479.2,970.6l7.16,2.13v4.25l-7.16,2.13l-7.16,-2.13v-4.25zM522.1,779.1l7.16,2.13v4.25l-7.16,2.13l-7.16,-2.13v-4.25zM536.4,779.1l7.16,2.13v4.25l-7.16,2.13l-7.16,-2.13v-4.25zM536.4,970.6l7.16,2.13v4.25l-7.16,2.13l-7.16,-2.13v-4.25zM550.7,970.6l7.16,2.13v4.25l-7.16,2.13l-7.16,-2.13v-4.25zM565.1,779.1l7.16,2.13v4.25l-7.16,2.13l-7.16,-2.13v-4.25zM579.4,779.1l7.16,2.13v4.25l-7.16,2.13l-7.16,-2.13v-4.25zM636.6,791.9l7.16,2.13v4.25l-7.16,2.13l-7.16,-2.13v-4.25zM650.9,791.9l7.16,2.13v4.25l-7.16,2.13l-7.16,-2.13v-4.25zM679.5,791.9l7.16,2.13v4.25l-7.16,2.13l-7.16,-2.13v-4.25zM722.5,779.1l7.16,2.13v4.25l-7.16,2.13l-7.16,-2.13v-4.25zM736.8,970.6l7.16,2.13v4.25l-7.16,2.13l-7.16,-2.13v-4.25zM751.1,779.1l7.16,2.13v4.25l-7.16,2.13l-7.16,-2.13v-4.25zM751.1,791.9l7.16,2.13v4.25l-7.16,2.13l-7.16,-2.13v-4.25zM751.1,970.6l7.16,2.13v4.25l-7.16,2.13l-7.16,-2.13v-4.25zM751.1,983.3l7.16,2.13v4.25l-7.16,2.13l-7.16,-2.13v-4.25zM765.4,970.6l7.16,2.13v4.25l-7.16,2.13l-7.16,-2.13v-4.25zM779.7,779.1l7.16,2.13v4.25l-7.16,2.13l-7.16,-2.13v-4.25zM779.7,970.6l7.16,2.13v4.25l-7.16,2.13l-7.16,-2.13v-4.25zM794.0,804.6l7.16,2.13v4.25l-7.16,2.13l-7.16,-2.13v-4.25zM794.0,957.8l7.16,2.13v4.25l-7.16,2.13l-7.16,-2.13v-4.25z"/>
<path fill="#c8ef34" stroke="#c8ef34" d="M85.6,977.0l7.16,2.13v4.25l-7.16,2.13l-7.16,-2.13v-4.25zM99.9,798.3l7.16,2.13v4.25l-7.16,2.13l-7.16,-2.13v-4.25zM99.9,989.7l7.16,2.13v4.25l-7.16,2.13l-7.16,-2.13v-4.25zM114.2,798.3l7.16,2.13v4.25l-7.16,2.13l-7.16,-2.13v-4.25zM128.5,989.7l7.16,2.13v4.25l-7.16,2.13l-7.16,-2.13v-4.25zM171.5,798.3l7.16,2.13v4.25l-7.16,2.13l-7.16,-2.13v-4.25zM171.5,989.7l7.16,2.13v4.25l-7.16,2.13l-7.16,-2.13v-4.25zM228.7,798.3l7.16,2.13v4.25l-7.16,2.13l-7.16,-2.13v-4.25zM243.0,977.0l7.16,2.13v4.25l-7.16,2.13l-7.16,-2.13v-4.25zM257.3,798.3l7.16,2.13v4.25l-7.16,2.13l-7.16,-2.13v-4.25zM257.3,989.7l7.16,2.13v4.25l-7.16,2.13l-7.16,-2.13v-4.25zM314.6,989.7l7.16,2.13v4.25l-7.16,2.13l-7.16,-2.13v-4.25zM343.2,772.7l7.16,2.13v4.25l-7.16,2.13l-7.16,-2.13v-4.25zM343.2,989.7l7.16,2.13v4.25l-7.16,2.13l-7.16,-2.13v-4.25zM386.2,989.7l7.16,2.13v4.25l-7.16,2.13l-7.16,-2.13v-4.25zM400.5,989.7l7.16,2.13v4.25l-7.16,2.13l-7.16,-2.13v-4.25zM414.8,989.7l7.16,2.13v4.25l-7.16,2.13l-7.16,-2.13v-4.25zM457.7,760.0l7.16,2.13v4.25l-7.16,2.13l-7.16,-2.13v-4.25zM457.7,977.0l7.16,2.13v4.25l-7.16,2.13l-7.16,-2.13v-4.25zM472.0,989.7l7.16,2.13v4.25l-7.16,2.13l-7.16,-2.13v-4.25zM486.3,989.7l7.16,2.13v4.25l-7.16,2.13l-7.16,-2.13v-4.25zM515.0,760.0l7.16,2.13v4.25l-7.16,2.13l-7.16,-2.13v-4.25zM515.0,989.7l7.16,2.13v4.25l-7.16,2.13l-7.16,-2.13v-4.25zM557.9,760.0l7.16,2.13v4.25l-7.16,2.13l-7.16,-2.13v-4.25zM572.2,989.7l7.16,2.13v4.25l-7.16,2.13l-7.16,-2.13v-4.25zM600.8,772.7l7.16,2.13v4.25l-7.16,2.13l-7.16,-2.13v-4.25zM615.1,760.0l7.16,2.13v4.25l-7.16,2.13l-7.16,-2.13v-4.25zM615.1,772.7l7.16,2.13v4.25l-7.16,2.13l-7.16,-2.13v-4.25zM615.1,989.7l7.16,2.13v4.25l-7.16,2.13l-7.16,-2.13v-4.25zM701.0,989.7l7.16,2.13v4.25l-7.16,2.13l-7.16,-2.13v-4.25zM744.0,772.7l7.16,2.13v4.25l-7.16,2.13l-7.16,-2.13v-4.25zM772.6,989.7l7.16,2.13v4.25l-7.16,2.13l-7.16,-2.13v-4.25zM92.8,804.6l7.16,2.13v4.25l-7.16,2.13l-7.16,-2.13v-4.25zM107.1,983.3l7.16,2.13v4.25l-7.16,2.13l-7.16,-2.13v-4.25zM121.4,804.6l7.16,2.13v4.25l-7.16,2.13l-7.16,-2.13v-4.25zM178.6,804.6l7.16,2.13v4.25l-7.16,2.13l-7.16,-2.13v-4.25zM178.6,970.6l7.16,2.13v4.25l-7.16,2.13l-7.16,-2.13v-4.25zM178.6,983.3l7.16,2.13v4.25l-7.16,2.13l-7.16,-2.13v-4.25zM192.9,970.6l7.16,2.13v4.25l-7.16,2.13l-7.16,-2.13v-4.25zM221.6,791.9l7.16,2.13v4.25l-7.16,2.13l-7.16,-2.13v-4.25zM221.6,983.3l7.16,2.13v4.25l-7.16,2.13l-7.16,-2.13v-4.25zM264.5,791.9l7.16,2.13v4.25l-7.16,2.13l-7.16,-2.13v-4.25zM293.1,791.9l7.16,2.13v4.25l-7.16,2.13l-7.16,-2.13v-4.25zM293.1,970.6l7.16,2.13v4.25l-7.16,2.13l-7.16,-2.13v-4.25zM307.4,996.1l7.16,2.13v4.25l-7.16,2.13l-7.16,-2.13v-4.25zM336.1,970.6l7.16,2.13v4.25l-7.16,2.13l-7.16,-2.13v-4.25zM350.4,983.3l7.16,2.13v4.25l-7.16,2.13l-7.16,-2.13v-4.25zM350.4,996.1l7.16,2.13v4.25l-7.16,2.13l-7.16,-2.13v-4.25zM364.7,983.3l7.16,2.13v4.25l-7.16,2.13l-7.16,-2.13v-4.25zM393.3,766.3l7.16,2.13v4.25l-7.16,2.13l-7.16,-2.13v-4.25zM393.3,996.1l7.16,2.13v4.25l-7.16,2.13l-7.16,-2.13v-4.25zM407.6,766.3l7.16,2.13v4.25l-7.16,2.13l-7.16,-2.13v-4.25zM407.6,983.3l7.16,2.13v4.25l-7.16,2.13l-7.16,-2.13v-4.25zM421.9,766.3l7.16,2.13v4.25l-7.16,2.13l-7.16,-2.13v-4.25zM421.9,983.3l7.16,2.13v4.25l-7.16,2.13l-7.16,-2.13v-4.25zM436.2,983.3l7.16,2.13v4.25l-7.16,2.13l-7.16,-2.13v-4.25zM479.2,766.3l7.16,2.13v4.25l-7.16,2.13l-7.16,-2.13v-4.25zM522.1,766.3l7.16,2.13v4.25l-7.16,2.13l-7.16,-2.13v-4.25zM536.4,766.3l7.16,2.13v4.25l-7.16,2.13l-7.16,-2.13v-4.25zM536.4,983.3l7.16,2.13v4.25l-7.16,2.13l-7.16,-2.13v-4.25zM550.7,983.3l7.16,2.13v4.25l-7.16,2.13l-7.16,-2.13v-4.25zM565.1,983.3l7.16,2.13v4.25l-7.16,2.13l-7.16,-2.13v-4.25zM593.7,766.3l7.16,2.13v4.25l-7.16,2.13l-7.16,-2.13v-4.25zM608.0,766.3l7.16,2.13v4.25l-7.16,2.13l-7.16,-2.13v-4.25zM622.3,766.3l7.16,2.13v4.25l-7.16,2.13l-7.16,-2.13v-4.25zM650.9,983.3l7.16,2.13v4.25l-7.16,2.13l-7.16,-2.13v-4.25zM665.2,766.3l7.16,2.13v4.25l-7.16,2.13l-7.16,-2.13v-4.25zM679.5,983.3l7.16,2.13v4.25l-7.16,2.13l-7.16,-2.13v-4.25zM693.9,970.6l7.16,2.13v4.25l-7.16,2.13l-7.16,-2.13v-4.25zM693.9,983.3l7.16,2.13v4.25l-7.16,2.13l-7.16,-2.13v-4.25zM751.1,996.1l7.16,2.13v4.25l-7.16,2.13l-7.16,-2.13v-4.25z"/>
<path fill="#b4f836" stroke="#b4f836" d="M85.6,1002.5l7.16,2.13v4.25l-7.16,2.13l-7.16,-2.13v-4.25zM99.9,1002.5l7.16,2.13v4.25l-7.16,2.13l-7.16,-2.13v-4.25zM128.5,785.5l7.16,2.13v4.25l-7.16,2.13l-7.16,-2.13v-4.25zM128.5,1002.5l7.16,2.13v4.25l-7.16,2.13l-7.16,-2.13v-4.25zM142.8,785.5l7.16,2.13v4.25l-7.16,2.13l-7.16,-2.13v-4.25zM142.8,989.7l7.16,2.13v4.25l-7.16,2.13l-7.16,-2.13v-4.25zM142.8,1002.5l7.16,2.13v4.25l-7.16,2.13l-7.16,-2.13v-4.25zM157.2,785.5l7.16,2.13v4.25l-7.16,2.13l-7.16,-2.13v-4.25zM185.8,785.5l7.16,2.13v4.25l-7.16,2.13l-7.16,-2.13v-4.25zM214.4,785.5l7.16,2.13v4.25l-7.16,2.13l-7.16,-2.13v-4.25zM214.4,798.3l7.16,2.13v4.25l-7.16,2.13l-7.16,-2.13v-4.25zM214.4,989.7l7.16,2.13v4.25l-7.16,2.13l-7.16,-2.13v-4.25zM228.7,785.5l7.16,2.13v4.25l-7.16,2.13l-7.16,-2.13v-4.25zM243.0,785.5l7.16,2.13v4.25l-7.16,2.13l-7.16,-2.13v-4.25zM243.0,989.7l7.16,2.13v4.25l-7.16,2.13l-7.16,-2.13v-4.25zM257.3,1002.5l7.16,2.13v4.25l-7.16,2.13l-7.16,-2.13v-4.25zM271.7,989.7l7.16,2.13v4.25l-7.16,2.13l-7.16,-2.13v-4.25zM286.0,785.5l7.16,2.13v4.25l-7.16,2.13l-7.16,-2.13v-4.25zM286.0,1002.5l7.16,2.13v4.25l-7.16,2.13l-7.16,-2.13v-4.25zM300.3,1002.5l7.16,2.13v4.25l-7.16,2.13l-7.16,-2.13v-4.25zM314.6,772.7l7.16,2.13v4.25l-7.16,2.13l-7.16,-2.13v-4.25zM314.6,1002.5l7.16,2.13v4.25l-7.16,2.13l-7.16,-2.13v-4.25zM371.8,760.0l7.16,2.13v4.25l-7.16,2.13l-7.16,-2.13v-4.25zM386.2,1002.5l7.16,2.13v4.25l-7.16,2.13l-7.16,-2.13v-4.25zM400.5,760.0l7.16,2.13v4.25l-7.16,2.13l-7.16,-2.13v-4.25zM400.5,1002.5l7.16,2.13v4.25l-7.16,2.13l-7.16,-2.13v-4.25zM414.8,1002.5l7.16,2.13v4.25l-7.16,2.13l-7.16,-2.13v-4.25zM443.4,760.0l7.16,2.13v4.25l-7.16,2.13l-7.16,-2.13v-4.25zM472.0,1002.5l7.16,2.13v4.25l-7.16,2.13l-7.16,-2.13v-4.25zM543.6,1002.5l7.16,2.13v4.25l-7.16,2.13l-7.16,-2.13v-4.25zM557.9,1002.5l7.16,2.13v4.25l-7.16,2.13l-7.16,-2.13v-4.25zM586.5,760.0l7.16,2.13v4.25l-7.16,2.13l-7.16,-2.13v-4.25zM615.1,1002.5l7.16,2.13v4.25l-7.16,2.13l-7.16,-2.13v-4.25zM629.5,760.0l7.16,2.13v4.25l-7.16,2.13l-7.16,-2.13v-4.25zM686.7,760.0l7.16,2.13v4.25l-7.16,2.13l-7.16,-2.13v-4.25zM701.0,760.0l7.16,2.13v4.25l-7.16,2.13l-7.16,-2.13v-4.25zM758.3,747.2l7.16,2.13v4.25l-7.16,2.13l-7.16,-2.13v-4.25zM758.3,760.0l7.16,2.13v4.25l-7.16,2.13l-7.16,-2.13v-4.25zM801.2,760.0l7.16,2.13v4.25l-7.16,2.13l-7.16,-2.13v-4.25zM121.4,1008.9l7.16,2.13v4.25l-7.16,2.13l-7.16,-2.13v-4.25zM135.7,791.9l7.16,2.13v4.25l-7.16,2.13l-7.16,-2.13v-4.25zM135.7,996.1l7.16,2.13v4.25l-7.16,2.13l-7.16,-2.13v-4.25zM150.0,791.9l7.16,2.13v4.25l-7.16,2.13l-7.16,-2.13v-4.25zM150.0,996.1l7.16,2.13v4.25l-7.16,2.13l-7.16,-2.13v-4.25zM150.0,1008.9l7.16,2.13v4.25l-7.16,2.13l-7.16,-2.13v-4.25zM164.3,996.1l7.16,2.13v4.25l-7.16,2.13l-7.16,-2.13v-4.25zM192.9,791.9l7.16,2.13v4.25l-7.16,2.13l-7.16,-2.13v-4.25zM192.9,996.1l7.16,2.13v4.25l-7.16,2.13l-7.16,-2.13v-4.25zM207.3,791.9l7.16,2.13v4.25l-7.16,2.13l-7.16,-2.13v-4.25zM207.3,983.3l7.16,2.13v4.25l-7.16,2.13l-7.16,-2.13v-4.25zM207.3,996.1l7.16,2.13v4.25l-7.16,2.13l-7.16,-2.13v-4.25zM235.9,996.1l7.16,2.13v4.25l-7.16,2.13l-7.16,-2.13v-4.25zM250.2,791.9l7.16,2.13v4.25l-7.16,2.13l-7.16,-2.13v-4.25zM250.2,996.1l7.16,2.13v4.25l-7.16,2.13l-7.16,-2.13v-4.25zM250.2,1008.9l7.16,2.13v4.25l-7.16,2.13l-7.16,-2.13v-4.25zM264.5,983.3l7.16,2.13v4.25l-7.16,2.13l-7.16,-2.13v-4.25zM278.8,1008.9l7.16,2.13v4.25l-7.16,2.13l-7.16,-2.13v-4.25zM321.7,779.1l7.16,2.13v4.25l-7.16,2.13l-7.16,-2.13v-4.25zM364.7,753.6l7.16,2.13v4.25l-7.16,2.13l-7.16,-2.13v-4.25zM379.0,766.3l7.16,2.13v4.25l-7.16,2.13l-7.16,-2.13v-4.25zM393.3,753.6l7.16,2.13v4.25l-7.16,2.13l-7.16,-2.13v-4.25zM407.6,753.6l7.16,2.13v4.25l-7.16,2.13l-7.16,-2.13v-4.25zM407.6,996.1l7.16,2.13v4.25l-7.16,2.13l-7.16,-2.13v-4.25zM436.2,753.6l7.16,2.13v4.25l-7.16,2.13l-7.16,-2.13v-4.25zM436.2,996.1l7.16,2.13v4.25l-7.16,2.13l-7.16,-2.13v-4.25zM436.2,1008.9l7.16,2.13v4.25l-7.16,2.13l-7.16,-2.13v-4.25zM464.9,996.1l7.16,2.13v4.25l-7.16,2.13l-7.16,-2.13v-4.25zM479.2,996.1l7.16,2.13v4.25l-7.16,2.13l-7.16,-2.13v-4.25zM493.5,996.1l7.16,2.13v4.25l-7.16,2.13l-7.16,-2.13v-4.25zM493.5,1008.9l7.16,2.13v4.25l-7.16,2.13l-7.16,-2.13v-4.25zM507.8,753.6l7.16,2.13v4.25l-7.16,2.13l-7.16,-2.13v-4.25zM522.1,1008.9l7.16,2.13v4.25l-7.16,2.13l-7.16,-2.13v-4.25zM536.4,996.1l7.16,2.13v4.25l-7.16,2.13l-7.16,-2.13v-4.25zM536.4,1008.9l7.16,2.13v4.25l-7.16,2.13l-7.16,-2.13v-4.25zM550.7,996.1l7.16,2.13v4.25l-7.16,2.13l-7.16,-2.13v-4.25zM565.1,996.1l7.16,2.13v4.25l-7.16,2.13l-7.16,-2.13v-4.25zM622.3,996.1l7.16,2.13v4.25l-7.16,2.13l-7.16,-2.13v-4.25zM622.3,1008.9l7.16,2.13v4.25l-7.16,2.13l-7.16,-2.13v-4.25zM650.9,753.6l7.16,2.13v4.25l-7.16,2.13l-7.16,-2.13v-4.25zM665.2,983.3l7.16,2.13v4.25l-7.16,2.13l-7.16,-2.13v-4.25zM665.2,996.1l7.16,2.13v4.25l-7.16,2.13l-7.16,-2.13v-4.25zM708.2,996.1l7.16,2.13v4.25l-7.16,2.13l-7.16,-2.13v-4.25zM722.5,753.6l7.16,2.13v4.25l-7.16,2.13l-7.16,-2.13v-4.25zM736.8,753.6l7.16,2.13v4.25l-7.16,2.13l-7.16,-2.13v-4.25zM736.8,766.3l7.16,2.13v4.25l-7.16,2.13l-7.16,-2.13v-4.25zM751.1,1008.9l7.16,2.13v4.25l-7.16,2.13l-7.16,-2.13v-4.25zM779.7,753.6l7.16,2.13v4.25l-7.16,2.13l-7.16,-2.13v-4.25zM779.7,766.3l7.16,2.13v4.25l-7.16,2.13l-7.16,-2.13v-4.25z"/>
<path fill="#a7fc3a" stroke="#a7fc3a" d="M85.6,1015.3l7.16,2.13v4.25l-7.16,2.13l-7.16,-2.13v-4.25zM142.8,1015.3l7.16,2.13v4.25l-7.16,2.13l-7.16,-2.13v-4.25zM157.2,1002.5l7.16,2.13v4.25l-7.16,2.13l-7.16,-2.13v-4.25zM157.2,1015.3l7.16,2.13v4.25l-7.16,2.13l-7.16,-2.13v-4.25zM200.1,785.5l7.16,2.13v4.25l-7.16,2.13l-7.16,-2.13v-4.25zM243.0,772.7l7.16,2.13v4.25l-7.16,2.13l-7.16,-2.13v-4.25zM257.3,1015.3l7.16,2.13v4.25l-7.16,2.13l-7.16,-2.13v-4.25zM314.6,1015.3l7.16,2.13v4.25l-7.16,2.13l-7.16,-2.13v-4.25zM328.9,1015.3l7.16,2.13v4.25l-7.16,2.13l-7.16,-2.13v-4.25zM343.2,760.0l7.16,2.13v4.25l-7.16,2.13l-7.16,-2.13v-4.25zM357.5,1015.3l7.16,2.13v4.25l-7.16,2.13l-7.16,-2.13v-4.25zM386.2,1015.3l7.16,2.13v4.25l-7.16,2.13l-7.16,-2.13v-4.25zM400.5,1015.3l7.16,2.13v4.25l-7.16,2.13l-7.16,-2.13v-4.25zM414.8,1015.3l7.16,2.13v4.25l-7.16,2.13l-7.16,-2.13v-4.25zM457.7,1002.5l7.16,2.13v4.25l-7.16,2.13l-7.16,-2.13v-4.25zM486.3,1015.3l7.16,2.13v4.25l-7.16,2.13l-7.16,-2.13v-4.25zM500.6,1015.3l7.16,2.13v4.25l-7.16,2.13l-7.16,-2.13v-4.25zM515.0,1002.5l7.16,2.13v4.25l-7.16,2.13l-7.16,-2.13v-4.25zM515.0,1015.3l7.16,2.13v4.25l-7.16,2.13l-7.16,-2.13v-4.25zM543.6,747.2l7.16,2.13v4.25l-7.16,2.13l-7.16,-2.13v-4.25zM557.9,1015.3l7.16,2.13v4.25l-7.16,2.13l-7.16,-2.13v-4.25zM586.5,1015.3l7.16,2.13v4.25l-7.16,2.13l-7.16,-2.13v-4.25zM629.5,747.2l7.16,2.13v4.25l-7.16,2.13l-7.16,-2.13v-4.25zM643.8,1002.5l7.16,2.13v4.25l-7.16,2.13l-7.16,-2.13v-4.25zM672.4,747.2l7.16,2.13v4.25l-7.16,2.13l-7.16,-2.13v-4.25zM729.6,1015.3l7.16,2.13v4.25l-7.16,2.13l-7.16,-2.13v-4.25zM744.0,1015.3l7.16,2.13v4.25l-7.16,2.13l-7.16,-2.13v-4.25zM772.6,747.2l7.16,2.13v4.25l-7.16,2.13l-7.16,-2.13v-4.25zM786.9,747.2l7.16,2.13v4.25l-7.16,2.13l-7.16,-2.13v-4.25zM92.8,779.1l7.16,2.13v4.25l-7.16,2.13l-7.16,-2.13v-4.25zM92.8,1008.9l7.16,2.13v4.25l-7.16,2.13l-7.16,-2.13v-4.25zM107.1,996.1l7.16,2.13v4.25l-7.16,2.13l-7.16,-2.13v-4.25zM107.1,1008.9l7.16,2.13v4.25l-7.16,2.13l-7.16,-2.13v-4.25zM192.9,779.1l7.16,2.13v4.25l-7.16,2.13l-7.16,-2.13v-4.25zM192.9,1008.9l7.16,2.13v4.25l-7.16,2.13l-7.16,-2.13v-4.25zM221.6,779.1l7.16,2.13v4.25l-7.16,2.13l-7.16,-2.13v-4.25zM235.9,779.1l7.16,2.13v4.25l-7.16,2.13l-7.16,-2.13v-4.25zM235.9,1008.9l7.16,2.13v4.25l-7.16,2.13l-7.16,-2.13v-4.25zM264.5,779.1l7.16,2.13v4.25l-7.16,2.13l-7.16,-2.13v-4.25zM264.5,1008.9l7.16,2.13v4.25l-7.16,2.13l-7.16,-2.13v-4.25zM307.4,766.3l7.16,2.13v4.25l-7.16,2.13l-7.16,-2.13v-4.25zM336.1,1008.9l7.16,2.13v4.25l-7.16,2.13l-7.16,-2.13v-4.25zM379.0,1008.9l7.16,2.13v4.25l-7.16,2.13l-7.16,-2.13v-4.25zM464.9,1008.9l7.16,2.13v4.25l-7.16,2.13l-7.16,-2.13v-4.25zM507.8,1008.9l7.16,2.13v4.25l-7.16,2.13l-7.16,-2.13v-4.25zM550.7,740.8l7.16,2.13v4.25l-7.16,2.13l-7.16,-2.13v-4.25zM608.0,1008.9l7.16,2.13v4.25l-7.16,2.13l-7.16,-2.13v-4.25zM636.6,753.6l7.16,2.13v4.25l-7.16,2.13l-7.16,-2.13v-4.25zM693.9,753.6l7.16,2.13v4.25l-7.16,2.13l-7.16,-2.13v-4.25zM708.2,1008.9l7.16,2.13v4.25l-7.16,2.13l-7.16,-2.13v-4.25zM736.8,1021.6l7.16,2.13v4.25l-7.16,2.13l-7.16,-2.13v-4.25z"/>
<path fill="#59fb73" stroke="#59fb73" d="M85.6,1028.0l7.16,2.13v4.25l-7.16,2.13l-7.16,-2.13v-4.25zM128.5,747.2l7.16,2.13v4.25l-7.16,2.13l-7.16,-2.13v-4.25zM128.5,760.0l7.16,2.13v4.25l-7.16,2.13l-7.16,-2.13v-4.25zM142.8,747.2l7.16,2.13v4.25l-7.16,2.13l-7.16,-2.13v-4.25zM142.8,760.0l7.16,2.13v4.25l-7.16,2.13l-7.16,-2.13v-4.25zM243.0,1028.0l7.16,2.13v4.25l-7.16,2.13l-7.16,-2.13v-4.25zM414.8,734.4l7.16,2.13v4.25l-7.16,2.13l-7.16,-2.13v-4.25zM572.2,1028.0l7.16,2.13v4.25l-7.16,2.13l-7.16,-2.13v-4.25zM615.1,734.4l7.16,2.13v4.25l-7.16,2.13l-7.16,-2.13v-4.25zM629.5,1028.0l7.16,2.13v4.25l-7.16,2.13l-7.16,-2.13v-4.25zM643.8,1028.0l7.16,2.13v4.25l-7.16,2.13l-7.16,-2.13v-4.25zM658.1,1028.0l7.16,2.13v4.25l-7.16,2.13l-7.16,-2.13v-4.25zM701.0,1028.0l7.16,2.13v4.25l-7.16,2.13l-7.16,-2.13v-4.25zM758.3,734.4l7.16,2.13v4.25l-7.16,2.13l-7.16,-2.13v-4.25zM801.2,734.4l7.16,2.13v4.25l-7.16,2.13l-7.16,-2.13v-4.25zM121.4,753.6l7.16,2.13v4.25l-7.16,2.13l-7.16,-2.13v-4.25zM235.9,753.6l7.16,2.13v4.25l-7.16,2.13l-7.16,-2.13v-4.25zM250.2,1021.6l7.16,2.13v4.25l-7.16,2.13l-7.16,-2.13v-4.25zM264.5,740.8l7.16,2.13v4.25l-7.16,2.13l-7.16,-2.13v-4.25zM293.1,740.8l7.16,2.13v4.25l-7.16,2.13l-7.16,-2.13v-4.25zM493.5,728.1l7.16,2.13v4.25l-7.16,2.13l-7.16,-2.13v-4.25zM536.4,728.1l7.16,2.13v4.25l-7.16,2.13l-7.16,-2.13v-4.25zM550.7,728.1l7.16,2.13v4.25l-7.16,2.13l-7.16,-2.13v-4.25zM608.0,728.1l7.16,2.13v4.25l-7.16,2.13l-7.16,-2.13v-4.25zM722.5,728.1l7.16,2.13v4.25l-7.16,2.13l-7.16,-2.13v-4.25z"/>
<path fill="#4143a7" stroke="#4143a7" d="M85.6,1053.5l7.16,2.13v4.25l-7.16,2.13l-7.16,-2.13v-4.25zM99.9,1053.5l7.16,2.13v4.25l-7.16,2.13l-7.16,-2.13v-4.25zM243.0,696.1l7.16,2.13v4.25l-7.16,2.13l-7.16,-2.13v-4.25zM357.5,1053.5l7.16,2.13v4.25l-7.16,2.13l-7.16,-2.13v-4.25zM371.8,1053.5l7.16,2.13v4.25l-7.16,2.13l-7.16,-2.13v-4.25zM543.6,1053.5l7.16,2.13v4.25l-7.16,2.13l-7.16,-2.13v-4.25zM600.8,1053.5l7.16,2.13v4.25l-7.16,2.13l-7.16,-2.13v-4.25zM701.0,1053.5l7.16,2.13v4.25l-7.16,2.13l-7.16,-2.13v-4.25zM801.2,1053.5l7.16,2.13v4.25l-7.16,2.13l-7.16,-2.13v-4.25zM522.1,702.5l7.16,2.13v4.25l-7.16,2.13l-7.16,-2.13v-4.25z"/>
<path fill="#18dbc5" stroke="#18dbc5" d="M99.9,721.7l7.16,2.13v4.25l-7.16,2.13l-7.16,-2.13v-4.25zM157.2,734.4l7.16,2.13v4.25l-7.16,2.13l-7.16,-2.13v-4.25zM629.5,1040.8l7.16,2.13v4.25l-7.16,2.13l-7.16,-2.13v-4.25zM686.7,721.7l7.16,2.13v4.25l-7.16,2.13l-7.16,-2.13v-4.25zM701.0,1040.8l7.16,2.13v4.25l-7.16,2.13l-7.16,-2.13v-4.25zM135.7,715.3l7.16,2.13v4.25l-7.16,2.13l-7.16,-2.13v-4.25zM150.0,728.1l7.16,2.13v4.25l-7.16,2.13l-7.16,-2.13v-4.25zM150.0,1034.4l7.16,2.13v4.25l-7.16,2.13l-7.16,-2.13v-4.25zM207.3,728.1l7.16,2.13v4.25l-7.16,2.13l-7.16,-2.13v-4.25zM207.3,1034.4l7.16,2.13v4.25l-7.16,2.13l-7.16,-2.13v-4.25zM221.6,728.1l7.16,2.13v4.25l-7.16,2.13l-7.16,-2.13v-4.25zM235.9,1034.4l7.16,2.13v4.25l-7.16,2.13l-7.16,-2.13v-4.25zM307.4,715.3l7.16,2.13v4.25l-7.16,2.13l-7.16,-2.13v-4.25zM379.0,715.3l7.16,2.13v4.25l-7.16,2.13l-7.16,-2.13v-4.25zM479.2,715.3l7.16,2.13v4.25l-7.16,2.13l-7.16,-2.13v-4.25zM636.6,715.3l7.16,2.13v4.25l-7.16,2.13l-7.16,-2.13v-4.25zM708.2,1034.4l7.16,2.13v4.25l-7.16,2.13l-7.16,-2.13v-4.25z"/>
<path fill="#61fc6c" stroke="#61fc6c" d="M99.9,760.0l7.16,2.13v4.25l-7.16,2.13l-7.16,-2.13v-4.25zM114.2,747.2l7.16,2.13v4.25l-7.16,2.13l-7.16,-2.13v-4.25zM114.2,1028.0l7.16,2.13v4.25l-7.16,2.13l-7.16,-2.13v-4.25zM157.2,760.0l7.16,2.13v4.25l-7.16,2.13l-7.16,-2.13v-4.25zM171.5,760.0l7.16,2.13v4.25l-7.16,2.13l-7.16,-2.13v-4.25zM214.4,1028.0l7.16,2.13v4.25l-7.16,2.13l-7.16,-2.13v-4.25zM357.5,734.4l7.16,2.13v4.25l-7.16,2.13l-7.16,-2.13v-4.25zM371.8,1028.0l7.16,2.13v4.25l-7.16,2.13l-7.16,-2.13v-4.25zM443.4,734.4l7.16,2.13v4.25l-7.16,2.13l-7.16,-2.13v-4.25zM472.0,734.4l7.16,2.13v4.25l-7.16,2.13l-7.16,-2.13v-4.25zM515.0,734.4l7.16,2.13v4.25l-7.16,2.13l-7.16,-2.13v-4.25zM543.6,734.4l7.16,2.13v4.25l-7.16,2.13l-7.16,-2.13v-4.25zM543.6,1028.0l7.16,2.13v4.25l-7.16,2.13l-7.16,-2.13v-4.25zM600.8,734.4l7.16,2.13v4.25l-7.16,2.13l-7.16,-2.13v-4.25zM615.1,1028.0l7.16,2.13v4.25l-7.16,2.13l-7.16,-2.13v-4.25zM629.5,734.4l7.16,2.13v4.25l-7.16,2.13l-7.16,-2.13v-4.25zM643.8,734.4l7.16,2.13v4.25l-7.16,2.13l-7.16,-2.13v-4.25zM658.1,734.4l7.16,2.13v4.25l-7.16,2.13l-7.16,-2.13v-4.25zM715.3,734.4l7.16,2.13v4.25l-7.16,2.13l-7.16,-2.13v-4.25zM801.2,1028.0l7.16,2.13v4.25l-7.16,2.13l-7.16,-2.13v-4.25zM92.8,1021.6l7.16,2.13v4.25l-7.16,2.13l-7.16,-2.13v-4.25zM135.7,753.6l7.16,2.13v4.25l-7.16,2.13l-7.16,-2.13v-4.25zM150.0,753.6l7.16,2.13v4.25l-7.16,2.13l-7.16,-2.13v-4.25zM192.9,740.8l7.16,2.13v4.25l-7.16,2.13l-7.16,-2.13v-4.25zM522.1,728.1l7.16,2.13v4.25l-7.16,2.13l-7.16,-2.13v-4.25zM565.1,1021.6l7.16,2.13v4.25l-7.16,2.13l-7.16,-2.13v-4.25zM593.7,728.1l7.16,2.13v4.25l-7.16,2.13l-7.16,-2.13v-4.25zM765.4,728.1l7.16,2.13v4.25l-7.16,2.13l-7.16,-2.13v-4.25z"/>
<path fill="#a1fd3d" stroke="#a1fd3d" d="M99.9,772.7l7.16,2.13v4.25l-7.16,2.13l-7.16,-2.13v-4.25zM99.9,785.5l7.16,2.13v4.25l-7.16,2.13l-7.16,-2.13v-4.25zM99.9,1015.3l7.16,2.13v4.25l-7.16,2.13l-7.16,-2.13v-4.25zM114.2,1002.5l7.16,2.13v4.25l-7.16,2.13l-7.16,-2.13v-4.25zM128.5,1015.3l7.16,2.13v4.25l-7.16,2.13l-7.16,-2.13v-4.25zM185.8,772.7l7.16,2.13v4.25l-7.16,2.13l-7.16,-2.13v-4.25zM200.1,1015.3l7.16,2.13v4.25l-7.16,2.13l-7.16,-2.13v-4.25zM214.4,772.7l7.16,2.13v4.25l-7.16,2.13l-7.16,-2.13v-4.25zM214.4,1015.3l7.16,2.13v4.25l-7.16,2.13l-7.16,-2.13v-4.25zM228.7,772.7l7.16,2.13v4.25l-7.16,2.13l-7.16,-2.13v-4.25zM228.7,1015.3l7.16,2.13v4.25l-7.16,2.13l-7.16,-2.13v-4.25zM271.7,772.7l7.16,2.13v4.25l-7.16,2.13l-7.16,-2.13v-4.25zM357.5,760.0l7.16,2.13v4.25l-7.16,2.13l-7.16,-2.13v-4.25zM371.8,1015.3l7.16,2.13v4.25l-7.16,2.13l-7.16,-2.13v-4.25zM400.5,747.2l7.16,2.13v4.25l-7.16,2.13l-7.16,-2.13v-4.25zM414.8,747.2l7.16,2.13v4.25l-7.16,2.13l-7.16,-2.13v-4.25zM443.4,1015.3l7.16,2.13v4.25l-7.16,2.13l-7.16,-2.13v-4.25zM472.0,747.2l7.16,2.13v4.25l-7.16,2.13l-7.16,-2.13v-4.25zM472.0,1015.3l7.16,2.13v4.25l-7.16,2.13l-7.16,-2.13v-4.25zM500.6,747.2l7.16,2.13v4.25l-7.16,2.13l-7.16,-2.13v-4.25zM529.3,747.2l7.16,2.13v4.25l-7.16,2.13l-7.16,-2.13v-4.25zM557.9,747.2l7.16,2.13v4.25l-7.16,2.13l-7.16,-2.13v-4.25zM572.2,1002.5l7.16,2.13v4.25l-7.16,2.13l-7.16,-2.13v-4.25zM572.2,1015.3l7.16,2.13v4.25l-7.16,2.13l-7.16,-2.13v-4.25zM600.8,747.2l7.16,2.13v4.25l-7.16,2.13l-7.16,-2.13v-4.25zM615.1,1015.3l7.16,2.13v4.25l-7.16,2.13l-7.16,-2.13v-4.25zM629.5,1015.3l7.16,2.13v4.25l-7.16,2.13l-7.16,-2.13v-4.25zM643.8,747.2l7.16,2.13v4.25l-7.16,2.13l-7.16,-2.13v-4.25zM672.4,1015.3l7.16,2.13v4.25l-7.16,2.13l-7.16,-2.13v-4.25zM686.7,1015.3l7.16,2.13v4.25l-7.16,2.13l-7.16,-2.13v-4.25zM715.3,1015.3l7.16,2.13v4.25l-7.16,2.13l-7.16,-2.13v-4.25zM758.3,1015.3l7.16,2.13v4.25l-7.16,2.13l-7.16,-2.13v-4.25zM786.9,1015.3l7.16,2.13v4.25l-7.16,2.13l-7.16,-2.13v-4.25zM801.2,747.2l7.16,2.13v4.25l-7.16,2.13l-7.16,-2.13v-4.25zM107.1,779.1l7.16,2.13v4.25l-7.16,2.13l-7.16,-2.13v-4.25zM150.0,779.1l7.16,2.13v4.25l-7.16,2.13l-7.16,-2.13v-4.25zM150.0,1021.6l7.16,2.13v4.25l-7.16,2.13l-7.16,-2.13v-4.25zM164.3,779.1l7.16,2.13v4.25l-7.16,2.13l-7.16,-2.13v-4.25zM164.3,1008.9l7.16,2.13v4.25l-7.16,2.13l-7.16,-2.13v-4.25zM164.3,1021.6l7.16,2.13v4.25l-7.16,2.13l-7.16,-2.13v-4.25zM192.9,766.3l7.16,2.13v4.25l-7.16,2.13l-7.16,-2.13v-4.25zM207.3,779.1l7.16,2.13v4.25l-7.16,2.13l-7.16,-2.13v-4.25zM336.1,766.3l7.16,2.13v4.25l-7.16,2.13l-7.16,-2.13v-4.25zM379.0,753.6l7.16,2.13v4.25l-7.16,2.13l-7.16,-2.13v-4.25zM522.1,753.6l7.16,2.13v4.25l-7.16,2.13l-7.16,-2.13v-4.25zM550.7,1008.9l7.16,2.13v4.25l-7.16,2.13l-7.16,-2.13v-4.25zM579.4,740.8l7.16,2.13v4.25l-7.16,2.13l-7.16,-2.13v-4.25zM579.4,1008.9l7.16,2.13v4.25l-7.16,2.13l-7.16,-2.13v-4.25zM593.7,1008.9l7.16,2.13v4.25l-7.16,2.13l-7.16,-2.13v-4.25zM679.5,1008.9l7.16,2.13v4.25l-7.16,2.13l-7.16,-2.13v-4.25zM765.4,1008.9l7.16,2.13v4.25l-7.16,2.13l-7.16,-2.13v-4.25zM794.0,740.8l7.16,2.13v4.25l-7.16,2.13l-7.16,-2.13v-4.25z"/>
<path fill="#d4e735" stroke="#d4e735" d="M99.9,977.0l7.16,2.13v4.25l-7.16,2.13l-7.16,-2.13v-4.25zM114.2,811.0l7.16,2.13v4.25l-7.16,2.13l-7.16,-2.13v-4.25zM114.2,977.0l7.16,2.13v4.25l-7.16,2.13l-7.16,-2.13v-4.25zM128.5,811.0l7.16,2.13v4.25l-7.16,2.13l-7.16,-2.13v-4.25zM128.5,964.2l7.16,2.13v4.25l-7.16,2.13l-7.16,-2.13v-4.25zM142.8,964.2l7.16,2.13v4.25l-7.16,2.13l-7.16,-2.13v-4.25zM157.2,989.7l7.16,2.13v4.25l-7.16,2.13l-7.16,-2.13v-4.25zM171.5,964.2l7.16,2.13v4.25l-7.16,2.13l-7.16,-2.13v-4.25zM200.1,951.4l7.16,2.13v4.25l-7.16,2.13l-7.16,-2.13v-4.25zM214.4,964.2l7.16,2.13v4.25l-7.16,2.13l-7.16,-2.13v-4.25zM257.3,964.2l7.16,2.13v4.25l-7.16,2.13l-7.16,-2.13v-4.25zM271.7,798.3l7.16,2.13v4.25l-7.16,2.13l-7.16,-2.13v-4.25zM314.6,785.5l7.16,2.13v4.25l-7.16,2.13l-7.16,-2.13v-4.25zM314.6,964.2l7.16,2.13v4.25l-7.16,2.13l-7.16,-2.13v-4.25zM328.9,977.0l7.16,2.13v4.25l-7.16,2.13l-7.16,-2.13v-4.25zM343.2,1002.5l7.16,2.13v4.25l-7.16,2.13l-7.16,-2.13v-4.25zM357.5,989.7l7.16,2.13v4.25l-7.16,2.13l-7.16,-2.13v-4.25zM371.8,772.7l7.16,2.13v4.25l-7.16,2.13l-7.16,-2.13v-4.25zM371.8,977.0l7.16,2.13v4.25l-7.16,2.13l-7.16,-2.13v-4.25zM371.8,989.7l7.16,2.13v4.25l-7.16,2.13l-7.16,-2.13v-4.25zM414.8,772.7l7.16,2.13v4.25l-7.16,2.13l-7.16,-2.13v-4.25zM443.4,772.7l7.16,2.13v4.25l-7.16,2.13l-7.16,-2.13v-4.25zM472.0,977.0l7.16,2.13v4.25l-7.16,2.13l-7.16,-2.13v-4.25zM486.3,772.7l7.16,2.13v4.25l-7.16,2.13l-7.16,-2.13v-4.25zM515.0,977.0l7.16,2.13v4.25l-7.16,2.13l-7.16,-2.13v-4.25zM543.6,772.7l7.16,2.13v4.25l-7.16,2.13l-7.16,-2.13v-4.25zM572.2,977.0l7.16,2.13v4.25l-7.16,2.13l-7.16,-2.13v-4.25zM586.5,772.7l7.16,2.13v4.25l-7.16,2.13l-7.16,-2.13v-4.25zM629.5,977.0l7.16,2.13v4.25l-7.16,2.13l-7.16,-2.13v-4.25zM658.1,977.0l7.16,2.13v4.25l-7.16,2.13l-7.16,-2.13v-4.25zM672.4,772.7l7.16,2.13v4.25l-7.16,2.13l-7.16,-2.13v-4.25zM672.4,785.5l7.16,2.13v4.25l-7.16,2.13l-7.16,-2.13v-4.25zM686.7,977.0l7.16,2.13v4.25l-7.16,2.13l-7.16,-2.13v-4.25zM701.0,772.7l7.16,2.13v4.25l-7.16,2.13l-7.16,-2.13v-4.25zM715.3,772.7l7.16,2.13v4.25l-7.16,2.13l-7.16,-2.13v-4.25zM715.3,785.5l7.16,2.13v4.25l-7.16,2.13l-7.16,-2.13v-4.25zM729.6,989.7l7.16,2.13v4.25l-7.16,2.13l-7.16,-2.13v-4.25zM744.0,977.0l7.16,2.13v4.25l-7.16,2.13l-7.16,-2.13v-4.25zM758.3,772.7l7.16,2.13v4.25l-7.16,2.13l-7.16,-2.13v-4.25zM772.6,772.7l7.16,2.13v4.25l-7.16,2.13l-7.16,-2.13v-4.25zM772.6,785.5l7.16,2.13v4.25l-7.16,2.13l-7.16,-2.13v-4.25zM772.6,977.0l7.16,2.13v4.25l-7.16,2.13l-7.16,-2.13v-4.25zM801.2,977.0l7.16,2.13v4.25l-7.16,2.13l-7.16,-2.13v-4.25zM92.8,817.4l7.16,2.13v4.25l-7.16,2.13l-7.16,-2.13v-4.25zM107.1,804.6l7.16,2.13v4.25l-7.16,2.13l-7.16,-2.13v-4.25zM107.1,970.6l7.16,2.13v4.25l-7.16,2.13l-7.16,-2.13v-4.25zM121.4,970.6l7.16,2.13v4.25l-7.16,2.13l-7.16,-2.13v-4.25zM135.7,970.6l7.16,2.13v4.25l-7.16,2.13l-7.16,-2.13v-4.25zM192.9,957.8l7.16,2.13v4.25l-7.16,2.13l-7.16,-2.13v-4.25zM221.6,970.6l7.16,2.13v4.25l-7.16,2.13l-7.16,-2.13v-4.25zM235.9,804.6l7.16,2.13v4.25l-7.16,2.13l-7.16,-2.13v-4.25zM264.5,957.8l7.16,2.13v4.25l-7.16,2.13l-7.16,-2.13v-4.25zM264.5,970.6l7.16,2.13v4.25l-7.16,2.13l-7.16,-2.13v-4.25zM307.4,957.8l7.16,2.13v4.25l-7.16,2.13l-7.16,-2.13v-4.25zM307.4,970.6l7.16,2.13v4.25l-7.16,2.13l-7.16,-2.13v-4.25zM321.7,970.6l7.16,2.13v4.25l-7.16,2.13l-7.16,-2.13v-4.25zM321.7,983.3l7.16,2.13v4.25l-7.16,2.13l-7.16,-2.13v-4.25zM336.1,779.1l7.16,2.13v4.25l-7.16,2.13l-7.16,-2.13v-4.25zM350.4,779.1l7.16,2.13v4.25l-7.16,2.13l-7.16,-2.13v-4.25zM350.4,957.8l7.16,2.13v4.25l-7.16,2.13l-7.16,-2.13v-4.25zM379.0,779.1l7.16,2.13v4.25l-7.16,2.13l-7.16,-2.13v-4.25zM379.0,983.3l7.16,2.13v4.25l-7.16,2.13l-7.16,-2.13v-4.25zM421.9,970.6l7.16,2.13v4.25l-7.16,2.13l-7.16,-2.13v-4.25zM450.6,970.6l7.16,2.13v4.25l-7.16,2.13l-7.16,-2.13v-4.25zM464.9,766.3l7.16,2.13v4.25l-7.16,2.13l-7.16,-2.13v-4.25zM479.2,779.1l7.16,2.13v4.25l-7.16,2.13l-7.16,-2.13v-4.25zM479.2,983.3l7.16,2.13v4.25l-7.16,2.13l-7.16,-2.13v-4.25zM507.8,766.3l7.16,2.13v4.25l-7.16,2.13l-7.16,-2.13v-4.25zM522.1,970.6l7.16,2.13v4.25l-7.16,2.13l-7.16,-2.13v-4.25zM579.4,766.3l7.16,2.13v4.25l-7.16,2.13l-7.16,-2.13v-4.25zM608.0,970.6l7.16,2.13v4.25l-7.16,2.13l-7.16,-2.13v-4.25zM622.3,970.6l7.16,2.13v4.25l-7.16,2.13l-7.16,-2.13v-4.25zM636.6,766.3l7.16,2.13v4.25l-7.16,2.13l-7.16,-2.13v-4.25zM693.9,779.1l7.16,2.13v4.25l-7.16,2.13l-7.16,-2.13v-4.25zM708.2,779.1l7.16,2.13v4.25l-7.16,2.13l-7.16,-2.13v-4.25zM736.8,779.1l7.16,2.13v4.25l-7.16,2.13l-7.16,-2.13v-4.25zM736.8,983.3l7.16,2.13v4.25l-7.16,2.13l-7.16,-2.13v-4.25zM794.0,983.3l7.16,2.13v4.25l-7.16,2.13l-7.16,-2.13v-4.25z"/>
<path fill="#35f394" stroke="#35f394" d="M99.9,1028.0l7.16,2.13v4.25l-7.16,2.13l-7.16,-2.13v-4.25zM214.4,734.4l7.16,2.13v4.25l-7.16,2.13l-7.16,-2.13v-4.25zM243.0,734.4l7.16,2.13v4.25l-7.16,2.13l-7.16,-2.13v-4.25zM286.0,1028.0l7.16,2.13v4.25l-7.16,2.13l-7.16,-2.13v-4.25zM300.3,734.4l7.16,2.13v4.25l-7.16,2.13l-7.16,-2.13v-4.25zM300.3,747.2l7.16,2.13v4.25l-7.16,2.13l-7.16,-2.13v-4.25zM328.9,734.4l7.16,2.13v4.25l-7.16,2.13l-7.16,-2.13v-4.25zM328.9,1028.0l7.16,2.13v4.25l-7.16,2.13l-7.16,-2.13v-4.25zM371.8,721.7l7.16,2.13v4.25l-7.16,2.13l-7.16,-2.13v-4.25zM386.2,1028.0l7.16,2.13v4.25l-7.16,2.13l-7.16,-2.13v-4.25zM457.7,721.7l7.16,2.13v4.25l-7.16,2.13l-7.16,-2.13v-4.25zM486.3,734.4l7.16,2.13v4.25l-7.16,2.13l-7.16,-2.13v-4.25zM629.5,721.7l7.16,2.13v4.25l-7.16,2.13l-7.16,-2.13v-4.25zM672.4,1028.0l7.16,2.13v4.25l-7.16,2.13l-7.16,-2.13v-4.25zM715.3,721.7l7.16,2.13v4.25l-7.16,2.13l-7.16,-2.13v-4.25zM772.6,721.7l7.16,2.13v4.25l-7.16,2.13l-7.16,-2.13v-4.25zM107.1,740.8l7.16,2.13v4.25l-7.16,2.13l-7.16,-2.13v-4.25zM107.1,1034.4l7.16,2.13v4.25l-7.16,2.13l-7.16,-2.13v-4.25zM221.6,1034.4l7.16,2.13v4.25l-7.16,2.13l-7.16,-2.13v-4.25zM307.4,740.8l7.16,2.13v4.25l-7.16,2.13l-7.16,-2.13v-4.25zM450.6,728.1l7.16,2.13v4.25l-7.16,2.13l-7.16,-2.13v-4.25zM507.8,1034.4l7.16,2.13v4.25l-7.16,2.13l-7.16,-2.13v-4.25zM622.3,1034.4l7.16,2.13v4.25l-7.16,2.13l-7.16,-2.13v-4.25zM650.9,1034.4l7.16,2.13v4.25l-7.16,2.13l-7.16,-2.13v-4.25z"/>
<path fill="#1ad2d2" stroke="#1ad2d2" d="M99.9,1040.8l7.16,2.13v4.25l-7.16,2.13l-7.16,-2.13v-4.25zM185.8,708.9l7.16,2.13v4.25l-7.16,2.13l-7.16,-2.13v-4.25zM314.6,1040.8l7.16,2.13v4.25l-7.16,2.13l-7.16,-2.13v-4.25zM371.8,1040.8l7.16,2.13v4.25l-7.16,2.13l-7.16,-2.13v-4.25zM414.8,1040.8l7.16,2.13v4.25l-7.16,2.13l-7.16,-2.13v-4.25zM600.8,1040.8l7.16,2.13v4.25l-7.16,2.13l-7.16,-2.13v-4.25zM686.7,708.9l7.16,2.13v4.25l-7.16,2.13l-7.16,-2.13v-4.25zM107.1,728.1l7.16,2.13v4.25l-7.16,2.13l-7.16,-2.13v-4.25zM164.3,728.1l7.16,2.13v4.25l-7.16,2.13l-7.16,-2.13v-4.25zM178.6,702.5l7.16,2.13v4.25l-7.16,2.13l-7.16,-2.13v-4.25zM178.6,728.1l7.16,2.13v4.25l-7.16,2.13l-7.16,-2.13v-4.25zM207.3,715.3l7.16,2.13v4.25l-7.16,2.13l-7.16,-2.13v-4.25zM221.6,715.3l7.16,2.13v4.25l-7.16,2.13l-7.16,-2.13v-4.25zM421.9,702.5l7.16,2.13v4.25l-7.16,2.13l-7.16,-2.13v-4.25z"/>
<path fill="#455ed3" stroke="#455ed3" d="M114.2,696.1l7.16,2.13v4.25l-7.16,2.13l-7.16,-2.13v-4.25zM293.1,702.5l7.16,2.13v4.25l-7.16,2.13l-7.16,-2.13v-4.25z"/>
<path fill="#3aa3fc" stroke="#3aa3fc" d="M114.2,708.9l7.16,2.13v4.25l-7.16,2.13l-7.16,-2.13v-4.25zM114.2,1040.8l7.16,2.13v4.25l-7.16,2.13l-7.16,-2.13v-4.25zM472.0,708.9l7.16,2.13v4.25l-7.16,2.13l-7.16,-2.13v-4.25zM500.6,1040.8l7.16,2.13v4.25l-7.16,2.13l-7.16,-2.13v-4.25zM515.0,708.9l7.16,2.13v4.25l-7.16,2.13l-7.16,-2.13v-4.25zM557.9,708.9l7.16,2.13v4.25l-7.16,2.13l-7.16,-2.13v-4.25zM600.8,708.9l7.16,2.13v4.25l-7.16,2.13l-7.16,-2.13v-4.25zM801.2,708.9l7.16,2.13v4.25l-7.16,2.13l-7.16,-2.13v-4.25zM107.1,715.3l7.16,2.13v4.25l-7.16,2.13l-7.16,-2.13v-4.25zM121.4,1047.2l7.16,2.13v4.25l-7.16,2.13l-7.16,-2.13v-4.25zM135.7,1047.2l7.16,2.13v4.25l-7.16,2.13l-7.16,-2.13v-4.25zM150.0,1047.2l7.16,2.13v4.25l-7.16,2.13l-7.16,-2.13v-4.25zM307.4,1047.2l7.16,2.13v4.25l-7.16,2.13l-7.16,-2.13v-4.25zM350.4,1047.2l7.16,2.13v4.25l-7.16,2.13l-7.16,-2.13v-4.25zM493.5,1047.2l7.16,2.13v4.25l-7.16,2.13l-7.16,-2.13v-4.25zM536.4,1047.2l7.16,2.13v4.25l-7.16,2.13l-7.16,-2.13v-4.25zM665.2,702.5l7.16,2.13v4.25l-7.16,2.13l-7.16,-2.13v-4.25zM679.5,1047.2l7.16,2.13v4.25l-7.16,2.13l-7.16,-2.13v-4.25zM693.9,1047.2l7.16,2.13v4.25l-7.16,2.13l-7.16,-2.13v-4.25z"/>
<path fill="#23c3e4" stroke="#23c3e4" d="M114.2,721.7l7.16,2.13v4.25l-7.16,2.13l-7.16,-2.13v-4.25zM157.2,708.9l7.16,2.13v4.25l-7.16,2.13l-7.16,-2.13v-4.25zM171.5,721.7l7.16,2.13v4.25l-7.16,2.13l-7.16,-2.13v-4.25zM214.4,708.9l7.16,2.13v4.25l-7.16,2.13l-7.16,-2.13v-4.25zM271.7,1040.8l7.16,2.13v4.25l-7.16,2.13l-7.16,-2.13v-4.25zM286.0,1040.8l7.16,2.13v4.25l-7.16,2.13l-7.16,-2.13v-4.25zM429.1,708.9l7.16,2.13v4.25l-7.16,2.13l-7.16,-2.13v-4.25zM457.7,708.9l7.16,2.13v4.25l-7.16,2.13l-7.16,-2.13v-4.25zM472.0,1040.8l7.16,2.13v4.25l-7.16,2.13l-7.16,-2.13v-4.25zM486.3,1040.8l7.16,2.13v4.25l-7.16,2.13l-7.16,-2.13v-4.25zM615.1,1040.8l7.16,2.13v4.25l-7.16,2.13l-7.16,-2.13v-4.25zM786.9,1040.8l7.16,2.13v4.25l-7.16,2.13l-7.16,-2.13v-4.25zM364.7,715.3l7.16,2.13v4.25l-7.16,2.13l-7.16,-2.13v-4.25zM507.8,1047.2l7.16,2.13v4.25l-7.16,2.13l-7.16,-2.13v-4.25zM593.7,1047.2l7.16,2.13v4.25l-7.16,2.13l-7.16,-2.13v-4.25zM794.0,715.3l7.16,2.13v4.25l-7.16,2.13l-7.16,-2.13v-4.25z"/>
<path fill="#27eea4" stroke="#27eea4" d="M114.2,734.4l7.16,2.13v4.25l-7.16,2.13l-7.16,-2.13v-4.25zM142.8,734.4l7.16,2.13v4.25l-7.16,2.13l-7.16,-2.13v-4.25zM171.5,734.4l7.16,2.13v4.25l-7.16,2.13l-7.16,-2.13v-4.25zM228.7,734.4l7.16,2.13v4.25l-7.16,2.13l-7.16,-2.13v-4.25zM257.3,1040.8l7.16,2.13v4.25l-7.16,2.13l-7.16,-2.13v-4.25zM486.3,1028.0l7.16,2.13v4.25l-7.16,2.13l-7.16,-2.13v-4.25zM744.0,721.7l7.16,2.13v4.25l-7.16,2.13l-7.16,-2.13v-4.25zM786.9,721.7l7.16,2.13v4.25l-7.16,2.13l-7.16,-2.13v-4.25zM121.4,740.8l7.16,2.13v4.25l-7.16,2.13l-7.16,-2.13v-4.25zM121.4,1034.4l7.16,2.13v4.25l-7.16,2.13l-7.16,-2.13v-4.25zM135.7,1034.4l7.16,2.13v4.25l-7.16,2.13l-7.16,-2.13v-4.25zM164.3,1034.4l7.16,2.13v4.25l-7.16,2.13l-7.16,-2.13v-4.25zM235.9,728.1l7.16,2.13v4.25l-7.16,2.13l-7.16,-2.13v-4.25zM278.8,1034.4l7.16,2.13v4.25l-7.16,2.13l-7.16,-2.13v-4.25zM321.7,728.1l7.16,2.13v4.25l-7.16,2.13l-7.16,-2.13v-4.25zM336.1,1034.4l7.16,2.13v4.25l-7.16,2.13l-7.16,-2.13v-4.25zM379.0,1034.4l7.16,2.13v4.25l-7.16,2.13l-7.16,-2.13v-4.25zM393.3,728.1l7.16,2.13v4.25l-7.16,2.13l-7.16,-2.13v-4.25zM464.9,1034.4l7.16,2.13v4.25l-7.16,2.13l-7.16,-2.13v-4.25zM550.7,1034.4l7.16,2.13v4.25l-7.16,2.13l-7.16,-2.13v-4.25zM565.1,1034.4l7.16,2.13v4.25l-7.16,2.13l-7.16,-2.13v-4.25zM736.8,728.1l7.16,2.13v4.25l-7.16,2.13l-7.16,-2.13v-4.25zM751.1,1034.4l7.16,2.13v4.25l-7.16,2.13l-7.16,-2.13v-4.25z"/>
<path fill="#75fe5c" stroke="#75fe5c" d="M114.2,760.0l7.16,2.13v4.25l-7.16,2.13l-7.16,-2.13v-4.25zM114.2,772.7l7.16,2.13v4.25l-7.16,2.13l-7.16,-2.13v-4.25zM228.7,760.0l7.16,2.13v4.25l-7.16,2.13l-7.16,-2.13v-4.25zM271.7,760.0l7.16,2.13v4.25l-7.16,2.13l-7.16,-2.13v-4.25zM343.2,747.2l7.16,2.13v4.25l-7.16,2.13l-7.16,-2.13v-4.25zM529.3,734.4l7.16,2.13v4.25l-7.16,2.13l-7.16,-2.13v-4.25zM586.5,734.4l7.16,2.13v4.25l-7.16,2.13l-7.16,-2.13v-4.25zM586.5,1028.0l7.16,2.13v4.25l-7.16,2.13l-7.16,-2.13v-4.25zM672.4,734.4l7.16,2.13v4.25l-7.16,2.13l-7.16,-2.13v-4.25zM686.7,734.4l7.16,2.13v4.25l-7.16,2.13l-7.16,-2.13v-4.25zM729.6,734.4l7.16,2.13v4.25l-7.16,2.13l-7.16,-2.13v-4.25zM744.0,734.4l7.16,2.13v4.25l-7.16,2.13l-7.16,-2.13v-4.25zM121.4,1021.6l7.16,2.13v4.25l-7.16,2.13l-7.16,-2.13v-4.25zM221.6,1021.6l7.16,2.13v4.25l-7.16,2.13l-7.16,-2.13v-4.25zM235.9,766.3l7.16,2.13v4.25l-7.16,2.13l-7.16,-2.13v-4.25zM264.5,753.6l7.16,2.13v4.25l-7.16,2.13l-7.16,-2.13v-4.25zM350.4,740.8l7.16,2.13v4.25l-7.16,2.13l-7.16,-2.13v-4.25zM350.4,1021.6l7.16,2.13v4.25l-7.16,2.13l-7.16,-2.13v-4.25zM379.0,1021.6l7.16,2.13v4.25l-7.16,2.13l-7.16,-2.13v-4.25zM421.9,740.8l7.16,2.13v4.25l-7.16,2.13l-7.16,-2.13v-4.25zM436.2,740.8l7.16,2.13v4.25l-7.16,2.13l-7.16,-2.13v-4.25zM493.5,740.8l7.16,2.13v4.25l-7.16,2.13l-7.16,-2.13v-4.25zM536.4,1021.6l7.16,2.13v4.25l-7.16,2.13l-7.16,-2.13v-4.25zM650.9,1021.6l7.16,2.13v4.25l-7.16,2.13l-7.16,-2.13v-4.25zM765.4,1021.6l7.16,2.13v4.25l-7.16,2.13l-7.16,-2.13v-4.25zM794.0,728.1l7.16,2.13v4.25l-7.16,2.13l-7.16,-2.13v-4.25z"/>
<path fill="#92ff47" stroke="#92ff47" d="M114.2,785.5l7.16,2.13v4.25l-7.16,2.13l-7.16,-2.13v-4.25zM286.0,1015.3l7.16,2.13v4.25l-7.16,2.13l-7.16,-2.13v-4.25zM314.6,760.0l7.16,2.13v4.25l-7.16,2.13l-7.16,-2.13v-4.25zM343.2,1015.3l7.16,2.13v4.25l-7.16,2.13l-7.16,-2.13v-4.25zM429.1,747.2l7.16,2.13v4.25l-7.16,2.13l-7.16,-2.13v-4.25zM429.1,1015.3l7.16,2.13v4.25l-7.16,2.13l-7.16,-2.13v-4.25zM543.6,1015.3l7.16,2.13v4.25l-7.16,2.13l-7.16,-2.13v-4.25zM586.5,747.2l7.16,2.13v4.25l-7.16,2.13l-7.16,-2.13v-4.25zM643.8,1015.3l7.16,2.13v4.25l-7.16,2.13l-7.16,-2.13v-4.25zM658.1,747.2l7.16,2.13v4.25l-7.16,2.13l-7.16,-2.13v-4.25zM715.3,747.2l7.16,2.13v4.25l-7.16,2.13l-7.16,-2.13v-4.25zM729.6,747.2l7.16,2.13v4.25l-7.16,2.13l-7.16,-2.13v-4.25zM207.3,766.3l7.16,2.13v4.25l-7.16,2.13l-7.16,-2.13v-4.25zM235.9,1021.6l7.16,2.13v4.25l-7.16,2.13l-7.16,-2.13v-4.25zM278.8,1021.6l7.16,2.13v4.25l-7.16,2.13l-7.16,-2.13v-4.25zM293.1,753.6l7.16,2.13v4.25l-7.16,2.13l-7.16,-2.13v-4.25zM293.1,766.3l7.16,2.13v4.25l-7.16,2.13l-7.16,-2.13v-4.25zM336.1,1021.6l7.16,2.13v4.25l-7.16,2.13l-7.16,-2.13v-4.25zM350.4,753.6l7.16,2.13v4.25l-7.16,2.13l-7.16,-2.13v-4.25zM364.7,1021.6l7.16,2.13v4.25l-7.16,2.13l-7.16,-2.13v-4.25zM407.6,740.8l7.16,2.13v4.25l-7.16,2.13l-7.16,-2.13v-4.25zM421.9,1021.6l7.16,2.13v4.25l-7.16,2.13l-7.16,-2.13v-4.25zM450.6,1021.6l7.16,2.13v4.25l-7.16,2.13l-7.16,-2.13v-4.25zM464.9,740.8l7.16,2.13v4.25l-7.16,2.13l-7.16,-2.13v-4.25zM479.2,1021.6l7.16,2.13v4.25l-7.16,2.13l-7.16,-2.13v-4.25zM507.8,1021.6l7.16,2.13v4.25l-7.16,2.13l-7.16,-2.13v-4.25zM522.1,740.8l7.16,2.13v4.25l-7.16,2.13l-7.16,-2.13v-4.25zM536.4,740.8l7.16,2.13v4.25l-7.16,2.13l-7.16,-2.13v-4.25zM579.4,1021.6l7.16,2.13v4.25l-7.16,2.13l-7.16,-2.13v-4.25zM622.3,740.8l7.16,2.13v4.25l-7.16,2.13l-7.16,-2.13v-4.25zM665.2,740.8l7.16,2.13v4.25l-7.16,2.13l-7.16,-2.13v-4.25zM693.9,740.8l7.16,2.13v4.25l-7.16,2.13l-7.16,-2.13v-4.25zM751.1,1021.6l7.16,2.13v4.25l-7.16,2.13l-7.16,-2.13v-4.25z"/>
<path fill="#e3db38" stroke="#e3db38" d="M114.2,951.4l7.16,2.13v4.25l-7.16,2.13l-7.16,-2.13v-4.25zM114.2,964.2l7.16,2.13v4.25l-7.16,2.13l-7.16,-2.13v-4.25zM142.8,951.4l7.16,2.13v4.25l-7.16,2.13l-7.16,-2.13v-4.25zM171.5,823.8l7.16,2.13v4.25l-7.16,2.13l-7.16,-2.13v-4.25zM171.5,938.7l7.16,2.13v4.25l-7.16,2.13l-7.16,-2.13v-4.25zM200.1,938.7l7.16,2.13v4.25l-7.16,2.13l-7.16,-2.13v-4.25zM228.7,938.7l7.16,2.13v4.25l-7.16,2.13l-7.16,-2.13v-4.25zM257.3,811.0l7.16,2.13v4.25l-7.16,2.13l-7.16,-2.13v-4.25zM257.3,938.7l7.16,2.13v4.25l-7.16,2.13l-7.16,-2.13v-4.25zM271.7,811.0l7.16,2.13v4.25l-7.16,2.13l-7.16,-2.13v-4.25zM271.7,938.7l7.16,2.13v4.25l-7.16,2.13l-7.16,-2.13v-4.25zM286.0,938.7l7.16,2.13v4.25l-7.16,2.13l-7.16,-2.13v-4.25zM300.3,951.4l7.16,2.13v4.25l-7.16,2.13l-7.16,-2.13v-4.25zM314.6,798.3l7.16,2.13v4.25l-7.16,2.13l-7.16,-2.13v-4.25zM400.5,977.0l7.16,2.13v4.25l-7.16,2.13l-7.16,-2.13v-4.25zM429.1,772.7l7.16,2.13v4.25l-7.16,2.13l-7.16,-2.13v-4.25zM429.1,964.2l7.16,2.13v4.25l-7.16,2.13l-7.16,-2.13v-4.25zM472.0,785.5l7.16,2.13v4.25l-7.16,2.13l-7.16,-2.13v-4.25zM486.3,785.5l7.16,2.13v4.25l-7.16,2.13l-7.16,-2.13v-4.25zM500.6,964.2l7.16,2.13v4.25l-7.16,2.13l-7.16,-2.13v-4.25zM529.3,785.5l7.16,2.13v4.25l-7.16,2.13l-7.16,-2.13v-4.25zM572.2,964.2l7.16,2.13v4.25l-7.16,2.13l-7.16,-2.13v-4.25zM629.5,798.3l7.16,2.13v4.25l-7.16,2.13l-7.16,-2.13v-4.25zM643.8,798.3l7.16,2.13v4.25l-7.16,2.13l-7.16,-2.13v-4.25zM658.1,964.2l7.16,2.13v4.25l-7.16,2.13l-7.16,-2.13v-4.25zM686.7,785.5l7.16,2.13v4.25l-7.16,2.13l-7.16,-2.13v-4.25zM715.3,798.3l7.16,2.13v4.25l-7.16,2.13l-7.16,-2.13v-4.25zM715.3,964.2l7.16,2.13v4.25l-7.16,2.13l-7.16,-2.13v-4.25zM729.6,785.5l7.16,2.13v4.25l-7.16,2.13l-7.16,-2.13v-4.25zM729.6,798.3l7.16,2.13v4.25l-7.16,2.13l-7.16,-2.13v-4.25zM758.3,798.3l7.16,2.13v4.25l-7.16,2.13l-7.16,-2.13v-4.25zM758.3,964.2l7.16,2.13v4.25l-7.16,2.13l-7.16,-2.13v-4.25zM772.6,964.2l7.16,2.13v4.25l-7.16,2.13l-7.16,-2.13v-4.25zM786.9,798.3l7.16,2.13v4.25l-7.16,2.13l-7.16,-2.13v-4.25zM801.2,811.0l7.16,2.13v4.25l-7.16,2.13l-7.16,-2.13v-4.25zM107.1,817.4l7.16,2.13v4.25l-7.16,2.13l-7.16,-2.13v-4.25zM107.1,830.2l7.16,2.13v4.25l-7.16,2.13l-7.16,-2.13v-4.25zM121.4,957.8l7.16,2.13v4.25l-7.16,2.13l-7.16,-2.13v-4.25zM164.3,945.0l7.16,2.13v4.25l-7.16,2.13l-7.16,-2.13v-4.25zM178.6,932.3l7.16,2.13v4.25l-7.16,2.13l-7.16,-2.13v-4.25zM178.6,957.8l7.16,2.13v4.25l-7.16,2.13l-7.16,-2.13v-4.25zM192.9,945.0l7.16,2.13v4.25l-7.16,2.13l-7.16,-2.13v-4.25zM207.3,817.4l7.16,2.13v4.25l-7.16,2.13l-7.16,-2.13v-4.25zM221.6,817.4l7.16,2.13v4.25l-7.16,2.13l-7.16,-2.13v-4.25zM264.5,817.4l7.16,2.13v4.25l-7.16,2.13l-7.16,-2.13v-4.25zM307.4,804.6l7.16,2.13v4.25l-7.16,2.13l-7.16,-2.13v-4.25zM321.7,945.0l7.16,2.13v4.25l-7.16,2.13l-7.16,-2.13v-4.25zM336.1,791.9l7.16,2.13v4.25l-7.16,2.13l-7.16,-2.13v-4.25zM336.1,957.8l7.16,2.13v4.25l-7.16,2.13l-7.16,-2.13v-4.25zM379.0,970.6l7.16,2.13v4.25l-7.16,2.13l-7.16,-2.13v-4.25zM407.6,779.1l7.16,2.13v4.25l-7.16,2.13l-7.16,-2.13v-4.25zM436.2,779.1l7.16,2.13v4.25l-7.16,2.13l-7.16,-2.13v-4.25zM464.9,779.1l7.16,2.13v4.25l-7.16,2.13l-7.16,-2.13v-4.25zM579.4,791.9l7.16,2.13v4.25l-7.16,2.13l-7.16,-2.13v-4.25zM636.6,957.8l7.16,2.13v4.25l-7.16,2.13l-7.16,-2.13v-4.25zM650.9,957.8l7.16,2.13v4.25l-7.16,2.13l-7.16,-2.13v-4.25zM665.2,791.9l7.16,2.13v4.25l-7.16,2.13l-7.16,-2.13v-4.25zM665.2,957.8l7.16,2.13v4.25l-7.16,2.13l-7.16,-2.13v-4.25zM679.5,957.8l7.16,2.13v4.25l-7.16,2.13l-7.16,-2.13v-4.25zM708.2,970.6l7.16,2.13v4.25l-7.16,2.13l-7.16,-2.13v-4.25zM722.5,983.3l7.16,2.13v4.25l-7.16,2.13l-7.16,-2.13v-4.25zM736.8,791.9l7.16,2.13v4.25l-7.16,2.13l-7.16,-2.13v-4.25zM736.8,957.8l7.16,2.13v4.25l-7.16,2.13l-7.16,-2.13v-4.25zM751.1,804.6l7.16,2.13v4.25l-7.16,2.13l-7.16,-2.13v-4.25zM765.4,791.9l7.16,2.13v4.25l-7.16,2.13l-7.16,-2.13v-4.25z"/>
<path fill="#99fe42" stroke="#99fe42" d="M114.2,1015.3l7.16,2.13v4.25l-7.16,2.13l-7.16,-2.13v-4.25zM142.8,772.7l7.16,2.13v4.25l-7.16,2.13l-7.16,-2.13v-4.25zM157.2,772.7l7.16,2.13v4.25l-7.16,2.13l-7.16,-2.13v-4.25zM171.5,785.5l7.16,2.13v4.25l-7.16,2.13l-7.16,-2.13v-4.25zM171.5,1015.3l7.16,2.13v4.25l-7.16,2.13l-7.16,-2.13v-4.25zM185.8,1015.3l7.16,2.13v4.25l-7.16,2.13l-7.16,-2.13v-4.25zM200.1,1002.5l7.16,2.13v4.25l-7.16,2.13l-7.16,-2.13v-4.25zM257.3,760.0l7.16,2.13v4.25l-7.16,2.13l-7.16,-2.13v-4.25zM257.3,772.7l7.16,2.13v4.25l-7.16,2.13l-7.16,-2.13v-4.25zM300.3,1015.3l7.16,2.13v4.25l-7.16,2.13l-7.16,-2.13v-4.25zM328.9,760.0l7.16,2.13v4.25l-7.16,2.13l-7.16,-2.13v-4.25zM443.4,747.2l7.16,2.13v4.25l-7.16,2.13l-7.16,-2.13v-4.25zM457.7,747.2l7.16,2.13v4.25l-7.16,2.13l-7.16,-2.13v-4.25zM486.3,747.2l7.16,2.13v4.25l-7.16,2.13l-7.16,-2.13v-4.25zM515.0,747.2l7.16,2.13v4.25l-7.16,2.13l-7.16,-2.13v-4.25zM572.2,747.2l7.16,2.13v4.25l-7.16,2.13l-7.16,-2.13v-4.25zM586.5,1002.5l7.16,2.13v4.25l-7.16,2.13l-7.16,-2.13v-4.25zM615.1,747.2l7.16,2.13v4.25l-7.16,2.13l-7.16,-2.13v-4.25zM629.5,1002.5l7.16,2.13v4.25l-7.16,2.13l-7.16,-2.13v-4.25zM658.1,1015.3l7.16,2.13v4.25l-7.16,2.13l-7.16,-2.13v-4.25zM672.4,1002.5l7.16,2.13v4.25l-7.16,2.13l-7.16,-2.13v-4.25zM686.7,747.2l7.16,2.13v4.25l-7.16,2.13l-7.16,-2.13v-4.25zM701.0,1015.3l7.16,2.13v4.25l-7.16,2.13l-7.16,-2.13v-4.25zM744.0,747.2l7.16,2.13v4.25l-7.16,2.13l-7.16,-2.13v-4.25zM135.7,779.1l7.16,2.13v4.25l-7.16,2.13l-7.16,-2.13v-4.25zM178.6,766.3l7.16,2.13v4.25l-7.16,2.13l-7.16,-2.13v-4.25zM221.6,1008.9l7.16,2.13v4.25l-7.16,2.13l-7.16,-2.13v-4.25zM450.6,740.8l7.16,2.13v4.25l-7.16,2.13l-7.16,-2.13v-4.25zM464.9,1021.6l7.16,2.13v4.25l-7.16,2.13l-7.16,-2.13v-4.25zM507.8,740.8l7.16,2.13v4.25l-7.16,2.13l-7.16,-2.13v-4.25zM550.7,1021.6l7.16,2.13v4.25l-7.16,2.13l-7.16,-2.13v-4.25zM650.9,996.1l7.16,2.13v4.25l-7.16,2.13l-7.16,-2.13v-4.25zM650.9,1008.9l7.16,2.13v4.25l-7.16,2.13l-7.16,-2.13v-4.25zM722.5,740.8l7.16,2.13v4.25l-7.16,2.13l-7.16,-2.13v-4.25zM722.5,1021.6l7.16,2.13v4.25l-7.16,2.13l-7.16,-2.13v-4.25z"/>
<path fill="#4451bf" stroke="#4451bf" d="M114.2,1053.5l7.16,2.13v4.25l-7.16,2.13l-7.16,-2.13v-4.25zM200.1,1053.5l7.16,2.13v4.25l-7.16,2.13l-7.16,-2.13v-4.25zM271.7,1053.5l7.16,2.13v4.25l-7.16,2.13l-7.16,-2.13v-4.25zM414.8,1053.5l7.16,2.13v4.25l-7.16,2.13l-7.16,-2.13v-4.25zM557.9,1053.5l7.16,2.13v4.25l-7.16,2.13l-7.16,-2.13v-4.25zM586.5,696.1l7.16,2.13v4.25l-7.16,2.13l-7.16,-2.13v-4.25zM629.5,1053.5l7.16,2.13v4.25l-7.16,2.13l-7.16,-2.13v-4.25zM686.7,1053.5l7.16,2.13v4.25l-7.16,2.13l-7.16,-2.13v-4.25zM622.3,1047.2l7.16,2.13v4.25l-7.16,2.13l-7.16,-2.13v-4.25z"/>
<path fill="#3a2d79" stroke="#3a2d79" d="M128.5,696.1l7.16,2.13v4.25l-7.16,2.13l-7.16,-2.13v-4.25zM171.5,1053.5l7.16,2.13v4.25l-7.16,2.13l-7.16,-2.13v-4.25zM214.4,696.1l7.16,2.13v4.25l-7.16,2.13l-7.16,-2.13v-4.25zM286.0,696.1l7.16,2.13v4.25l-7.16,2.13l-7.16,-2.13v-4.25zM300.3,1053.5l7.16,2.13v4.25l-7.16,2.13l-7.16,-2.13v-4.25z"/>
<path fill="#2cb7f0" stroke="#2cb7f0" d="M128.5,708.9l7.16,2.13v4.25l-7.16,2.13l-7.16,-2.13v-4.25zM543.6,708.9l7.16,2.13v4.25l-7.16,2.13l-7.16,-2.13v-4.25zM715.3,708.9l7.16,2.13v4.25l-7.16,2.13l-7.16,-2.13v-4.25zM729.6,708.9l7.16,2.13v4.25l-7.16,2.13l-7.16,-2.13v-4.25zM772.6,1040.8l7.16,2.13v4.25l-7.16,2.13l-7.16,-2.13v-4.25zM192.9,715.3l7.16,2.13v4.25l-7.16,2.13l-7.16,-2.13v-4.25zM293.1,715.3l7.16,2.13v4.25l-7.16,2.13l-7.16,-2.13v-4.25zM321.7,1047.2l7.16,2.13v4.25l-7.16,2.13l-7.16,-2.13v-4.25zM436.2,702.5l7.16,2.13v4.25l-7.16,2.13l-7.16,-2.13v-4.25zM608.0,1047.2l7.16,2.13v4.25l-7.16,2.13l-7.16,-2.13v-4.25zM736.8,1047.2l7.16,2.13v4.25l-7.16,2.13l-7.16,-2.13v-4.25zM751.1,702.5l7.16,2.13v4.25l-7.16,2.13l-7.16,-2.13v-4.25zM765.4,702.5l7.16,2.13v4.25l-7.16,2.13l-7.16,-2.13v-4.25z"/>
<path fill="#18e0bd" stroke="#18e0bd" d="M128.5,721.7l7.16,2.13v4.25l-7.16,2.13l-7.16,-2.13v-4.25zM200.1,734.4l7.16,2.13v4.25l-7.16,2.13l-7.16,-2.13v-4.25zM243.0,1040.8l7.16,2.13v4.25l-7.16,2.13l-7.16,-2.13v-4.25zM271.7,721.7l7.16,2.13v4.25l-7.16,2.13l-7.16,-2.13v-4.25zM515.0,721.7l7.16,2.13v4.25l-7.16,2.13l-7.16,-2.13v-4.25zM543.6,1040.8l7.16,2.13v4.25l-7.16,2.13l-7.16,-2.13v-4.25zM758.3,721.7l7.16,2.13v4.25l-7.16,2.13l-7.16,-2.13v-4.25zM150.0,740.8l7.16,2.13v4.25l-7.16,2.13l-7.16,-2.13v-4.25zM178.6,715.3l7.16,2.13v4.25l-7.16,2.13l-7.16,-2.13v-4.25zM178.6,1034.4l7.16,2.13v4.25l-7.16,2.13l-7.16,-2.13v-4.25zM192.9,1034.4l7.16,2.13v4.25l-7.16,2.13l-7.16,-2.13v-4.25zM264.5,1034.4l7.16,2.13v4.25l-7.16,2.13l-7.16,-2.13v-4.25zM336.1,715.3l7.16,2.13v4.25l-7.16,2.13l-7.16,-2.13v-4.25zM436.2,1034.4l7.16,2.13v4.25l-7.16,2.13l-7.16,-2.13v-4.25zM464.9,715.3l7.16,2.13v4.25l-7.16,2.13l-7.16,-2.13v-4.25zM493.5,715.3l7.16,2.13v4.25l-7.16,2.13l-7.16,-2.13v-4.25zM579.4,1034.4l7.16,2.13v4.25l-7.16,2.13l-7.16,-2.13v-4.25zM608.0,715.3l7.16,2.13v4.25l-7.16,2.13l-7.16,-2.13v-4.25zM608.0,1034.4l7.16,2.13v4.25l-7.16,2.13l-7.16,-2.13v-4.25zM622.3,715.3l7.16,2.13v4.25l-7.16,2.13l-7.16,-2.13v-4.25zM679.5,715.3l7.16,2.13v4.25l-7.16,2.13l-7.16,-2.13v-4.25zM708.2,715.3l7.16,2.13v4.25l-7.16,2.13l-7.16,-2.13v-4.25zM751.1,715.3l7.16,2.13v4.25l-7.16,2.13l-7.16,-2.13v-4.25zM779.7,1034.4l7.16,2.13v4.25l-7.16,2.13l-7.16,-2.13v-4.25z"/>
<path fill="#20eaac" stroke="#20eaac" d="M128.5,734.4l7.16,2.13v4.25l-7.16,2.13l-7.16,-2.13v-4.25zM157.2,721.7l7.16,2.13v4.25l-7.16,2.13l-7.16,-2.13v-4.25zM271.7,734.4l7.16,2.13v4.25l-7.16,2.13l-7.16,-2.13v-4.25zM414.8,721.7l7.16,2.13v4.25l-7.16,2.13l-7.16,-2.13v-4.25zM529.3,721.7l7.16,2.13v4.25l-7.16,2.13l-7.16,-2.13v-4.25zM586.5,721.7l7.16,2.13v4.25l-7.16,2.13l-7.16,-2.13v-4.25zM658.1,721.7l7.16,2.13v4.25l-7.16,2.13l-7.16,-2.13v-4.25zM801.2,721.7l7.16,2.13v4.25l-7.16,2.13l-7.16,-2.13v-4.25zM92.8,728.1l7.16,2.13v4.25l-7.16,2.13l-7.16,-2.13v-4.25zM293.1,1034.4l7.16,2.13v4.25l-7.16,2.13l-7.16,-2.13v-4.25zM350.4,728.1l7.16,2.13v4.25l-7.16,2.13l-7.16,-2.13v-4.25zM364.7,728.1l7.16,2.13v4.25l-7.16,2.13l-7.16,-2.13v-4.25zM364.7,1034.4l7.16,2.13v4.25l-7.16,2.13l-7.16,-2.13v-4.25zM393.3,715.3l7.16,2.13v4.25l-7.16,2.13l-7.16,-2.13v-4.25zM493.5,1034.4l7.16,2.13v4.25l-7.16,2.13l-7.16,-2.13v-4.25zM507.8,715.3l7.16,2.13v4.25l-7.16,2.13l-7.16,-2.13v-4.25zM593.7,1034.4l7.16,2.13v4.25l-7.16,2.13l-7.16,-2.13v-4.25zM679.5,1034.4l7.16,2.13v4.25l-7.16,2.13l-7.16,-2.13v-4.25zM693.9,1034.4l7.16,2.13v4.25l-7.16,2.13l-7.16,-2.13v-4.25zM736.8,1034.4l7.16,2.13v4.25l-7.16,2.13l-7.16,-2.13v-4.25zM794.0,1034.4l7.16,2.13v4.25l-7.16,2.13l-7.16,-2.13v-4.25z"/>
<path fill="#fcb136" stroke="#fcb136" d="M128.5,849.3l7.16,2.13v4.25l-7.16,2.13l-7.16,-2.13v-4.25zM142.8,862.1l7.16,2.13v4.25l-7.16,2.13l-7.16,-2.13v-4.25zM200.1,849.3l7.16,2.13v4.25l-7.16,2.13l-7.16,-2.13v-4.25zM243.0,862.1l7.16,2.13v4.25l-7.16,2.13l-7.16,-2.13v-4.25zM257.3,849.3l7.16,2.13v4.25l-7.16,2.13l-7.16,-2.13v-4.25zM271.7,900.4l7.16,2.13v4.25l-7.16,2.13l-7.16,-2.13v-4.25zM300.3,887.6l7.16,2.13v4.25l-7.16,2.13l-7.16,-2.13v-4.25zM328.9,849.3l7.16,2.13v4.25l-7.16,2.13l-7.16,-2.13v-4.25zM343.2,836.6l7.16,2.13v4.25l-7.16,2.13l-7.16,-2.13v-4.25zM343.2,887.6l7.16,2.13v4.25l-7.16,2.13l-7.16,-2.13v-4.25zM357.5,913.1l7.16,2.13v4.25l-7.16,2.13l-7.16,-2.13v-4.25zM371.8,913.1l7.16,2.13v4.25l-7.16,2.13l-7.16,-2.13v-4.25zM386.2,823.8l7.16,2.13v4.25l-7.16,2.13l-7.16,-2.13v-4.25zM386.2,913.1l7.16,2.13v4.25l-7.16,2.13l-7.16,-2.13v-4.25zM400.5,811.0l7.16,2.13v4.25l-7.16,2.13l-7.16,-2.13v-4.25zM429.1,925.9l7.16,2.13v4.25l-7.16,2.13l-7.16,-2.13v-4.25zM443.4,811.0l7.16,2.13v4.25l-7.16,2.13l-7.16,-2.13v-4.25zM457.7,811.0l7.16,2.13v4.25l-7.16,2.13l-7.16,-2.13v-4.25zM500.6,823.8l7.16,2.13v4.25l-7.16,2.13l-7.16,-2.13v-4.25zM515.0,938.7l7.16,2.13v4.25l-7.16,2.13l-7.16,-2.13v-4.25zM529.3,938.7l7.16,2.13v4.25l-7.16,2.13l-7.16,-2.13v-4.25zM600.8,938.7l7.16,2.13v4.25l-7.16,2.13l-7.16,-2.13v-4.25zM615.1,823.8l7.16,2.13v4.25l-7.16,2.13l-7.16,-2.13v-4.25zM658.1,925.9l7.16,2.13v4.25l-7.16,2.13l-7.16,-2.13v-4.25zM686.7,836.6l7.16,2.13v4.25l-7.16,2.13l-7.16,-2.13v-4.25zM701.0,913.1l7.16,2.13v4.25l-7.16,2.13l-7.16,-2.13v-4.25zM715.3,836.6l7.16,2.13v4.25l-7.16,2.13l-7.16,-2.13v-4.25zM715.3,900.4l7.16,2.13v4.25l-7.16,2.13l-7.16,-2.13v-4.25zM715.3,913.1l7.16,2.13v4.25l-7.16,2.13l-7.16,-2.13v-4.25zM729.6,874.8l7.16,2.13v4.25l-7.16,2.13l-7.16,-2.13v-4.25zM744.0,874.8l7.16,2.13v4.25l-7.16,2.13l-7.16,-2.13v-4.25zM744.0,887.6l7.16,2.13v4.25l-7.16,2.13l-7.16,-2.13v-4.25zM758.3,849.3l7.16,2.13v4.25l-7.16,2.13l-7.16,-2.13v-4.25zM758.3,862.1l7.16,2.13v4.25l-7.16,2.13l-7.16,-2.13v-4.25zM92.8,894.0l7.16,2.13v4.25l-7.16,2.13l-7.16,-2.13v-4.25zM164.3,842.9l7.16,2.13v4.25l-7.16,2.13l-7.16,-2.13v-4.25zM164.3,881.2l7.16,2.13v4.25l-7.16,2.13l-7.16,-2.13v-4.25zM178.6,881.2l7.16,2.13v4.25l-7.16,2.13l-7.16,-2.13v-4.25zM207.3,855.7l7.16,2.13v4.25l-7.16,2.13l-7.16,-2.13v-4.25zM221.6,855.7l7.16,2.13v4.25l-7.16,2.13l-7.16,-2.13v-4.25zM221.6,906.8l7.16,2.13v4.25l-7.16,2.13l-7.16,-2.13v-4.25zM278.8,894.0l7.16,2.13v4.25l-7.16,2.13l-7.16,-2.13v-4.25zM293.1,894.0l7.16,2.13v4.25l-7.16,2.13l-7.16,-2.13v-4.25zM307.4,881.2l7.16,2.13v4.25l-7.16,2.13l-7.16,-2.13v-4.25zM307.4,894.0l7.16,2.13v4.25l-7.16,2.13l-7.16,-2.13v-4.25zM321.7,868.5l7.16,2.13v4.25l-7.16,2.13l-7.16,-2.13v-4.25zM336.1,855.7l7.16,2.13v4.25l-7.16,2.13l-7.16,-2.13v-4.25zM336.1,881.2l7.16,2.13v4.25l-7.16,2.13l-7.16,-2.13v-4.25zM350.4,894.0l7.16,2.13v4.25l-7.16,2.13l-7.16,-2.13v-4.25zM350.4,906.8l7.16,2.13v4.25l-7.16,2.13l-7.16,-2.13v-4.25zM364.7,906.8l7.16,2.13v4.25l-7.16,2.13l-7.16,-2.13v-4.25zM379.0,817.4l7.16,2.13v4.25l-7.16,2.13l-7.16,-2.13v-4.25zM379.0,830.2l7.16,2.13v4.25l-7.16,2.13l-7.16,-2.13v-4.25zM407.6,804.6l7.16,2.13v4.25l-7.16,2.13l-7.16,-2.13v-4.25zM407.6,817.4l7.16,2.13v4.25l-7.16,2.13l-7.16,-2.13v-4.25zM421.9,817.4l7.16,2.13v4.25l-7.16,2.13l-7.16,-2.13v-4.25zM421.9,932.3l7.16,2.13v4.25l-7.16,2.13l-7.16,-2.13v-4.25zM436.2,932.3l7.16,2.13v4.25l-7.16,2.13l-7.16,-2.13v-4.25zM450.6,817.4l7.16,2.13v4.25l-7.16,2.13l-7.16,-2.13v-4.25zM464.9,817.4l7.16,2.13v4.25l-7.16,2.13l-7.16,-2.13v-4.25zM464.9,932.3l7.16,2.13v4.25l-7.16,2.13l-7.16,-2.13v-4.25zM522.1,945.0l7.16,2.13v4.25l-7.16,2.13l-7.16,-2.13v-4.25zM550.7,817.4l7.16,2.13v4.25l-7.16,2.13l-7.16,-2.13v-4.25zM593.7,817.4l7.16,2.13v4.25l-7.16,2.13l-7.16,-2.13v-4.25zM608.0,932.3l7.16,2.13v4.25l-7.16,2.13l-7.16,-2.13v-4.25zM679.5,919.5l7.16,2.13v4.25l-7.16,2.13l-7.16,-2.13v-4.25zM693.9,842.9l7.16,2.13v4.25l-7.16,2.13l-7.16,-2.13v-4.25zM693.9,919.5l7.16,2.13v4.25l-7.16,2.13l-7.16,-2.13v-4.25zM708.2,842.9l7.16,2.13v4.25l-7.16,2.13l-7.16,-2.13v-4.25zM722.5,855.7l7.16,2.13v4.25l-7.16,2.13l-7.16,-2.13v-4.25zM722.5,894.0l7.16,2.13v4.25l-7.16,2.13l-7.16,-2.13v-4.25zM722.5,906.8l7.16,2.13v4.25l-7.16,2.13l-7.16,-2.13v-4.25zM736.8,855.7l7.16,2.13v4.25l-7.16,2.13l-7.16,-2.13v-4.25zM736.8,906.8l7.16,2.13v4.25l-7.16,2.13l-7.16,-2.13v-4.25zM751.1,842.9l7.16,2.13v4.25l-7.16,2.13l-7.16,-2.13v-4.25zM751.1,868.5l7.16,2.13v4.25l-7.16,2.13l-7.16,-2.13v-4.25zM751.1,881.2l7.16,2.13v4.25l-7.16,2.13l-7.16,-2.13v-4.25zM765.4,830.2l7.16,2.13v4.25l-7.16,2.13l-7.16,-2.13v-4.25zM765.4,842.9l7.16,2.13v4.25l-7.16,2.13l-7.16,-2.13v-4.25zM765.4,881.2l7.16,2.13v4.25l-7.16,2.13l-7.16,-2.13v-4.25z"/>
<path fill="#cdec34" stroke="#cdec34" d="M128.5,977.0l7.16,2.13v4.25l-7.16,2.13l-7.16,-2.13v-4.25zM142.8,977.0l7.16,2.13v4.25l-7.16,2.13l-7.16,-2.13v-4.25zM171.5,811.0l7.16,2.13v4.25l-7.16,2.13l-7.16,-2.13v-4.25zM171.5,977.0l7.16,2.13v4.25l-7.16,2.13l-7.16,-2.13v-4.25zM185.8,977.0l7.16,2.13v4.25l-7.16,2.13l-7.16,-2.13v-4.25zM200.1,798.3l7.16,2.13v4.25l-7.16,2.13l-7.16,-2.13v-4.25zM200.1,964.2l7.16,2.13v4.25l-7.16,2.13l-7.16,-2.13v-4.25zM214.4,977.0l7.16,2.13v4.25l-7.16,2.13l-7.16,-2.13v-4.25zM228.7,964.2l7.16,2.13v4.25l-7.16,2.13l-7.16,-2.13v-4.25zM228.7,977.0l7.16,2.13v4.25l-7.16,2.13l-7.16,-2.13v-4.25zM243.0,798.3l7.16,2.13v4.25l-7.16,2.13l-7.16,-2.13v-4.25zM271.7,1002.5l7.16,2.13v4.25l-7.16,2.13l-7.16,-2.13v-4.25zM286.0,964.2l7.16,2.13v4.25l-7.16,2.13l-7.16,-2.13v-4.25zM300.3,964.2l7.16,2.13v4.25l-7.16,2.13l-7.16,-2.13v-4.25zM314.6,977.0l7.16,2.13v4.25l-7.16,2.13l-7.16,-2.13v-4.25zM343.2,977.0l7.16,2.13v4.25l-7.16,2.13l-7.16,-2.13v-4.25zM357.5,772.7l7.16,2.13v4.25l-7.16,2.13l-7.16,-2.13v-4.25zM357.5,964.2l7.16,2.13v4.25l-7.16,2.13l-7.16,-2.13v-4.25zM386.2,772.7l7.16,2.13v4.25l-7.16,2.13l-7.16,-2.13v-4.25zM443.4,977.0l7.16,2.13v4.25l-7.16,2.13l-7.16,-2.13v-4.25zM443.4,989.7l7.16,2.13v4.25l-7.16,2.13l-7.16,-2.13v-4.25zM486.3,977.0l7.16,2.13v4.25l-7.16,2.13l-7.16,-2.13v-4.25zM500.6,760.0l7.16,2.13v4.25l-7.16,2.13l-7.16,-2.13v-4.25zM515.0,772.7l7.16,2.13v4.25l-7.16,2.13l-7.16,-2.13v-4.25zM529.3,760.0l7.16,2.13v4.25l-7.16,2.13l-7.16,-2.13v-4.25zM529.3,977.0l7.16,2.13v4.25l-7.16,2.13l-7.16,-2.13v-4.25zM543.6,977.0l7.16,2.13v4.25l-7.16,2.13l-7.16,-2.13v-4.25zM572.2,772.7l7.16,2.13v4.25l-7.16,2.13l-7.16,-2.13v-4.25zM586.5,977.0l7.16,2.13v4.25l-7.16,2.13l-7.16,-2.13v-4.25zM600.8,760.0l7.16,2.13v4.25l-7.16,2.13l-7.16,-2.13v-4.25zM600.8,977.0l7.16,2.13v4.25l-7.16,2.13l-7.16,-2.13v-4.25zM615.1,977.0l7.16,2.13v4.25l-7.16,2.13l-7.16,-2.13v-4.25zM629.5,964.2l7.16,2.13v4.25l-7.16,2.13l-7.16,-2.13v-4.25zM643.8,772.7l7.16,2.13v4.25l-7.16,2.13l-7.16,-2.13v-4.25zM643.8,977.0l7.16,2.13v4.25l-7.16,2.13l-7.16,-2.13v-4.25zM658.1,772.7l7.16,2.13v4.25l-7.16,2.13l-7.16,-2.13v-4.25zM658.1,989.7l7.16,2.13v4.25l-7.16,2.13l-7.16,-2.13v-4.25zM672.4,977.0l7.16,2.13v4.25l-7.16,2.13l-7.16,-2.13v-4.25zM686.7,772.7l7.16,2.13v4.25l-7.16,2.13l-7.16,-2.13v-4.25zM701.0,977.0l7.16,2.13v4.25l-7.16,2.13l-7.16,-2.13v-4.25zM715.3,989.7l7.16,2.13v4.25l-7.16,2.13l-7.16,-2.13v-4.25zM729.6,772.7l7.16,2.13v4.25l-7.16,2.13l-7.16,-2.13v-4.25zM729.6,977.0l7.16,2.13v4.25l-7.16,2.13l-7.16,-2.13v-4.25zM758.3,785.5l7.16,2.13v4.25l-7.16,2.13l-7.16,-2.13v-4.25zM758.3,977.0l7.16,2.13v4.25l-7.16,2.13l-7.16,-2.13v-4.25zM786.9,772.7l7.16,2.13v4.25l-7.16,2.13l-7.16,-2.13v-4.25zM121.4,983.3l7.16,2.13v4.25l-7.16,2.13l-7.16,-2.13v-4.25zM135.7,804.6l7.16,2.13v4.25l-7.16,2.13l-7.16,-2.13v-4.25zM150.0,804.6l7.16,2.13v4.25l-7.16,2.13l-7.16,-2.13v-4.25zM150.0,970.6l7.16,2.13v4.25l-7.16,2.13l-7.16,-2.13v-4.25zM164.3,970.6l7.16,2.13v4.25l-7.16,2.13l-7.16,-2.13v-4.25zM192.9,804.6l7.16,2.13v4.25l-7.16,2.13l-7.16,-2.13v-4.25zM207.3,804.6l7.16,2.13v4.25l-7.16,2.13l-7.16,-2.13v-4.25zM207.3,957.8l7.16,2.13v4.25l-7.16,2.13l-7.16,-2.13v-4.25zM207.3,970.6l7.16,2.13v4.25l-7.16,2.13l-7.16,-2.13v-4.25zM221.6,804.6l7.16,2.13v4.25l-7.16,2.13l-7.16,-2.13v-4.25zM250.2,804.6l7.16,2.13v4.25l-7.16,2.13l-7.16,-2.13v-4.25zM250.2,970.6l7.16,2.13v4.25l-7.16,2.13l-7.16,-2.13v-4.25zM278.8,791.9l7.16,2.13v4.25l-7.16,2.13l-7.16,-2.13v-4.25zM278.8,970.6l7.16,2.13v4.25l-7.16,2.13l-7.16,-2.13v-4.25zM278.8,983.3l7.16,2.13v4.25l-7.16,2.13l-7.16,-2.13v-4.25zM321.7,996.1l7.16,2.13v4.25l-7.16,2.13l-7.16,-2.13v-4.25zM393.3,983.3l7.16,2.13v4.25l-7.16,2.13l-7.16,-2.13v-4.25zM436.2,766.3l7.16,2.13v4.25l-7.16,2.13l-7.16,-2.13v-4.25zM450.6,766.3l7.16,2.13v4.25l-7.16,2.13l-7.16,-2.13v-4.25zM450.6,983.3l7.16,2.13v4.25l-7.16,2.13l-7.16,-2.13v-4.25zM493.5,983.3l7.16,2.13v4.25l-7.16,2.13l-7.16,-2.13v-4.25zM507.8,983.3l7.16,2.13v4.25l-7.16,2.13l-7.16,-2.13v-4.25zM522.1,983.3l7.16,2.13v4.25l-7.16,2.13l-7.16,-2.13v-4.25zM550.7,779.1l7.16,2.13v4.25l-7.16,2.13l-7.16,-2.13v-4.25zM565.1,766.3l7.16,2.13v4.25l-7.16,2.13l-7.16,-2.13v-4.25zM593.7,779.1l7.16,2.13v4.25l-7.16,2.13l-7.16,-2.13v-4.25zM593.7,983.3l7.16,2.13v4.25l-7.16,2.13l-7.16,-2.13v-4.25zM636.6,779.1l7.16,2.13v4.25l-7.16,2.13l-7.16,-2.13v-4.25zM636.6,970.6l7.16,2.13v4.25l-7.16,2.13l-7.16,-2.13v-4.25zM679.5,779.1l7.16,2.13v4.25l-7.16,2.13l-7.16,-2.13v-4.25zM708.2,766.3l7.16,2.13v4.25l-7.16,2.13l-7.16,-2.13v-4.25zM708.2,983.3l7.16,2.13v4.25l-7.16,2.13l-7.16,-2.13v-4.25zM736.8,996.1l7.16,2.13v4.25l-7.16,2.13l-7.16,-2.13v-4.25zM765.4,983.3l7.16,2.13v4.25l-7.16,2.13l-7.16,-2.13v-4.25zM794.0,766.3l7.16,2.13v4.25l-7.16,2.13l-7.16,-2.13v-4.25zM794.0,779.1l7.16,2.13v4.25l-7.16,2.13l-7.16,-2.13v-4.25zM794.0,791.9l7.16,2.13v4.25l-7.16,2.13l-7.16,-2.13v-4.25z"/>
<path fill="#4ef97d" stroke="#4ef97d" d="M128.5,1028.0l7.16,2.13v4.25l-7.16,2.13l-7.16,-2.13v-4.25zM185.8,760.0l7.16,2.13v4.25l-7.16,2.13l-7.16,-2.13v-4.25zM185.8,1028.0l7.16,2.13v4.25l-7.16,2.13l-7.16,-2.13v-4.25zM214.4,747.2l7.16,2.13v4.25l-7.16,2.13l-7.16,-2.13v-4.25zM257.3,1028.0l7.16,2.13v4.25l-7.16,2.13l-7.16,-2.13v-4.25zM300.3,1028.0l7.16,2.13v4.25l-7.16,2.13l-7.16,-2.13v-4.25zM314.6,1028.0l7.16,2.13v4.25l-7.16,2.13l-7.16,-2.13v-4.25zM328.9,747.2l7.16,2.13v4.25l-7.16,2.13l-7.16,-2.13v-4.25zM357.5,1028.0l7.16,2.13v4.25l-7.16,2.13l-7.16,-2.13v-4.25zM414.8,1028.0l7.16,2.13v4.25l-7.16,2.13l-7.16,-2.13v-4.25zM457.7,734.4l7.16,2.13v4.25l-7.16,2.13l-7.16,-2.13v-4.25zM486.3,721.7l7.16,2.13v4.25l-7.16,2.13l-7.16,-2.13v-4.25zM500.6,1028.0l7.16,2.13v4.25l-7.16,2.13l-7.16,-2.13v-4.25zM529.3,1028.0l7.16,2.13v4.25l-7.16,2.13l-7.16,-2.13v-4.25zM786.9,734.4l7.16,2.13v4.25l-7.16,2.13l-7.16,-2.13v-4.25zM786.9,1028.0l7.16,2.13v4.25l-7.16,2.13l-7.16,-2.13v-4.25zM221.6,740.8l7.16,2.13v4.25l-7.16,2.13l-7.16,-2.13v-4.25zM235.9,740.8l7.16,2.13v4.25l-7.16,2.13l-7.16,-2.13v-4.25zM379.0,740.8l7.16,2.13v4.25l-7.16,2.13l-7.16,-2.13v-4.25zM436.2,728.1l7.16,2.13v4.25l-7.16,2.13l-7.16,-2.13v-4.25zM565.1,728.1l7.16,2.13v4.25l-7.16,2.13l-7.16,-2.13v-4.25zM622.3,728.1l7.16,2.13v4.25l-7.16,2.13l-7.16,-2.13v-4.25zM636.6,1034.4l7.16,2.13v4.25l-7.16,2.13l-7.16,-2.13v-4.25zM650.9,728.1l7.16,2.13v4.25l-7.16,2.13l-7.16,-2.13v-4.25zM665.2,728.1l7.16,2.13v4.25l-7.16,2.13l-7.16,-2.13v-4.25z"/>
<path fill="#1ccdd8" stroke="#1ccdd8" d="M128.5,1040.8l7.16,2.13v4.25l-7.16,2.13l-7.16,-2.13v-4.25zM142.8,1040.8l7.16,2.13v4.25l-7.16,2.13l-7.16,-2.13v-4.25zM171.5,708.9l7.16,2.13v4.25l-7.16,2.13l-7.16,-2.13v-4.25zM257.3,721.7l7.16,2.13v4.25l-7.16,2.13l-7.16,-2.13v-4.25zM286.0,721.7l7.16,2.13v4.25l-7.16,2.13l-7.16,-2.13v-4.25zM343.2,1040.8l7.16,2.13v4.25l-7.16,2.13l-7.16,-2.13v-4.25zM457.7,1040.8l7.16,2.13v4.25l-7.16,2.13l-7.16,-2.13v-4.25zM515.0,1040.8l7.16,2.13v4.25l-7.16,2.13l-7.16,-2.13v-4.25zM529.3,1040.8l7.16,2.13v4.25l-7.16,2.13l-7.16,-2.13v-4.25zM557.9,1040.8l7.16,2.13v4.25l-7.16,2.13l-7.16,-2.13v-4.25zM164.3,715.3l7.16,2.13v4.25l-7.16,2.13l-7.16,-2.13v-4.25zM407.6,715.3l7.16,2.13v4.25l-7.16,2.13l-7.16,-2.13v-4.25zM450.6,715.3l7.16,2.13v4.25l-7.16,2.13l-7.16,-2.13v-4.25zM550.7,715.3l7.16,2.13v4.25l-7.16,2.13l-7.16,-2.13v-4.25zM579.4,1047.2l7.16,2.13v4.25l-7.16,2.13l-7.16,-2.13v-4.25z"/>
<path fill="#38276d" stroke="#38276d" d="M128.5,1053.5l7.16,2.13v4.25l-7.16,2.13l-7.16,-2.13v-4.25zM228.7,1053.5l7.16,2.13v4.25l-7.16,2.13l-7.16,-2.13v-4.25zM286.0,1053.5l7.16,2.13v4.25l-7.16,2.13l-7.16,-2.13v-4.25zM314.6,1053.5l7.16,2.13v4.25l-7.16,2.13l-7.16,-2.13v-4.25zM343.2,1053.5l7.16,2.13v4.25l-7.16,2.13l-7.16,-2.13v-4.25zM429.1,1053.5l7.16,2.13v4.25l-7.16,2.13l-7.16,-2.13v-4.25zM715.3,1053.5l7.16,2.13v4.25l-7.16,2.13l-7.16,-2.13v-4.25zM758.3,696.1l7.16,2.13v4.25l-7.16,2.13l-7.16,-2.13v-4.25zM786.9,1053.5l7.16,2.13v4.25l-7.16,2.13l-7.16,-2.13v-4.25zM779.7,702.5l7.16,2.13v4.25l-7.16,2.13l-7.16,-2.13v-4.25z"/>
<path fill="#31aff5" stroke="#31aff5" d="M142.8,708.9l7.16,2.13v4.25l-7.16,2.13l-7.16,-2.13v-4.25zM228.7,708.9l7.16,2.13v4.25l-7.16,2.13l-7.16,-2.13v-4.25zM271.7,708.9l7.16,2.13v4.25l-7.16,2.13l-7.16,-2.13v-4.25zM300.3,708.9l7.16,2.13v4.25l-7.16,2.13l-7.16,-2.13v-4.25zM357.5,708.9l7.16,2.13v4.25l-7.16,2.13l-7.16,-2.13v-4.25zM371.8,708.9l7.16,2.13v4.25l-7.16,2.13l-7.16,-2.13v-4.25zM414.8,708.9l7.16,2.13v4.25l-7.16,2.13l-7.16,-2.13v-4.25zM443.4,708.9l7.16,2.13v4.25l-7.16,2.13l-7.16,-2.13v-4.25zM443.4,1040.8l7.16,2.13v4.25l-7.16,2.13l-7.16,-2.13v-4.25zM586.5,708.9l7.16,2.13v4.25l-7.16,2.13l-7.16,-2.13v-4.25zM615.1,708.9l7.16,2.13v4.25l-7.16,2.13l-7.16,-2.13v-4.25zM715.3,1040.8l7.16,2.13v4.25l-7.16,2.13l-7.16,-2.13v-4.25zM758.3,1040.8l7.16,2.13v4.25l-7.16,2.13l-7.16,-2.13v-4.25zM107.1,1047.2l7.16,2.13v4.25l-7.16,2.13l-7.16,-2.13v-4.25zM121.4,715.3l7.16,2.13v4.25l-7.16,2.13l-7.16,-2.13v-4.25zM178.6,1047.2l7.16,2.13v4.25l-7.16,2.13l-7.16,-2.13v-4.25zM250.2,715.3l7.16,2.13v4.25l-7.16,2.13l-7.16,-2.13v-4.25zM250.2,1047.2l7.16,2.13v4.25l-7.16,2.13l-7.16,-2.13v-4.25zM278.8,1047.2l7.16,2.13v4.25l-7.16,2.13l-7.16,-2.13v-4.25zM293.1,1047.2l7.16,2.13v4.25l-7.16,2.13l-7.16,-2.13v-4.25zM350.4,715.3l7.16,2.13v4.25l-7.16,2.13l-7.16,-2.13v-4.25zM407.6,1047.2l7.16,2.13v4.25l-7.16,2.13l-7.16,-2.13v-4.25zM608.0,702.5l7.16,2.13v4.25l-7.16,2.13l-7.16,-2.13v-4.25zM751.1,1047.2l7.16,2.13v4.25l-7.16,2.13l-7.16,-2.13v-4.25z"/>
<path fill="#18d7ca" stroke="#18d7ca" d="M142.8,721.7l7.16,2.13v4.25l-7.16,2.13l-7.16,-2.13v-4.25zM185.8,721.7l7.16,2.13v4.25l-7.16,2.13l-7.16,-2.13v-4.25zM185.8,734.4l7.16,2.13v4.25l-7.16,2.13l-7.16,-2.13v-4.25zM200.1,721.7l7.16,2.13v4.25l-7.16,2.13l-7.16,-2.13v-4.25zM228.7,721.7l7.16,2.13v4.25l-7.16,2.13l-7.16,-2.13v-4.25zM257.3,734.4l7.16,2.13v4.25l-7.16,2.13l-7.16,-2.13v-4.25zM300.3,721.7l7.16,2.13v4.25l-7.16,2.13l-7.16,-2.13v-4.25zM328.9,708.9l7.16,2.13v4.25l-7.16,2.13l-7.16,-2.13v-4.25zM500.6,708.9l7.16,2.13v4.25l-7.16,2.13l-7.16,-2.13v-4.25zM586.5,1040.8l7.16,2.13v4.25l-7.16,2.13l-7.16,-2.13v-4.25zM672.4,1040.8l7.16,2.13v4.25l-7.16,2.13l-7.16,-2.13v-4.25zM121.4,728.1l7.16,2.13v4.25l-7.16,2.13l-7.16,-2.13v-4.25zM264.5,715.3l7.16,2.13v4.25l-7.16,2.13l-7.16,-2.13v-4.25zM264.5,728.1l7.16,2.13v4.25l-7.16,2.13l-7.16,-2.13v-4.25zM450.6,1034.4l7.16,2.13v4.25l-7.16,2.13l-7.16,-2.13v-4.25zM579.4,715.3l7.16,2.13v4.25l-7.16,2.13l-7.16,-2.13v-4.25zM650.9,715.3l7.16,2.13v4.25l-7.16,2.13l-7.16,-2.13v-4.25zM693.9,715.3l7.16,2.13v4.25l-7.16,2.13l-7.16,-2.13v-4.25zM736.8,715.3l7.16,2.13v4.25l-7.16,2.13l-7.16,-2.13v-4.25z"/>
<path fill="#fe962b" stroke="#fe962b" d="M142.8,849.3l7.16,2.13v4.25l-7.16,2.13l-7.16,-2.13v-4.25zM171.5,849.3l7.16,2.13v4.25l-7.16,2.13l-7.16,-2.13v-4.25zM171.5,862.1l7.16,2.13v4.25l-7.16,2.13l-7.16,-2.13v-4.25zM185.8,874.8l7.16,2.13v4.25l-7.16,2.13l-7.16,-2.13v-4.25zM257.3,874.8l7.16,2.13v4.25l-7.16,2.13l-7.16,-2.13v-4.25zM257.3,887.6l7.16,2.13v4.25l-7.16,2.13l-7.16,-2.13v-4.25zM300.3,874.8l7.16,2.13v4.25l-7.16,2.13l-7.16,-2.13v-4.25zM386.2,874.8l7.16,2.13v4.25l-7.16,2.13l-7.16,-2.13v-4.25zM400.5,862.1l7.16,2.13v4.25l-7.16,2.13l-7.16,-2.13v-4.25zM400.5,887.6l7.16,2.13v4.25l-7.16,2.13l-7.16,-2.13v-4.25zM414.8,887.6l7.16,2.13v4.25l-7.16,2.13l-7.16,-2.13v-4.25zM429.1,849.3l7.16,2.13v4.25l-7.16,2.13l-7.16,-2.13v-4.25zM429.1,900.4l7.16,2.13v4.25l-7.16,2.13l-7.16,-2.13v-4.25zM457.7,913.1l7.16,2.13v4.25l-7.16,2.13l-7.16,-2.13v-4.25zM486.3,836.6l7.16,2.13v4.25l-7.16,2.13l-7.16,-2.13v-4.25zM500.6,925.9l7.16,2.13v4.25l-7.16,2.13l-7.16,-2.13v-4.25zM529.3,823.8l7.16,2.13v4.25l-7.16,2.13l-7.16,-2.13v-4.25zM529.3,836.6l7.16,2.13v4.25l-7.16,2.13l-7.16,-2.13v-4.25zM543.6,925.9l7.16,2.13v4.25l-7.16,2.13l-7.16,-2.13v-4.25zM572.2,925.9l7.16,2.13v4.25l-7.16,2.13l-7.16,-2.13v-4.25zM586.5,925.9l7.16,2.13v4.25l-7.16,2.13l-7.16,-2.13v-4.25zM658.1,849.3l7.16,2.13v4.25l-7.16,2.13l-7.16,-2.13v-4.25zM672.4,913.1l7.16,2.13v4.25l-7.16,2.13l-7.16,-2.13v-4.25zM686.7,874.8l7.16,2.13v4.25l-7.16,2.13l-7.16,-2.13v-4.25zM150.0,855.7l7.16,2.13v4.25l-7.16,2.13l-7.16,-2.13v-4.25zM164.3,855.7l7.16,2.13v4.25l-7.16,2.13l-7.16,-2.13v-4.25zM178.6,868.5l7.16,2.13v4.25l-7.16,2.13l-7.16,-2.13v-4.25zM192.9,855.7l7.16,2.13v4.25l-7.16,2.13l-7.16,-2.13v-4.25zM192.9,881.2l7.16,2.13v4.25l-7.16,2.13l-7.16,-2.13v-4.25zM207.3,881.2l7.16,2.13v4.25l-7.16,2.13l-7.16,-2.13v-4.25zM221.6,894.0l7.16,2.13v4.25l-7.16,2.13l-7.16,-2.13v-4.25zM250.2,881.2l7.16,2.13v4.25l-7.16,2.13l-7.16,-2.13v-4.25zM264.5,881.2l7.16,2.13v4.25l-7.16,2.13l-7.16,-2.13v-4.25zM278.8,881.2l7.16,2.13v4.25l-7.16,2.13l-7.16,-2.13v-4.25zM293.1,881.2l7.16,2.13v4.25l-7.16,2.13l-7.16,-2.13v-4.25zM379.0,881.2l7.16,2.13v4.25l-7.16,2.13l-7.16,-2.13v-4.25zM379.0,894.0l7.16,2.13v4.25l-7.16,2.13l-7.16,-2.13v-4.25zM393.3,855.7l7.16,2.13v4.25l-7.16,2.13l-7.16,-2.13v-4.25zM393.3,868.5l7.16,2.13v4.25l-7.16,2.13l-7.16,-2.13v-4.25zM407.6,894.0l7.16,2.13v4.25l-7.16,2.13l-7.16,-2.13v-4.25zM421.9,855.7l7.16,2.13v4.25l-7.16,2.13l-7.16,-2.13v-4.25zM421.9,894.0l7.16,2.13v4.25l-7.16,2.13l-7.16,-2.13v-4.25zM464.9,842.9l7.16,2.13v4.25l-7.16,2.13l-7.16,-2.13v-4.25zM464.9,919.5l7.16,2.13v4.25l-7.16,2.13l-7.16,-2.13v-4.25zM479.2,842.9l7.16,2.13v4.25l-7.16,2.13l-7.16,-2.13v-4.25zM479.2,919.5l7.16,2.13v4.25l-7.16,2.13l-7.16,-2.13v-4.25zM522.1,830.2l7.16,2.13v4.25l-7.16,2.13l-7.16,-2.13v-4.25zM550.7,830.2l7.16,2.13v4.25l-7.16,2.13l-7.16,-2.13v-4.25zM593.7,830.2l7.16,2.13v4.25l-7.16,2.13l-7.16,-2.13v-4.25zM608.0,919.5l7.16,2.13v4.25l-7.16,2.13l-7.16,-2.13v-4.25zM650.9,919.5l7.16,2.13v4.25l-7.16,2.13l-7.16,-2.13v-4.25z"/>
<path fill="#3d358b" stroke="#3d358b" d="M142.8,1053.5l7.16,2.13v4.25l-7.16,2.13l-7.16,-2.13v-4.25zM386.2,1053.5l7.16,2.13v4.25l-7.16,2.13l-7.16,-2.13v-4.25zM400.5,1053.5l7.16,2.13v4.25l-7.16,2.13l-7.16,-2.13v-4.25zM472.0,1053.5l7.16,2.13v4.25l-7.16,2.13l-7.16,-2.13v-4.25zM529.3,1053.5l7.16,2.13v4.25l-7.16,2.13l-7.16,-2.13v-4.25zM615.1,1053.5l7.16,2.13v4.25l-7.16,2.13l-7.16,-2.13v-4.25zM643.8,1053.5l7.16,2.13v4.25l-7.16,2.13l-7.16,-2.13v-4.25zM772.6,1053.5l7.16,2.13v4.25l-7.16,2.13l-7.16,-2.13v-4.25z"/>
<path fill="#fe9b2d" stroke="#fe9b2d" d="M157.2,849.3l7.16,2.13v4.25l-7.16,2.13l-7.16,-2.13v-4.25zM185.8,849.3l7.16,2.13v4.25l-7.16,2.13l-7.16,-2.13v-4.25zM214.4,874.8l7.16,2.13v4.25l-7.16,2.13l-7.16,-2.13v-4.25zM214.4,900.4l7.16,2.13v4.25l-7.16,2.13l-7.16,-2.13v-4.25zM243.0,900.4l7.16,2.13v4.25l-7.16,2.13l-7.16,-2.13v-4.25zM357.5,849.3l7.16,2.13v4.25l-7.16,2.13l-7.16,-2.13v-4.25zM357.5,874.8l7.16,2.13v4.25l-7.16,2.13l-7.16,-2.13v-4.25zM371.8,874.8l7.16,2.13v4.25l-7.16,2.13l-7.16,-2.13v-4.25zM386.2,887.6l7.16,2.13v4.25l-7.16,2.13l-7.16,-2.13v-4.25zM400.5,900.4l7.16,2.13v4.25l-7.16,2.13l-7.16,-2.13v-4.25zM414.8,849.3l7.16,2.13v4.25l-7.16,2.13l-7.16,-2.13v-4.25zM414.8,913.1l7.16,2.13v4.25l-7.16,2.13l-7.16,-2.13v-4.25zM429.1,913.1l7.16,2.13v4.25l-7.16,2.13l-7.16,-2.13v-4.25zM443.4,836.6l7.16,2.13v4.25l-7.16,2.13l-7.16,-2.13v-4.25zM443.4,913.1l7.16,2.13v4.25l-7.16,2.13l-7.16,-2.13v-4.25zM472.0,836.6l7.16,2.13v4.25l-7.16,2.13l-7.16,-2.13v-4.25zM572.2,823.8l7.16,2.13v4.25l-7.16,2.13l-7.16,-2.13v-4.25zM586.5,823.8l7.16,2.13v4.25l-7.16,2.13l-7.16,-2.13v-4.25zM600.8,925.9l7.16,2.13v4.25l-7.16,2.13l-7.16,-2.13v-4.25zM629.5,925.9l7.16,2.13v4.25l-7.16,2.13l-7.16,-2.13v-4.25zM686.7,862.1l7.16,2.13v4.25l-7.16,2.13l-7.16,-2.13v-4.25zM686.7,887.6l7.16,2.13v4.25l-7.16,2.13l-7.16,-2.13v-4.25zM701.0,874.8l7.16,2.13v4.25l-7.16,2.13l-7.16,-2.13v-4.25zM135.7,842.9l7.16,2.13v4.25l-7.16,2.13l-7.16,-2.13v-4.25zM164.3,868.5l7.16,2.13v4.25l-7.16,2.13l-7.16,-2.13v-4.25zM207.3,868.5l7.16,2.13v4.25l-7.16,2.13l-7.16,-2.13v-4.25zM250.2,868.5l7.16,2.13v4.25l-7.16,2.13l-7.16,-2.13v-4.25zM250.2,894.0l7.16,2.13v4.25l-7.16,2.13l-7.16,-2.13v-4.25zM264.5,868.5l7.16,2.13v4.25l-7.16,2.13l-7.16,-2.13v-4.25zM307.4,855.7l7.16,2.13v4.25l-7.16,2.13l-7.16,-2.13v-4.25zM350.4,868.5l7.16,2.13v4.25l-7.16,2.13l-7.16,-2.13v-4.25zM364.7,868.5l7.16,2.13v4.25l-7.16,2.13l-7.16,-2.13v-4.25zM379.0,868.5l7.16,2.13v4.25l-7.16,2.13l-7.16,-2.13v-4.25zM393.3,881.2l7.16,2.13v4.25l-7.16,2.13l-7.16,-2.13v-4.25zM393.3,906.8l7.16,2.13v4.25l-7.16,2.13l-7.16,-2.13v-4.25zM407.6,855.7l7.16,2.13v4.25l-7.16,2.13l-7.16,-2.13v-4.25zM407.6,906.8l7.16,2.13v4.25l-7.16,2.13l-7.16,-2.13v-4.25zM421.9,842.9l7.16,2.13v4.25l-7.16,2.13l-7.16,-2.13v-4.25zM421.9,906.8l7.16,2.13v4.25l-7.16,2.13l-7.16,-2.13v-4.25zM436.2,842.9l7.16,2.13v4.25l-7.16,2.13l-7.16,-2.13v-4.25zM436.2,906.8l7.16,2.13v4.25l-7.16,2.13l-7.16,-2.13v-4.25zM450.6,842.9l7.16,2.13v4.25l-7.16,2.13l-7.16,-2.13v-4.25zM450.6,919.5l7.16,2.13v4.25l-7.16,2.13l-7.16,-2.13v-4.25zM507.8,830.2l7.16,2.13v4.25l-7.16,2.13l-7.16,-2.13v-4.25zM536.4,932.3l7.16,2.13v4.25l-7.16,2.13l-7.16,-2.13v-4.25zM565.1,932.3l7.16,2.13v4.25l-7.16,2.13l-7.16,-2.13v-4.25zM608.0,830.2l7.16,2.13v4.25l-7.16,2.13l-7.16,-2.13v-4.25zM622.3,830.2l7.16,2.13v4.25l-7.16,2.13l-7.16,-2.13v-4.25zM650.9,842.9l7.16,2.13v4.25l-7.16,2.13l-7.16,-2.13v-4.25zM679.5,855.7l7.16,2.13v4.25l-7.16,2.13l-7.16,-2.13v-4.25zM679.5,906.8l7.16,2.13v4.25l-7.16,2.13l-7.16,-2.13v-4.25zM693.9,894.0l7.16,2.13v4.25l-7.16,2.13l-7.16,-2.13v-4.25z"/>
<path fill="#fea431" stroke="#fea431" d="M157.2,862.1l7.16,2.13v4.25l-7.16,2.13l-7.16,-2.13v-4.25zM171.5,874.8l7.16,2.13v4.25l-7.16,2.13l-7.16,-2.13v-4.25zM200.1,862.1l7.16,2.13v4.25l-7.16,2.13l-7.16,-2.13v-4.25zM200.1,874.8l7.16,2.13v4.25l-7.16,2.13l-7.16,-2.13v-4.25zM214.4,862.1l7.16,2.13v4.25l-7.16,2.13l-7.16,-2.13v-4.25zM228.7,900.4l7.16,2.13v4.25l-7.16,2.13l-7.16,-2.13v-4.25zM271.7,849.3l7.16,2.13v4.25l-7.16,2.13l-7.16,-2.13v-4.25zM271.7,887.6l7.16,2.13v4.25l-7.16,2.13l-7.16,-2.13v-4.25zM300.3,849.3l7.16,2.13v4.25l-7.16,2.13l-7.16,-2.13v-4.25zM314.6,874.8l7.16,2.13v4.25l-7.16,2.13l-7.16,-2.13v-4.25zM357.5,862.1l7.16,2.13v4.25l-7.16,2.13l-7.16,-2.13v-4.25zM371.8,849.3l7.16,2.13v4.25l-7.16,2.13l-7.16,-2.13v-4.25zM371.8,862.1l7.16,2.13v4.25l-7.16,2.13l-7.16,-2.13v-4.25zM371.8,887.6l7.16,2.13v4.25l-7.16,2.13l-7.16,-2.13v-4.25zM386.2,849.3l7.16,2.13v4.25l-7.16,2.13l-7.16,-2.13v-4.25zM386.2,862.1l7.16,2.13v4.25l-7.16,2.13l-7.16,-2.13v-4.25zM386.2,900.4l7.16,2.13v4.25l-7.16,2.13l-7.16,-2.13v-4.25zM400.5,849.3l7.16,2.13v4.25l-7.16,2.13l-7.16,-2.13v-4.25zM400.5,913.1l7.16,2.13v4.25l-7.16,2.13l-7.16,-2.13v-4.25zM414.8,823.8l7.16,2.13v4.25l-7.16,2.13l-7.16,-2.13v-4.25zM414.8,836.6l7.16,2.13v4.25l-7.16,2.13l-7.16,-2.13v-4.25zM429.1,836.6l7.16,2.13v4.25l-7.16,2.13l-7.16,-2.13v-4.25zM472.0,925.9l7.16,2.13v4.25l-7.16,2.13l-7.16,-2.13v-4.25zM486.3,925.9l7.16,2.13v4.25l-7.16,2.13l-7.16,-2.13v-4.25zM557.9,823.8l7.16,2.13v4.25l-7.16,2.13l-7.16,-2.13v-4.25zM643.8,836.6l7.16,2.13v4.25l-7.16,2.13l-7.16,-2.13v-4.25zM643.8,925.9l7.16,2.13v4.25l-7.16,2.13l-7.16,-2.13v-4.25zM672.4,849.3l7.16,2.13v4.25l-7.16,2.13l-7.16,-2.13v-4.25zM686.7,849.3l7.16,2.13v4.25l-7.16,2.13l-7.16,-2.13v-4.25zM686.7,900.4l7.16,2.13v4.25l-7.16,2.13l-7.16,-2.13v-4.25zM686.7,913.1l7.16,2.13v4.25l-7.16,2.13l-7.16,-2.13v-4.25zM701.0,862.1l7.16,2.13v4.25l-7.16,2.13l-7.16,-2.13v-4.25zM701.0,900.4l7.16,2.13v4.25l-7.16,2.13l-7.16,-2.13v-4.25zM715.3,862.1l7.16,2.13v4.25l-7.16,2.13l-7.16,-2.13v-4.25zM715.3,887.6l7.16,2.13v4.25l-7.16,2.13l-7.16,-2.13v-4.25zM744.0,849.3l7.16,2.13v4.25l-7.16,2.13l-7.16,-2.13v-4.25zM150.0,842.9l7.16,2.13v4.25l-7.16,2.13l-7.16,-2.13v-4.25zM192.9,868.5l7.16,2.13v4.25l-7.16,2.13l-7.16,-2.13v-4.25zM221.6,868.5l7.16,2.13v4.25l-7.16,2.13l-7.16,-2.13v-4.25zM235.9,868.5l7.16,2.13v4.25l-7.16,2.13l-7.16,-2.13v-4.25zM293.1,842.9l7.16,2.13v4.25l-7.16,2.13l-7.16,-2.13v-4.25zM307.4,868.5l7.16,2.13v4.25l-7.16,2.13l-7.16,-2.13v-4.25zM350.4,855.7l7.16,2.13v4.25l-7.16,2.13l-7.16,-2.13v-4.25zM364.7,842.9l7.16,2.13v4.25l-7.16,2.13l-7.16,-2.13v-4.25zM364.7,855.7l7.16,2.13v4.25l-7.16,2.13l-7.16,-2.13v-4.25zM379.0,855.7l7.16,2.13v4.25l-7.16,2.13l-7.16,-2.13v-4.25zM379.0,906.8l7.16,2.13v4.25l-7.16,2.13l-7.16,-2.13v-4.25zM393.3,842.9l7.16,2.13v4.25l-7.16,2.13l-7.16,-2.13v-4.25zM393.3,894.0l7.16,2.13v4.25l-7.16,2.13l-7.16,-2.13v-4.25zM407.6,842.9l7.16,2.13v4.25l-7.16,2.13l-7.16,-2.13v-4.25zM421.9,830.2l7.16,2.13v4.25l-7.16,2.13l-7.16,-2.13v-4.25zM436.2,830.2l7.16,2.13v4.25l-7.16,2.13l-7.16,-2.13v-4.25zM436.2,919.5l7.16,2.13v4.25l-7.16,2.13l-7.16,-2.13v-4.25zM450.6,830.2l7.16,2.13v4.25l-7.16,2.13l-7.16,-2.13v-4.25zM479.2,830.2l7.16,2.13v4.25l-7.16,2.13l-7.16,-2.13v-4.25zM493.5,830.2l7.16,2.13v4.25l-7.16,2.13l-7.16,-2.13v-4.25zM536.4,830.2l7.16,2.13v4.25l-7.16,2.13l-7.16,-2.13v-4.25zM593.7,932.3l7.16,2.13v4.25l-7.16,2.13l-7.16,-2.13v-4.25zM622.3,919.5l7.16,2.13v4.25l-7.16,2.13l-7.16,-2.13v-4.25zM665.2,919.5l7.16,2.13v4.25l-7.16,2.13l-7.16,-2.13v-4.25zM679.5,842.9l7.16,2.13v4.25l-7.16,2.13l-7.16,-2.13v-4.25zM693.9,868.5l7.16,2.13v4.25l-7.16,2.13l-7.16,-2.13v-4.25zM693.9,881.2l7.16,2.13v4.25l-7.16,2.13l-7.16,-2.13v-4.25zM708.2,868.5l7.16,2.13v4.25l-7.16,2.13l-7.16,-2.13v-4.25zM708.2,881.2l7.16,2.13v4.25l-7.16,2.13l-7.16,-2.13v-4.25zM722.5,881.2l7.16,2.13v4.25l-7.16,2.13l-7.16,-2.13v-4.25zM736.8,881.2l7.16,2.13v4.25l-7.16,2.13l-7.16,-2.13v-4.25zM751.1,855.7l7.16,2.13v4.25l-7.16,2.13l-7.16,-2.13v-4.25z"/>
<path fill="#fea933" stroke="#fea933" d="M157.2,874.8l7.16,2.13v4.25l-7.16,2.13l-7.16,-2.13v-4.25zM185.8,887.6l7.16,2.13v4.25l-7.16,2.13l-7.16,-2.13v-4.25zM200.1,887.6l7.16,2.13v4.25l-7.16,2.13l-7.16,-2.13v-4.25zM228.7,862.1l7.16,2.13v4.25l-7.16,2.13l-7.16,-2.13v-4.25zM257.3,862.1l7.16,2.13v4.25l-7.16,2.13l-7.16,-2.13v-4.25zM257.3,900.4l7.16,2.13v4.25l-7.16,2.13l-7.16,-2.13v-4.25zM286.0,887.6l7.16,2.13v4.25l-7.16,2.13l-7.16,-2.13v-4.25zM314.6,862.1l7.16,2.13v4.25l-7.16,2.13l-7.16,-2.13v-4.25zM314.6,887.6l7.16,2.13v4.25l-7.16,2.13l-7.16,-2.13v-4.25zM328.9,862.1l7.16,2.13v4.25l-7.16,2.13l-7.16,-2.13v-4.25zM328.9,874.8l7.16,2.13v4.25l-7.16,2.13l-7.16,-2.13v-4.25zM328.9,887.6l7.16,2.13v4.25l-7.16,2.13l-7.16,-2.13v-4.25zM343.2,849.3l7.16,2.13v4.25l-7.16,2.13l-7.16,-2.13v-4.25zM343.2,862.1l7.16,2.13v4.25l-7.16,2.13l-7.16,-2.13v-4.25zM343.2,874.8l7.16,2.13v4.25l-7.16,2.13l-7.16,-2.13v-4.25zM357.5,887.6l7.16,2.13v4.25l-7.16,2.13l-7.16,-2.13v-4.25zM371.8,900.4l7.16,2.13v4.25l-7.16,2.13l-7.16,-2.13v-4.25zM386.2,811.0l7.16,2.13v4.25l-7.16,2.13l-7.16,-2.13v-4.25zM386.2,836.6l7.16,2.13v4.25l-7.16,2.13l-7.16,-2.13v-4.25zM400.5,823.8l7.16,2.13v4.25l-7.16,2.13l-7.16,-2.13v-4.25zM400.5,836.6l7.16,2.13v4.25l-7.16,2.13l-7.16,-2.13v-4.25zM414.8,925.9l7.16,2.13v4.25l-7.16,2.13l-7.16,-2.13v-4.25zM429.1,823.8l7.16,2.13v4.25l-7.16,2.13l-7.16,-2.13v-4.25zM443.4,823.8l7.16,2.13v4.25l-7.16,2.13l-7.16,-2.13v-4.25zM443.4,925.9l7.16,2.13v4.25l-7.16,2.13l-7.16,-2.13v-4.25zM457.7,836.6l7.16,2.13v4.25l-7.16,2.13l-7.16,-2.13v-4.25zM457.7,925.9l7.16,2.13v4.25l-7.16,2.13l-7.16,-2.13v-4.25zM472.0,823.8l7.16,2.13v4.25l-7.16,2.13l-7.16,-2.13v-4.25zM515.0,823.8l7.16,2.13v4.25l-7.16,2.13l-7.16,-2.13v-4.25zM543.6,823.8l7.16,2.13v4.25l-7.16,2.13l-7.16,-2.13v-4.25zM543.6,938.7l7.16,2.13v4.25l-7.16,2.13l-7.16,-2.13v-4.25zM600.8,823.8l7.16,2.13v4.25l-7.16,2.13l-7.16,-2.13v-4.25zM615.1,925.9l7.16,2.13v4.25l-7.16,2.13l-7.16,-2.13v-4.25zM658.1,836.6l7.16,2.13v4.25l-7.16,2.13l-7.16,-2.13v-4.25zM701.0,849.3l7.16,2.13v4.25l-7.16,2.13l-7.16,-2.13v-4.25zM701.0,887.6l7.16,2.13v4.25l-7.16,2.13l-7.16,-2.13v-4.25zM715.3,874.8l7.16,2.13v4.25l-7.16,2.13l-7.16,-2.13v-4.25zM729.6,849.3l7.16,2.13v4.25l-7.16,2.13l-7.16,-2.13v-4.25zM729.6,862.1l7.16,2.13v4.25l-7.16,2.13l-7.16,-2.13v-4.25zM729.6,887.6l7.16,2.13v4.25l-7.16,2.13l-7.16,-2.13v-4.25zM729.6,900.4l7.16,2.13v4.25l-7.16,2.13l-7.16,-2.13v-4.25zM744.0,862.1l7.16,2.13v4.25l-7.16,2.13l-7.16,-2.13v-4.25zM135.7,855.7l7.16,2.13v4.25l-7.16,2.13l-7.16,-2.13v-4.25zM178.6,842.9l7.16,2.13v4.25l-7.16,2.13l-7.16,-2.13v-4.25zM192.9,894.0l7.16,2.13v4.25l-7.16,2.13l-7.16,-2.13v-4.25zM207.3,894.0l7.16,2.13v4.25l-7.16,2.13l-7.16,-2.13v-4.25zM264.5,855.7l7.16,2.13v4.25l-7.16,2.13l-7.16,-2.13v-4.25zM264.5,894.0l7.16,2.13v4.25l-7.16,2.13l-7.16,-2.13v-4.25zM278.8,842.9l7.16,2.13v4.25l-7.16,2.13l-7.16,-2.13v-4.25zM321.7,881.2l7.16,2.13v4.25l-7.16,2.13l-7.16,-2.13v-4.25zM336.1,842.9l7.16,2.13v4.25l-7.16,2.13l-7.16,-2.13v-4.25zM350.4,842.9l7.16,2.13v4.25l-7.16,2.13l-7.16,-2.13v-4.25zM350.4,881.2l7.16,2.13v4.25l-7.16,2.13l-7.16,-2.13v-4.25zM364.7,830.2l7.16,2.13v4.25l-7.16,2.13l-7.16,-2.13v-4.25zM364.7,881.2l7.16,2.13v4.25l-7.16,2.13l-7.16,-2.13v-4.25zM364.7,894.0l7.16,2.13v4.25l-7.16,2.13l-7.16,-2.13v-4.25zM379.0,842.9l7.16,2.13v4.25l-7.16,2.13l-7.16,-2.13v-4.25zM393.3,830.2l7.16,2.13v4.25l-7.16,2.13l-7.16,-2.13v-4.25zM407.6,830.2l7.16,2.13v4.25l-7.16,2.13l-7.16,-2.13v-4.25zM407.6,919.5l7.16,2.13v4.25l-7.16,2.13l-7.16,-2.13v-4.25zM421.9,919.5l7.16,2.13v4.25l-7.16,2.13l-7.16,-2.13v-4.25zM436.2,817.4l7.16,2.13v4.25l-7.16,2.13l-7.16,-2.13v-4.25zM464.9,830.2l7.16,2.13v4.25l-7.16,2.13l-7.16,-2.13v-4.25zM479.2,817.4l7.16,2.13v4.25l-7.16,2.13l-7.16,-2.13v-4.25zM479.2,932.3l7.16,2.13v4.25l-7.16,2.13l-7.16,-2.13v-4.25zM493.5,932.3l7.16,2.13v4.25l-7.16,2.13l-7.16,-2.13v-4.25zM507.8,932.3l7.16,2.13v4.25l-7.16,2.13l-7.16,-2.13v-4.25zM522.1,932.3l7.16,2.13v4.25l-7.16,2.13l-7.16,-2.13v-4.25zM536.4,817.4l7.16,2.13v4.25l-7.16,2.13l-7.16,-2.13v-4.25zM550.7,932.3l7.16,2.13v4.25l-7.16,2.13l-7.16,-2.13v-4.25zM565.1,817.4l7.16,2.13v4.25l-7.16,2.13l-7.16,-2.13v-4.25zM579.4,817.4l7.16,2.13v4.25l-7.16,2.13l-7.16,-2.13v-4.25zM579.4,932.3l7.16,2.13v4.25l-7.16,2.13l-7.16,-2.13v-4.25zM622.3,932.3l7.16,2.13v4.25l-7.16,2.13l-7.16,-2.13v-4.25zM636.6,830.2l7.16,2.13v4.25l-7.16,2.13l-7.16,-2.13v-4.25zM665.2,842.9l7.16,2.13v4.25l-7.16,2.13l-7.16,-2.13v-4.25zM693.9,855.7l7.16,2.13v4.25l-7.16,2.13l-7.16,-2.13v-4.25zM693.9,906.8l7.16,2.13v4.25l-7.16,2.13l-7.16,-2.13v-4.25zM708.2,855.7l7.16,2.13v4.25l-7.16,2.13l-7.16,-2.13v-4.25zM708.2,894.0l7.16,2.13v4.25l-7.16,2.13l-7.16,-2.13v-4.25zM722.5,842.9l7.16,2.13v4.25l-7.16,2.13l-7.16,-2.13v-4.25zM722.5,868.5l7.16,2.13v4.25l-7.16,2.13l-7.16,-2.13v-4.25zM736.8,868.5l7.16,2.13v4.25l-7.16,2.13l-7.16,-2.13v-4.25z"/>
<path fill="#46f884" stroke="#46f884" d="M157.2,1028.0l7.16,2.13v4.25l-7.16,2.13l-7.16,-2.13v-4.25zM171.5,747.2l7.16,2.13v4.25l-7.16,2.13l-7.16,-2.13v-4.25zM200.1,1028.0l7.16,2.13v4.25l-7.16,2.13l-7.16,-2.13v-4.25zM243.0,747.2l7.16,2.13v4.25l-7.16,2.13l-7.16,-2.13v-4.25zM314.6,734.4l7.16,2.13v4.25l-7.16,2.13l-7.16,-2.13v-4.25zM343.2,1028.0l7.16,2.13v4.25l-7.16,2.13l-7.16,-2.13v-4.25zM400.5,734.4l7.16,2.13v4.25l-7.16,2.13l-7.16,-2.13v-4.25zM429.1,1028.0l7.16,2.13v4.25l-7.16,2.13l-7.16,-2.13v-4.25zM457.7,1028.0l7.16,2.13v4.25l-7.16,2.13l-7.16,-2.13v-4.25zM500.6,721.7l7.16,2.13v4.25l-7.16,2.13l-7.16,-2.13v-4.25zM557.9,1028.0l7.16,2.13v4.25l-7.16,2.13l-7.16,-2.13v-4.25zM600.8,1028.0l7.16,2.13v4.25l-7.16,2.13l-7.16,-2.13v-4.25zM729.6,1028.0l7.16,2.13v4.25l-7.16,2.13l-7.16,-2.13v-4.25zM772.6,1028.0l7.16,2.13v4.25l-7.16,2.13l-7.16,-2.13v-4.25zM92.8,740.8l7.16,2.13v4.25l-7.16,2.13l-7.16,-2.13v-4.25zM107.1,753.6l7.16,2.13v4.25l-7.16,2.13l-7.16,-2.13v-4.25zM135.7,740.8l7.16,2.13v4.25l-7.16,2.13l-7.16,-2.13v-4.25zM321.7,740.8l7.16,2.13v4.25l-7.16,2.13l-7.16,-2.13v-4.25zM364.7,740.8l7.16,2.13v4.25l-7.16,2.13l-7.16,-2.13v-4.25zM636.6,728.1l7.16,2.13v4.25l-7.16,2.13l-7.16,-2.13v-4.25zM708.2,728.1l7.16,2.13v4.25l-7.16,2.13l-7.16,-2.13v-4.25zM751.1,728.1l7.16,2.13v4.25l-7.16,2.13l-7.16,-2.13v-4.25z"/>
<path fill="#20c7df" stroke="#20c7df" d="M157.2,1040.8l7.16,2.13v4.25l-7.16,2.13l-7.16,-2.13v-4.25zM214.4,1040.8l7.16,2.13v4.25l-7.16,2.13l-7.16,-2.13v-4.25zM314.6,721.7l7.16,2.13v4.25l-7.16,2.13l-7.16,-2.13v-4.25zM643.8,1040.8l7.16,2.13v4.25l-7.16,2.13l-7.16,-2.13v-4.25zM658.1,1040.8l7.16,2.13v4.25l-7.16,2.13l-7.16,-2.13v-4.25zM421.9,715.3l7.16,2.13v4.25l-7.16,2.13l-7.16,-2.13v-4.25zM493.5,702.5l7.16,2.13v4.25l-7.16,2.13l-7.16,-2.13v-4.25zM565.1,715.3l7.16,2.13v4.25l-7.16,2.13l-7.16,-2.13v-4.25zM722.5,702.5l7.16,2.13v4.25l-7.16,2.13l-7.16,-2.13v-4.25z"/>
<path fill="#4456c7" stroke="#4456c7" d="M171.5,696.1l7.16,2.13v4.25l-7.16,2.13l-7.16,-2.13v-4.25zM257.3,1053.5l7.16,2.13v4.25l-7.16,2.13l-7.16,-2.13v-4.25zM328.9,696.1l7.16,2.13v4.25l-7.16,2.13l-7.16,-2.13v-4.25zM371.8,696.1l7.16,2.13v4.25l-7.16,2.13l-7.16,-2.13v-4.25zM486.3,1053.5l7.16,2.13v4.25l-7.16,2.13l-7.16,-2.13v-4.25zM729.6,696.1l7.16,2.13v4.25l-7.16,2.13l-7.16,-2.13v-4.25zM321.7,702.5l7.16,2.13v4.25l-7.16,2.13l-7.16,-2.13v-4.25z"/>
<path fill="#80ff53" stroke="#80ff53" d="M171.5,772.7l7.16,2.13v4.25l-7.16,2.13l-7.16,-2.13v-4.25zM200.1,760.0l7.16,2.13v4.25l-7.16,2.13l-7.16,-2.13v-4.25zM200.1,772.7l7.16,2.13v4.25l-7.16,2.13l-7.16,-2.13v-4.25zM243.0,1015.3l7.16,2.13v4.25l-7.16,2.13l-7.16,-2.13v-4.25zM300.3,760.0l7.16,2.13v4.25l-7.16,2.13l-7.16,-2.13v-4.25zM314.6,747.2l7.16,2.13v4.25l-7.16,2.13l-7.16,-2.13v-4.25zM429.1,734.4l7.16,2.13v4.25l-7.16,2.13l-7.16,-2.13v-4.25zM500.6,734.4l7.16,2.13v4.25l-7.16,2.13l-7.16,-2.13v-4.25zM121.4,766.3l7.16,2.13v4.25l-7.16,2.13l-7.16,-2.13v-4.25zM135.7,766.3l7.16,2.13v4.25l-7.16,2.13l-7.16,-2.13v-4.25zM150.0,766.3l7.16,2.13v4.25l-7.16,2.13l-7.16,-2.13v-4.25zM192.9,753.6l7.16,2.13v4.25l-7.16,2.13l-7.16,-2.13v-4.25zM207.3,1021.6l7.16,2.13v4.25l-7.16,2.13l-7.16,-2.13v-4.25zM264.5,1021.6l7.16,2.13v4.25l-7.16,2.13l-7.16,-2.13v-4.25zM321.7,753.6l7.16,2.13v4.25l-7.16,2.13l-7.16,-2.13v-4.25zM321.7,1021.6l7.16,2.13v4.25l-7.16,2.13l-7.16,-2.13v-4.25zM393.3,1021.6l7.16,2.13v4.25l-7.16,2.13l-7.16,-2.13v-4.25zM436.2,1021.6l7.16,2.13v4.25l-7.16,2.13l-7.16,-2.13v-4.25zM493.5,1021.6l7.16,2.13v4.25l-7.16,2.13l-7.16,-2.13v-4.25zM522.1,1021.6l7.16,2.13v4.25l-7.16,2.13l-7.16,-2.13v-4.25zM565.1,740.8l7.16,2.13v4.25l-7.16,2.13l-7.16,-2.13v-4.25zM593.7,740.8l7.16,2.13v4.25l-7.16,2.13l-7.16,-2.13v-4.25zM622.3,1021.6l7.16,2.13v4.25l-7.16,2.13l-7.16,-2.13v-4.25zM679.5,740.8l7.16,2.13v4.25l-7.16,2.13l-7.16,-2.13v-4.25zM679.5,1021.6l7.16,2.13v4.25l-7.16,2.13l-7.16,-2.13v-4.25zM765.4,740.8l7.16,2.13v4.25l-7.16,2.13l-7.16,-2.13v-4.25zM779.7,740.8l7.16,2.13v4.25l-7.16,2.13l-7.16,-2.13v-4.25zM779.7,1021.6l7.16,2.13v4.25l-7.16,2.13l-7.16,-2.13v-4.25z"/>
<path fill="#4391fe" stroke="#4391fe" d="M171.5,1040.8l7.16,2.13v4.25l-7.16,2.13l-7.16,-2.13v-4.25zM286.0,708.9l7.16,2.13v4.25l-7.16,2.13l-7.16,-2.13v-4.25zM135.7,702.5l7.16,2.13v4.25l-7.16,2.13l-7.16,-2.13v-4.25zM264.5,1047.2l7.16,2.13v4.25l-7.16,2.13l-7.16,-2.13v-4.25zM393.3,702.5l7.16,2.13v4.25l-7.16,2.13l-7.16,-2.13v-4.25zM464.9,702.5l7.16,2.13v4.25l-7.16,2.13l-7.16,-2.13v-4.25zM550.7,702.5l7.16,2.13v4.25l-7.16,2.13l-7.16,-2.13v-4.25z"/>
<path fill="#fd8d27" stroke="#fd8d27" d="M185.8,862.1l7.16,2.13v4.25l-7.16,2.13l-7.16,-2.13v-4.25zM214.4,887.6l7.16,2.13v4.25l-7.16,2.13l-7.16,-2.13v-4.25zM271.7,874.8l7.16,2.13v4.25l-7.16,2.13l-7.16,-2.13v-4.25zM286.0,849.3l7.16,2.13v4.25l-7.16,2.13l-7.16,-2.13v-4.25zM400.5,874.8l7.16,2.13v4.25l-7.16,2.13l-7.16,-2.13v-4.25zM414.8,862.1l7.16,2.13v4.25l-7.16,2.13l-7.16,-2.13v-4.25zM414.8,874.8l7.16,2.13v4.25l-7.16,2.13l-7.16,-2.13v-4.25zM414.8,900.4l7.16,2.13v4.25l-7.16,2.13l-7.16,-2.13v-4.25zM429.1,887.6l7.16,2.13v4.25l-7.16,2.13l-7.16,-2.13v-4.25zM443.4,849.3l7.16,2.13v4.25l-7.16,2.13l-7.16,-2.13v-4.25zM443.4,862.1l7.16,2.13v4.25l-7.16,2.13l-7.16,-2.13v-4.25zM472.0,913.1l7.16,2.13v4.25l-7.16,2.13l-7.16,-2.13v-4.25zM500.6,836.6l7.16,2.13v4.25l-7.16,2.13l-7.16,-2.13v-4.25zM515.0,836.6l7.16,2.13v4.25l-7.16,2.13l-7.16,-2.13v-4.25zM515.0,925.9l7.16,2.13v4.25l-7.16,2.13l-7.16,-2.13v-4.25zM529.3,925.9l7.16,2.13v4.25l-7.16,2.13l-7.16,-2.13v-4.25zM557.9,925.9l7.16,2.13v4.25l-7.16,2.13l-7.16,-2.13v-4.25zM629.5,836.6l7.16,2.13v4.25l-7.16,2.13l-7.16,-2.13v-4.25zM178.6,855.7l7.16,2.13v4.25l-7.16,2.13l-7.16,-2.13v-4.25zM407.6,868.5l7.16,2.13v4.25l-7.16,2.13l-7.16,-2.13v-4.25zM421.9,868.5l7.16,2.13v4.25l-7.16,2.13l-7.16,-2.13v-4.25zM421.9,881.2l7.16,2.13v4.25l-7.16,2.13l-7.16,-2.13v-4.25zM436.2,855.7l7.16,2.13v4.25l-7.16,2.13l-7.16,-2.13v-4.25zM450.6,906.8l7.16,2.13v4.25l-7.16,2.13l-7.16,-2.13v-4.25zM636.6,919.5l7.16,2.13v4.25l-7.16,2.13l-7.16,-2.13v-4.25zM679.5,868.5l7.16,2.13v4.25l-7.16,2.13l-7.16,-2.13v-4.25zM679.5,894.0l7.16,2.13v4.25l-7.16,2.13l-7.16,-2.13v-4.25z"/>
<path fill="#3d9efe" stroke="#3d9efe" d="M200.1,708.9l7.16,2.13v4.25l-7.16,2.13l-7.16,-2.13v-4.25zM200.1,1040.8l7.16,2.13v4.25l-7.16,2.13l-7.16,-2.13v-4.25zM243.0,708.9l7.16,2.13v4.25l-7.16,2.13l-7.16,-2.13v-4.25zM400.5,708.9l7.16,2.13v4.25l-7.16,2.13l-7.16,-2.13v-4.25zM744.0,708.9l7.16,2.13v4.25l-7.16,2.13l-7.16,-2.13v-4.25zM786.9,708.9l7.16,2.13v4.25l-7.16,2.13l-7.16,-2.13v-4.25zM150.0,715.3l7.16,2.13v4.25l-7.16,2.13l-7.16,-2.13v-4.25zM192.9,1047.2l7.16,2.13v4.25l-7.16,2.13l-7.16,-2.13v-4.25zM207.3,1047.2l7.16,2.13v4.25l-7.16,2.13l-7.16,-2.13v-4.25zM278.8,715.3l7.16,2.13v4.25l-7.16,2.13l-7.16,-2.13v-4.25zM321.7,715.3l7.16,2.13v4.25l-7.16,2.13l-7.16,-2.13v-4.25zM350.4,702.5l7.16,2.13v4.25l-7.16,2.13l-7.16,-2.13v-4.25zM364.7,702.5l7.16,2.13v4.25l-7.16,2.13l-7.16,-2.13v-4.25zM364.7,1047.2l7.16,2.13v4.25l-7.16,2.13l-7.16,-2.13v-4.25zM379.0,1047.2l7.16,2.13v4.25l-7.16,2.13l-7.16,-2.13v-4.25zM450.6,1047.2l7.16,2.13v4.25l-7.16,2.13l-7.16,-2.13v-4.25z"/>
<path fill="#bcf534" stroke="#bcf534" d="M200.1,977.0l7.16,2.13v4.25l-7.16,2.13l-7.16,-2.13v-4.25zM200.1,989.7l7.16,2.13v4.25l-7.16,2.13l-7.16,-2.13v-4.25zM271.7,785.5l7.16,2.13v4.25l-7.16,2.13l-7.16,-2.13v-4.25zM300.3,785.5l7.16,2.13v4.25l-7.16,2.13l-7.16,-2.13v-4.25zM328.9,1002.5l7.16,2.13v4.25l-7.16,2.13l-7.16,-2.13v-4.25zM371.8,1002.5l7.16,2.13v4.25l-7.16,2.13l-7.16,-2.13v-4.25zM386.2,760.0l7.16,2.13v4.25l-7.16,2.13l-7.16,-2.13v-4.25zM429.1,989.7l7.16,2.13v4.25l-7.16,2.13l-7.16,-2.13v-4.25zM429.1,1002.5l7.16,2.13v4.25l-7.16,2.13l-7.16,-2.13v-4.25zM457.7,989.7l7.16,2.13v4.25l-7.16,2.13l-7.16,-2.13v-4.25zM486.3,1002.5l7.16,2.13v4.25l-7.16,2.13l-7.16,-2.13v-4.25zM543.6,760.0l7.16,2.13v4.25l-7.16,2.13l-7.16,-2.13v-4.25zM543.6,989.7l7.16,2.13v4.25l-7.16,2.13l-7.16,-2.13v-4.25zM557.9,989.7l7.16,2.13v4.25l-7.16,2.13l-7.16,-2.13v-4.25zM572.2,760.0l7.16,2.13v4.25l-7.16,2.13l-7.16,-2.13v-4.25zM600.8,989.7l7.16,2.13v4.25l-7.16,2.13l-7.16,-2.13v-4.25zM629.5,989.7l7.16,2.13v4.25l-7.16,2.13l-7.16,-2.13v-4.25zM643.8,760.0l7.16,2.13v4.25l-7.16,2.13l-7.16,-2.13v-4.25zM672.4,760.0l7.16,2.13v4.25l-7.16,2.13l-7.16,-2.13v-4.25zM672.4,989.7l7.16,2.13v4.25l-7.16,2.13l-7.16,-2.13v-4.25zM729.6,760.0l7.16,2.13v4.25l-7.16,2.13l-7.16,-2.13v-4.25zM744.0,760.0l7.16,2.13v4.25l-7.16,2.13l-7.16,-2.13v-4.25zM758.3,1002.5l7.16,2.13v4.25l-7.16,2.13l-7.16,-2.13v-4.25zM772.6,760.0l7.16,2.13v4.25l-7.16,2.13l-7.16,-2.13v-4.25zM772.6,1002.5l7.16,2.13v4.25l-7.16,2.13l-7.16,-2.13v-4.25zM786.9,1002.5l7.16,2.13v4.25l-7.16,2.13l-7.16,-2.13v-4.25zM801.2,989.7l7.16,2.13v4.25l-7.16,2.13l-7.16,-2.13v-4.25zM121.4,791.9l7.16,2.13v4.25l-7.16,2.13l-7.16,-2.13v-4.25zM164.3,791.9l7.16,2.13v4.25l-7.16,2.13l-7.16,-2.13v-4.25zM178.6,996.1l7.16,2.13v4.25l-7.16,2.13l-7.16,-2.13v-4.25zM192.9,983.3l7.16,2.13v4.25l-7.16,2.13l-7.16,-2.13v-4.25zM221.6,996.1l7.16,2.13v4.25l-7.16,2.13l-7.16,-2.13v-4.25zM235.9,791.9l7.16,2.13v4.25l-7.16,2.13l-7.16,-2.13v-4.25zM235.9,983.3l7.16,2.13v4.25l-7.16,2.13l-7.16,-2.13v-4.25zM250.2,983.3l7.16,2.13v4.25l-7.16,2.13l-7.16,-2.13v-4.25zM264.5,996.1l7.16,2.13v4.25l-7.16,2.13l-7.16,-2.13v-4.25zM278.8,996.1l7.16,2.13v4.25l-7.16,2.13l-7.16,-2.13v-4.25zM293.1,779.1l7.16,2.13v4.25l-7.16,2.13l-7.16,-2.13v-4.25zM293.1,996.1l7.16,2.13v4.25l-7.16,2.13l-7.16,-2.13v-4.25zM321.7,1008.9l7.16,2.13v4.25l-7.16,2.13l-7.16,-2.13v-4.25zM350.4,1008.9l7.16,2.13v4.25l-7.16,2.13l-7.16,-2.13v-4.25zM364.7,766.3l7.16,2.13v4.25l-7.16,2.13l-7.16,-2.13v-4.25zM364.7,996.1l7.16,2.13v4.25l-7.16,2.13l-7.16,-2.13v-4.25zM407.6,1008.9l7.16,2.13v4.25l-7.16,2.13l-7.16,-2.13v-4.25zM421.9,996.1l7.16,2.13v4.25l-7.16,2.13l-7.16,-2.13v-4.25zM450.6,753.6l7.16,2.13v4.25l-7.16,2.13l-7.16,-2.13v-4.25zM450.6,996.1l7.16,2.13v4.25l-7.16,2.13l-7.16,-2.13v-4.25zM464.9,983.3l7.16,2.13v4.25l-7.16,2.13l-7.16,-2.13v-4.25zM493.5,753.6l7.16,2.13v4.25l-7.16,2.13l-7.16,-2.13v-4.25zM593.7,753.6l7.16,2.13v4.25l-7.16,2.13l-7.16,-2.13v-4.25zM593.7,996.1l7.16,2.13v4.25l-7.16,2.13l-7.16,-2.13v-4.25zM608.0,753.6l7.16,2.13v4.25l-7.16,2.13l-7.16,-2.13v-4.25zM608.0,983.3l7.16,2.13v4.25l-7.16,2.13l-7.16,-2.13v-4.25zM622.3,983.3l7.16,2.13v4.25l-7.16,2.13l-7.16,-2.13v-4.25zM636.6,996.1l7.16,2.13v4.25l-7.16,2.13l-7.16,-2.13v-4.25zM679.5,753.6l7.16,2.13v4.25l-7.16,2.13l-7.16,-2.13v-4.25zM693.9,996.1l7.16,2.13v4.25l-7.16,2.13l-7.16,-2.13v-4.25zM722.5,766.3l7.16,2.13v4.25l-7.16,2.13l-7.16,-2.13v-4.25zM722.5,1008.9l7.16,2.13v4.25l-7.16,2.13l-7.16,-2.13v-4.25zM765.4,996.1l7.16,2.13v4.25l-7.16,2.13l-7.16,-2.13v-4.25zM794.0,996.1l7.16,2.13v4.25l-7.16,2.13l-7.16,-2.13v-4.25z"/>
<path fill="#19e3b9" stroke="#19e3b9" d="M214.4,721.7l7.16,2.13v4.25l-7.16,2.13l-7.16,-2.13v-4.25zM343.2,721.7l7.16,2.13v4.25l-7.16,2.13l-7.16,-2.13v-4.25zM443.4,721.7l7.16,2.13v4.25l-7.16,2.13l-7.16,-2.13v-4.25zM557.9,721.7l7.16,2.13v4.25l-7.16,2.13l-7.16,-2.13v-4.25zM801.2,1040.8l7.16,2.13v4.25l-7.16,2.13l-7.16,-2.13v-4.25zM135.7,728.1l7.16,2.13v4.25l-7.16,2.13l-7.16,-2.13v-4.25zM164.3,740.8l7.16,2.13v4.25l-7.16,2.13l-7.16,-2.13v-4.25zM278.8,728.1l7.16,2.13v4.25l-7.16,2.13l-7.16,-2.13v-4.25zM336.1,728.1l7.16,2.13v4.25l-7.16,2.13l-7.16,-2.13v-4.25zM436.2,715.3l7.16,2.13v4.25l-7.16,2.13l-7.16,-2.13v-4.25zM479.2,1034.4l7.16,2.13v4.25l-7.16,2.13l-7.16,-2.13v-4.25zM522.1,715.3l7.16,2.13v4.25l-7.16,2.13l-7.16,-2.13v-4.25zM536.4,1034.4l7.16,2.13v4.25l-7.16,2.13l-7.16,-2.13v-4.25zM593.7,715.3l7.16,2.13v4.25l-7.16,2.13l-7.16,-2.13v-4.25zM665.2,715.3l7.16,2.13v4.25l-7.16,2.13l-7.16,-2.13v-4.25zM765.4,715.3l7.16,2.13v4.25l-7.16,2.13l-7.16,-2.13v-4.25zM765.4,1034.4l7.16,2.13v4.25l-7.16,2.13l-7.16,-2.13v-4.25z"/>
<path fill="#3f3b97" stroke="#3f3b97" d="M214.4,1053.5l7.16,2.13v4.25l-7.16,2.13l-7.16,-2.13v-4.25zM243.0,1053.5l7.16,2.13v4.25l-7.16,2.13l-7.16,-2.13v-4.25zM515.0,1053.5l7.16,2.13v4.25l-7.16,2.13l-7.16,-2.13v-4.25zM672.4,1053.5l7.16,2.13v4.25l-7.16,2.13l-7.16,-2.13v-4.25zM729.6,1053.5l7.16,2.13v4.25l-7.16,2.13l-7.16,-2.13v-4.25zM744.0,1053.5l7.16,2.13v4.25l-7.16,2.13l-7.16,-2.13v-4.25zM264.5,702.5l7.16,2.13v4.25l-7.16,2.13l-7.16,-2.13v-4.25z"/>
<path fill="#fc8725" stroke="#fc8725" d="M228.7,874.8l7.16,2.13v4.25l-7.16,2.13l-7.16,-2.13v-4.25zM243.0,874.8l7.16,2.13v4.25l-7.16,2.13l-7.16,-2.13v-4.25zM271.7,862.1l7.16,2.13v4.25l-7.16,2.13l-7.16,-2.13v-4.25zM286.0,874.8l7.16,2.13v4.25l-7.16,2.13l-7.16,-2.13v-4.25zM300.3,862.1l7.16,2.13v4.25l-7.16,2.13l-7.16,-2.13v-4.25zM429.1,862.1l7.16,2.13v4.25l-7.16,2.13l-7.16,-2.13v-4.25zM443.4,887.6l7.16,2.13v4.25l-7.16,2.13l-7.16,-2.13v-4.25zM443.4,900.4l7.16,2.13v4.25l-7.16,2.13l-7.16,-2.13v-4.25zM457.7,849.3l7.16,2.13v4.25l-7.16,2.13l-7.16,-2.13v-4.25zM486.3,849.3l7.16,2.13v4.25l-7.16,2.13l-7.16,-2.13v-4.25zM600.8,913.1l7.16,2.13v4.25l-7.16,2.13l-7.16,-2.13v-4.25zM658.1,913.1l7.16,2.13v4.25l-7.16,2.13l-7.16,-2.13v-4.25zM672.4,862.1l7.16,2.13v4.25l-7.16,2.13l-7.16,-2.13v-4.25zM235.9,894.0l7.16,2.13v4.25l-7.16,2.13l-7.16,-2.13v-4.25zM407.6,881.2l7.16,2.13v4.25l-7.16,2.13l-7.16,-2.13v-4.25zM436.2,881.2l7.16,2.13v4.25l-7.16,2.13l-7.16,-2.13v-4.25zM450.6,855.7l7.16,2.13v4.25l-7.16,2.13l-7.16,-2.13v-4.25zM464.9,855.7l7.16,2.13v4.25l-7.16,2.13l-7.16,-2.13v-4.25zM493.5,842.9l7.16,2.13v4.25l-7.16,2.13l-7.16,-2.13v-4.25zM493.5,919.5l7.16,2.13v4.25l-7.16,2.13l-7.16,-2.13v-4.25zM507.8,842.9l7.16,2.13v4.25l-7.16,2.13l-7.16,-2.13v-4.25zM579.4,830.2l7.16,2.13v4.25l-7.16,2.13l-7.16,-2.13v-4.25zM579.4,919.5l7.16,2.13v4.25l-7.16,2.13l-7.16,-2.13v-4.25zM593.7,919.5l7.16,2.13v4.25l-7.16,2.13l-7.16,-2.13v-4.25zM636.6,842.9l7.16,2.13v4.25l-7.16,2.13l-7.16,-2.13v-4.25zM665.2,855.7l7.16,2.13v4.25l-7.16,2.13l-7.16,-2.13v-4.25zM665.2,906.8l7.16,2.13v4.25l-7.16,2.13l-7.16,-2.13v-4.25z"/>
<path fill="#f9781e" stroke="#f9781e" d="M228.7,887.6l7.16,2.13v4.25l-7.16,2.13l-7.16,-2.13v-4.25zM429.1,874.8l7.16,2.13v4.25l-7.16,2.13l-7.16,-2.13v-4.25zM543.6,836.6l7.16,2.13v4.25l-7.16,2.13l-7.16,-2.13v-4.25zM557.9,836.6l7.16,2.13v4.25l-7.16,2.13l-7.16,-2.13v-4.25zM643.8,913.1l7.16,2.13v4.25l-7.16,2.13l-7.16,-2.13v-4.25zM672.4,887.6l7.16,2.13v4.25l-7.16,2.13l-7.16,-2.13v-4.25zM278.8,868.5l7.16,2.13v4.25l-7.16,2.13l-7.16,-2.13v-4.25zM293.1,855.7l7.16,2.13v4.25l-7.16,2.13l-7.16,-2.13v-4.25zM450.6,868.5l7.16,2.13v4.25l-7.16,2.13l-7.16,-2.13v-4.25zM450.6,881.2l7.16,2.13v4.25l-7.16,2.13l-7.16,-2.13v-4.25zM464.9,881.2l7.16,2.13v4.25l-7.16,2.13l-7.16,-2.13v-4.25zM479.2,855.7l7.16,2.13v4.25l-7.16,2.13l-7.16,-2.13v-4.25zM493.5,855.7l7.16,2.13v4.25l-7.16,2.13l-7.16,-2.13v-4.25zM522.1,919.5l7.16,2.13v4.25l-7.16,2.13l-7.16,-2.13v-4.25zM536.4,919.5l7.16,2.13v4.25l-7.16,2.13l-7.16,-2.13v-4.25z"/>
<path fill="#fb7e21" stroke="#fb7e21" d="M243.0,887.6l7.16,2.13v4.25l-7.16,2.13l-7.16,-2.13v-4.25zM443.4,874.8l7.16,2.13v4.25l-7.16,2.13l-7.16,-2.13v-4.25zM457.7,862.1l7.16,2.13v4.25l-7.16,2.13l-7.16,-2.13v-4.25zM457.7,887.6l7.16,2.13v4.25l-7.16,2.13l-7.16,-2.13v-4.25zM457.7,900.4l7.16,2.13v4.25l-7.16,2.13l-7.16,-2.13v-4.25zM472.0,849.3l7.16,2.13v4.25l-7.16,2.13l-7.16,-2.13v-4.25zM486.3,913.1l7.16,2.13v4.25l-7.16,2.13l-7.16,-2.13v-4.25zM586.5,913.1l7.16,2.13v4.25l-7.16,2.13l-7.16,-2.13v-4.25zM615.1,836.6l7.16,2.13v4.25l-7.16,2.13l-7.16,-2.13v-4.25zM615.1,913.1l7.16,2.13v4.25l-7.16,2.13l-7.16,-2.13v-4.25zM629.5,913.1l7.16,2.13v4.25l-7.16,2.13l-7.16,-2.13v-4.25zM643.8,849.3l7.16,2.13v4.25l-7.16,2.13l-7.16,-2.13v-4.25zM672.4,900.4l7.16,2.13v4.25l-7.16,2.13l-7.16,-2.13v-4.25zM221.6,881.2l7.16,2.13v4.25l-7.16,2.13l-7.16,-2.13v-4.25zM278.8,855.7l7.16,2.13v4.25l-7.16,2.13l-7.16,-2.13v-4.25zM293.1,868.5l7.16,2.13v4.25l-7.16,2.13l-7.16,-2.13v-4.25zM436.2,868.5l7.16,2.13v4.25l-7.16,2.13l-7.16,-2.13v-4.25zM436.2,894.0l7.16,2.13v4.25l-7.16,2.13l-7.16,-2.13v-4.25zM450.6,894.0l7.16,2.13v4.25l-7.16,2.13l-7.16,-2.13v-4.25zM464.9,906.8l7.16,2.13v4.25l-7.16,2.13l-7.16,-2.13v-4.25zM507.8,919.5l7.16,2.13v4.25l-7.16,2.13l-7.16,-2.13v-4.25zM522.1,842.9l7.16,2.13v4.25l-7.16,2.13l-7.16,-2.13v-4.25zM550.7,919.5l7.16,2.13v4.25l-7.16,2.13l-7.16,-2.13v-4.25zM565.1,830.2l7.16,2.13v4.25l-7.16,2.13l-7.16,-2.13v-4.25zM565.1,919.5l7.16,2.13v4.25l-7.16,2.13l-7.16,-2.13v-4.25zM622.3,842.9l7.16,2.13v4.25l-7.16,2.13l-7.16,-2.13v-4.25zM679.5,881.2l7.16,2.13v4.25l-7.16,2.13l-7.16,-2.13v-4.25z"/>
<path fill="#4196ff" stroke="#4196ff" d="M257.3,708.9l7.16,2.13v4.25l-7.16,2.13l-7.16,-2.13v-4.25zM529.3,708.9l7.16,2.13v4.25l-7.16,2.13l-7.16,-2.13v-4.25zM572.2,708.9l7.16,2.13v4.25l-7.16,2.13l-7.16,-2.13v-4.25zM629.5,708.9l7.16,2.13v4.25l-7.16,2.13l-7.16,-2.13v-4.25zM744.0,1040.8l7.16,2.13v4.25l-7.16,2.13l-7.16,-2.13v-4.25zM479.2,702.5l7.16,2.13v4.25l-7.16,2.13l-7.16,-2.13v-4.25zM522.1,1047.2l7.16,2.13v4.25l-7.16,2.13l-7.16,-2.13v-4.25zM693.9,702.5l7.16,2.13v4.25l-7.16,2.13l-7.16,-2.13v-4.25z"/>
<path fill="#f56918" stroke="#f56918" d="M286.0,862.1l7.16,2.13v4.25l-7.16,2.13l-7.16,-2.13v-4.25zM472.0,900.4l7.16,2.13v4.25l-7.16,2.13l-7.16,-2.13v-4.25zM515.0,913.1l7.16,2.13v4.25l-7.16,2.13l-7.16,-2.13v-4.25zM557.9,913.1l7.16,2.13v4.25l-7.16,2.13l-7.16,-2.13v-4.25zM600.8,900.4l7.16,2.13v4.25l-7.16,2.13l-7.16,-2.13v-4.25zM672.4,874.8l7.16,2.13v4.25l-7.16,2.13l-7.16,-2.13v-4.25zM550.7,842.9l7.16,2.13v4.25l-7.16,2.13l-7.16,-2.13v-4.25zM622.3,906.8l7.16,2.13v4.25l-7.16,2.13l-7.16,-2.13v-4.25zM636.6,855.7l7.16,2.13v4.25l-7.16,2.13l-7.16,-2.13v-4.25zM665.2,868.5l7.16,2.13v4.25l-7.16,2.13l-7.16,-2.13v-4.25z"/>
<path fill="#35abf8" stroke="#35abf8" d="M314.6,708.9l7.16,2.13v4.25l-7.16,2.13l-7.16,-2.13v-4.25zM386.2,708.9l7.16,2.13v4.25l-7.16,2.13l-7.16,-2.13v-4.25zM486.3,708.9l7.16,2.13v4.25l-7.16,2.13l-7.16,-2.13v-4.25zM758.3,708.9l7.16,2.13v4.25l-7.16,2.13l-7.16,-2.13v-4.25zM92.8,715.3l7.16,2.13v4.25l-7.16,2.13l-7.16,-2.13v-4.25zM107.1,702.5l7.16,2.13v4.25l-7.16,2.13l-7.16,-2.13v-4.25zM164.3,1047.2l7.16,2.13v4.25l-7.16,2.13l-7.16,-2.13v-4.25zM192.9,702.5l7.16,2.13v4.25l-7.16,2.13l-7.16,-2.13v-4.25zM235.9,702.5l7.16,2.13v4.25l-7.16,2.13l-7.16,-2.13v-4.25zM235.9,1047.2l7.16,2.13v4.25l-7.16,2.13l-7.16,-2.13v-4.25zM436.2,1047.2l7.16,2.13v4.25l-7.16,2.13l-7.16,-2.13v-4.25zM536.4,715.3l7.16,2.13v4.25l-7.16,2.13l-7.16,-2.13v-4.25zM565.1,702.5l7.16,2.13v4.25l-7.16,2.13l-7.16,-2.13v-4.25zM722.5,1047.2l7.16,2.13v4.25l-7.16,2.13l-7.16,-2.13v-4.25z"/>
<path fill="#4249b1" stroke="#4249b1" d="M328.9,1053.5l7.16,2.13v4.25l-7.16,2.13l-7.16,-2.13v-4.25zM429.1,696.1l7.16,2.13v4.25l-7.16,2.13l-7.16,-2.13v-4.25zM557.9,696.1l7.16,2.13v4.25l-7.16,2.13l-7.16,-2.13v-4.25zM586.5,1053.5l7.16,2.13v4.25l-7.16,2.13l-7.16,-2.13v-4.25zM658.1,696.1l7.16,2.13v4.25l-7.16,2.13l-7.16,-2.13v-4.25zM658.1,1053.5l7.16,2.13v4.25l-7.16,2.13l-7.16,-2.13v-4.25z"/>
<path fill="#f76f1a" stroke="#f76f1a" d="M457.7,874.8l7.16,2.13v4.25l-7.16,2.13l-7.16,-2.13v-4.25zM472.0,862.1l7.16,2.13v4.25l-7.16,2.13l-7.16,-2.13v-4.25zM500.6,849.3l7.16,2.13v4.25l-7.16,2.13l-7.16,-2.13v-4.25zM500.6,913.1l7.16,2.13v4.25l-7.16,2.13l-7.16,-2.13v-4.25zM515.0,849.3l7.16,2.13v4.25l-7.16,2.13l-7.16,-2.13v-4.25zM572.2,913.1l7.16,2.13v4.25l-7.16,2.13l-7.16,-2.13v-4.25zM600.8,836.6l7.16,2.13v4.25l-7.16,2.13l-7.16,-2.13v-4.25zM629.5,849.3l7.16,2.13v4.25l-7.16,2.13l-7.16,-2.13v-4.25zM235.9,881.2l7.16,2.13v4.25l-7.16,2.13l-7.16,-2.13v-4.25zM464.9,868.5l7.16,2.13v4.25l-7.16,2.13l-7.16,-2.13v-4.25zM464.9,894.0l7.16,2.13v4.25l-7.16,2.13l-7.16,-2.13v-4.25zM479.2,906.8l7.16,2.13v4.25l-7.16,2.13l-7.16,-2.13v-4.25zM536.4,842.9l7.16,2.13v4.25l-7.16,2.13l-7.16,-2.13v-4.25zM593.7,906.8l7.16,2.13v4.25l-7.16,2.13l-7.16,-2.13v-4.25zM608.0,906.8l7.16,2.13v4.25l-7.16,2.13l-7.16,-2.13v-4.25zM650.9,855.7l7.16,2.13v4.25l-7.16,2.13l-7.16,-2.13v-4.25z"/>
<path fill="#f26014" stroke="#f26014" d="M472.0,874.8l7.16,2.13v4.25l-7.16,2.13l-7.16,-2.13v-4.25zM472.0,887.6l7.16,2.13v4.25l-7.16,2.13l-7.16,-2.13v-4.25zM486.3,862.1l7.16,2.13v4.25l-7.16,2.13l-7.16,-2.13v-4.25zM529.3,849.3l7.16,2.13v4.25l-7.16,2.13l-7.16,-2.13v-4.25zM572.2,836.6l7.16,2.13v4.25l-7.16,2.13l-7.16,-2.13v-4.25zM586.5,836.6l7.16,2.13v4.25l-7.16,2.13l-7.16,-2.13v-4.25zM586.5,900.4l7.16,2.13v4.25l-7.16,2.13l-7.16,-2.13v-4.25zM658.1,862.1l7.16,2.13v4.25l-7.16,2.13l-7.16,-2.13v-4.25zM479.2,868.5l7.16,2.13v4.25l-7.16,2.13l-7.16,-2.13v-4.25zM479.2,894.0l7.16,2.13v4.25l-7.16,2.13l-7.16,-2.13v-4.25zM493.5,906.8l7.16,2.13v4.25l-7.16,2.13l-7.16,-2.13v-4.25zM507.8,855.7l7.16,2.13v4.25l-7.16,2.13l-7.16,-2.13v-4.25zM579.4,906.8l7.16,2.13v4.25l-7.16,2.13l-7.16,-2.13v-4.25zM608.0,842.9l7.16,2.13v4.25l-7.16,2.13l-7.16,-2.13v-4.25zM650.9,906.8l7.16,2.13v4.25l-7.16,2.13l-7.16,-2.13v-4.25z"/>
<path fill="#ea4e0d" stroke="#ea4e0d" d="M486.3,874.8l7.16,2.13v4.25l-7.16,2.13l-7.16,-2.13v-4.25zM486.3,887.6l7.16,2.13v4.25l-7.16,2.13l-7.16,-2.13v-4.25zM500.6,900.4l7.16,2.13v4.25l-7.16,2.13l-7.16,-2.13v-4.25zM643.8,862.1l7.16,2.13v4.25l-7.16,2.13l-7.16,-2.13v-4.25zM493.5,868.5l7.16,2.13v4.25l-7.16,2.13l-7.16,-2.13v-4.25zM522.1,855.7l7.16,2.13v4.25l-7.16,2.13l-7.16,-2.13v-4.25zM536.4,855.7l7.16,2.13v4.25l-7.16,2.13l-7.16,-2.13v-4.25zM550.7,906.8l7.16,2.13v4.25l-7.16,2.13l-7.16,-2.13v-4.25zM593.7,842.9l7.16,2.13v4.25l-7.16,2.13l-7.16,-2.13v-4.25zM636.6,906.8l7.16,2.13v4.25l-7.16,2.13l-7.16,-2.13v-4.25zM665.2,881.2l7.16,2.13v4.25l-7.16,2.13l-7.16,-2.13v-4.25z"/>
<path fill="#f05b12" stroke="#f05b12" d="M486.3,900.4l7.16,2.13v4.25l-7.16,2.13l-7.16,-2.13v-4.25zM529.3,913.1l7.16,2.13v4.25l-7.16,2.13l-7.16,-2.13v-4.25zM543.6,849.3l7.16,2.13v4.25l-7.16,2.13l-7.16,-2.13v-4.25zM543.6,913.1l7.16,2.13v4.25l-7.16,2.13l-7.16,-2.13v-4.25zM615.1,849.3l7.16,2.13v4.25l-7.16,2.13l-7.16,-2.13v-4.25zM615.1,900.4l7.16,2.13v4.25l-7.16,2.13l-7.16,-2.13v-4.25zM593.7,894.0l7.16,2.13v4.25l-7.16,2.13l-7.16,-2.13v-4.25zM608.0,894.0l7.16,2.13v4.25l-7.16,2.13l-7.16,-2.13v-4.25zM665.2,894.0l7.16,2.13v4.25l-7.16,2.13l-7.16,-2.13v-4.25z"/>
<path fill="#ed5510" stroke="#ed5510" d="M500.6,862.1l7.16,2.13v4.25l-7.16,2.13l-7.16,-2.13v-4.25zM658.1,900.4l7.16,2.13v4.25l-7.16,2.13l-7.16,-2.13v-4.25zM479.2,881.2l7.16,2.13v4.25l-7.16,2.13l-7.16,-2.13v-4.25zM507.8,906.8l7.16,2.13v4.25l-7.16,2.13l-7.16,-2.13v-4.25zM565.1,842.9l7.16,2.13v4.25l-7.16,2.13l-7.16,-2.13v-4.25zM565.1,906.8l7.16,2.13v4.25l-7.16,2.13l-7.16,-2.13v-4.25zM622.3,855.7l7.16,2.13v4.25l-7.16,2.13l-7.16,-2.13v-4.25z"/>
<path fill="#da3907" stroke="#da3907" d="M500.6,874.8l7.16,2.13v4.25l-7.16,2.13l-7.16,-2.13v-4.25zM515.0,900.4l7.16,2.13v4.25l-7.16,2.13l-7.16,-2.13v-4.25zM529.3,900.4l7.16,2.13v4.25l-7.16,2.13l-7.16,-2.13v-4.25zM543.6,862.1l7.16,2.13v4.25l-7.16,2.13l-7.16,-2.13v-4.25zM572.2,849.3l7.16,2.13v4.25l-7.16,2.13l-7.16,-2.13v-4.25zM600.8,874.8l7.16,2.13v4.25l-7.16,2.13l-7.16,-2.13v-4.25zM615.1,887.6l7.16,2.13v4.25l-7.16,2.13l-7.16,-2.13v-4.25zM507.8,894.0l7.16,2.13v4.25l-7.16,2.13l-7.16,-2.13v-4.25zM608.0,868.5l7.16,2.13v4.25l-7.16,2.13l-7.16,-2.13v-4.25zM650.9,868.5l7.16,2.13v4.25l-7.16,2.13l-7.16,-2.13v-4.25z"/>
<path fill="#d63506" stroke="#d63506" d="M500.6,887.6l7.16,2.13v4.25l-7.16,2.13l-7.16,-2.13v-4.25zM543.6,900.4l7.16,2.13v4.25l-7.16,2.13l-7.16,-2.13v-4.25zM572.2,887.6l7.16,2.13v4.25l-7.16,2.13l-7.16,-2.13v-4.25zM586.5,849.3l7.16,2.13v4.25l-7.16,2.13l-7.16,-2.13v-4.25zM600.8,862.1l7.16,2.13v4.25l-7.16,2.13l-7.16,-2.13v-4.25zM615.1,874.8l7.16,2.13v4.25l-7.16,2.13l-7.16,-2.13v-4.25zM643.8,900.4l7.16,2.13v4.25l-7.16,2.13l-7.16,-2.13v-4.25zM658.1,874.8l7.16,2.13v4.25l-7.16,2.13l-7.16,-2.13v-4.25zM522.1,868.5l7.16,2.13v4.25l-7.16,2.13l-7.16,-2.13v-4.25zM565.1,855.7l7.16,2.13v4.25l-7.16,2.13l-7.16,-2.13v-4.25zM579.4,881.2l7.16,2.13v4.25l-7.16,2.13l-7.16,-2.13v-4.25zM622.3,868.5l7.16,2.13v4.25l-7.16,2.13l-7.16,-2.13v-4.25z"/>
<path fill="#e7490c" stroke="#e7490c" d="M515.0,862.1l7.16,2.13v4.25l-7.16,2.13l-7.16,-2.13v-4.25zM572.2,900.4l7.16,2.13v4.25l-7.16,2.13l-7.16,-2.13v-4.25zM600.8,887.6l7.16,2.13v4.25l-7.16,2.13l-7.16,-2.13v-4.25zM493.5,894.0l7.16,2.13v4.25l-7.16,2.13l-7.16,-2.13v-4.25zM522.1,906.8l7.16,2.13v4.25l-7.16,2.13l-7.16,-2.13v-4.25zM579.4,842.9l7.16,2.13v4.25l-7.16,2.13l-7.16,-2.13v-4.25zM579.4,894.0l7.16,2.13v4.25l-7.16,2.13l-7.16,-2.13v-4.25z"/>
<path fill="#cc2b04" stroke="#cc2b04" d="M515.0,874.8l7.16,2.13v4.25l-7.16,2.13l-7.16,-2.13v-4.25zM557.9,887.6l7.16,2.13v4.25l-7.16,2.13l-7.16,-2.13v-4.25zM572.2,874.8l7.16,2.13v4.25l-7.16,2.13l-7.16,-2.13v-4.25zM522.1,894.0l7.16,2.13v4.25l-7.16,2.13l-7.16,-2.13v-4.25zM550.7,868.5l7.16,2.13v4.25l-7.16,2.13l-7.16,-2.13v-4.25zM550.7,894.0l7.16,2.13v4.25l-7.16,2.13l-7.16,-2.13v-4.25zM565.1,868.5l7.16,2.13v4.25l-7.16,2.13l-7.16,-2.13v-4.25zM565.1,881.2l7.16,2.13v4.25l-7.16,2.13l-7.16,-2.13v-4.25zM579.4,855.7l7.16,2.13v4.25l-7.16,2.13l-7.16,-2.13v-4.25zM593.7,868.5l7.16,2.13v4.25l-7.16,2.13l-7.16,-2.13v-4.25zM622.3,881.2l7.16,2.13v4.25l-7.16,2.13l-7.16,-2.13v-4.25z"/>
<path fill="#c12302" stroke="#c12302" d="M515.0,887.6l7.16,2.13v4.25l-7.16,2.13l-7.16,-2.13v-4.25zM543.6,874.8l7.16,2.13v4.25l-7.16,2.13l-7.16,-2.13v-4.25zM543.6,887.6l7.16,2.13v4.25l-7.16,2.13l-7.16,-2.13v-4.25zM522.1,881.2l7.16,2.13v4.25l-7.16,2.13l-7.16,-2.13v-4.25z"/>
<path fill="#df3f08" stroke="#df3f08" d="M529.3,862.1l7.16,2.13v4.25l-7.16,2.13l-7.16,-2.13v-4.25zM557.9,900.4l7.16,2.13v4.25l-7.16,2.13l-7.16,-2.13v-4.25zM586.5,887.6l7.16,2.13v4.25l-7.16,2.13l-7.16,-2.13v-4.25zM615.1,862.1l7.16,2.13v4.25l-7.16,2.13l-7.16,-2.13v-4.25zM493.5,881.2l7.16,2.13v4.25l-7.16,2.13l-7.16,-2.13v-4.25zM507.8,868.5l7.16,2.13v4.25l-7.16,2.13l-7.16,-2.13v-4.25zM565.1,894.0l7.16,2.13v4.25l-7.16,2.13l-7.16,-2.13v-4.25zM593.7,881.2l7.16,2.13v4.25l-7.16,2.13l-7.16,-2.13v-4.25zM608.0,855.7l7.16,2.13v4.25l-7.16,2.13l-7.16,-2.13v-4.25zM608.0,881.2l7.16,2.13v4.25l-7.16,2.13l-7.16,-2.13v-4.25zM622.3,894.0l7.16,2.13v4.25l-7.16,2.13l-7.16,-2.13v-4.25z"/>
<path fill="#c52603" stroke="#c52603" d="M529.3,874.8l7.16,2.13v4.25l-7.16,2.13l-7.16,-2.13v-4.25zM557.9,874.8l7.16,2.13v4.25l-7.16,2.13l-7.16,-2.13v-4.25zM572.2,862.1l7.16,2.13v4.25l-7.16,2.13l-7.16,-2.13v-4.25zM586.5,862.1l7.16,2.13v4.25l-7.16,2.13l-7.16,-2.13v-4.25zM536.4,894.0l7.16,2.13v4.25l-7.16,2.13l-7.16,-2.13v-4.25zM579.4,868.5l7.16,2.13v4.25l-7.16,2.13l-7.16,-2.13v-4.25zM636.6,868.5l7.16,2.13v4.25l-7.16,2.13l-7.16,-2.13v-4.25zM650.9,894.0l7.16,2.13v4.25l-7.16,2.13l-7.16,-2.13v-4.25z"/>
<path fill="#b91e02" stroke="#b91e02" d="M529.3,887.6l7.16,2.13v4.25l-7.16,2.13l-7.16,-2.13v-4.25zM629.5,874.8l7.16,2.13v4.25l-7.16,2.13l-7.16,-2.13v-4.25zM629.5,887.6l7.16,2.13v4.25l-7.16,2.13l-7.16,-2.13v-4.25zM536.4,881.2l7.16,2.13v4.25l-7.16,2.13l-7.16,-2.13v-4.25zM550.7,881.2l7.16,2.13v4.25l-7.16,2.13l-7.16,-2.13v-4.25zM636.6,894.0l7.16,2.13v4.25l-7.16,2.13l-7.16,-2.13v-4.25z"/>
<path fill="#e2430a" stroke="#e2430a" d="M557.9,849.3l7.16,2.13v4.25l-7.16,2.13l-7.16,-2.13v-4.25zM600.8,849.3l7.16,2.13v4.25l-7.16,2.13l-7.16,-2.13v-4.25zM629.5,862.1l7.16,2.13v4.25l-7.16,2.13l-7.16,-2.13v-4.25zM629.5,900.4l7.16,2.13v4.25l-7.16,2.13l-7.16,-2.13v-4.25zM536.4,906.8l7.16,2.13v4.25l-7.16,2.13l-7.16,-2.13v-4.25zM550.7,855.7l7.16,2.13v4.25l-7.16,2.13l-7.16,-2.13v-4.25z"/>
<path fill="#d02f05" stroke="#d02f05" d="M557.9,862.1l7.16,2.13v4.25l-7.16,2.13l-7.16,-2.13v-4.25zM586.5,874.8l7.16,2.13v4.25l-7.16,2.13l-7.16,-2.13v-4.25zM658.1,887.6l7.16,2.13v4.25l-7.16,2.13l-7.16,-2.13v-4.25zM507.8,881.2l7.16,2.13v4.25l-7.16,2.13l-7.16,-2.13v-4.25zM536.4,868.5l7.16,2.13v4.25l-7.16,2.13l-7.16,-2.13v-4.25zM593.7,855.7l7.16,2.13v4.25l-7.16,2.13l-7.16,-2.13v-4.25z"/>
<path fill="#a71401" stroke="#a71401" d="M643.8,874.8l7.16,2.13v4.25l-7.16,2.13l-7.16,-2.13v-4.25zM650.9,881.2l7.16,2.13v4.25l-7.16,2.13l-7.16,-2.13v-4.25z"/>
<path fill="#8e0a01" stroke="#8e0a01" d="M643.8,887.6l7.16,2.13v4.25l-7.16,2.13l-7.16,-2.13v-4.25z"/>
<path fill="#467df4" stroke="#467df4" d="M701.0,708.9l7.16,2.13v4.25l-7.16,2.13l-7.16,-2.13v-4.25zM772.6,708.9l7.16,2.13v4.25l-7.16,2.13l-7.16,-2.13v-4.25zM92.8,1047.2l7.16,2.13v4.25l-7.16,2.13l-7.16,-2.13v-4.25zM121.4,702.5l7.16,2.13v4.25l-7.16,2.13l-7.16,-2.13v-4.25zM164.3,702.5l7.16,2.13v4.25l-7.16,2.13l-7.16,-2.13v-4.25zM221.6,702.5l7.16,2.13v4.25l-7.16,2.13l-7.16,-2.13v-4.25zM336.1,1047.2l7.16,2.13v4.25l-7.16,2.13l-7.16,-2.13v-4.25zM393.3,1047.2l7.16,2.13v4.25l-7.16,2.13l-7.16,-2.13v-4.25zM407.6,702.5l7.16,2.13v4.25l-7.16,2.13l-7.16,-2.13v-4.25zM464.9,1047.2l7.16,2.13v4.25l-7.16,2.13l-7.16,-2.13v-4.25zM636.6,1047.2l7.16,2.13v4.25l-7.16,2.13l-7.16,-2.13v-4.25zM708.2,1047.2l7.16,2.13v4.25l-7.16,2.13l-7.16,-2.13v-4.25zM765.4,1047.2l7.16,2.13v4.25l-7.16,2.13l-7.16,-2.13v-4.25zM794.0,1047.2l7.16,2.13v4.25l-7.16,2.13l-7.16,-2.13v-4.25z"/>
<path fill="#4685fa" stroke="#4685fa" d="M92.8,702.5l7.16,2.13v4.25l-7.16,2.13l-7.16,-2.13v-4.25zM550.7,1047.2l7.16,2.13v4.25l-7.16,2.13l-7.16,-2.13v-4.25zM779.7,1047.2l7.16,2.13v4.25l-7.16,2.13l-7.16,-2.13v-4.25z"/>
<path fill="#458afc" stroke="#458afc" d="M150.0,702.5l7.16,2.13v4.25l-7.16,2.13l-7.16,-2.13v-4.25zM207.3,702.5l7.16,2.13v4.25l-7.16,2.13l-7.16,-2.13v-4.25zM250.2,702.5l7.16,2.13v4.25l-7.16,2.13l-7.16,-2.13v-4.25zM421.9,1047.2l7.16,2.13v4.25l-7.16,2.13l-7.16,-2.13v-4.25zM479.2,1047.2l7.16,2.13v4.25l-7.16,2.13l-7.16,-2.13v-4.25zM507.8,702.5l7.16,2.13v4.25l-7.16,2.13l-7.16,-2.13v-4.25zM650.9,702.5l7.16,2.13v4.25l-7.16,2.13l-7.16,-2.13v-4.25z"/>
<path fill="#4778f0" stroke="#4778f0" d="M221.6,1047.2l7.16,2.13v4.25l-7.16,2.13l-7.16,-2.13v-4.25zM336.1,702.5l7.16,2.13v4.25l-7.16,2.13l-7.16,-2.13v-4.25zM379.0,702.5l7.16,2.13v4.25l-7.16,2.13l-7.16,-2.13v-4.25zM579.4,702.5l7.16,2.13v4.25l-7.16,2.13l-7.16,-2.13v-4.25zM636.6,702.5l7.16,2.13v4.25l-7.16,2.13l-7.16,-2.13v-4.25z"/>
<path fill="#466be3" stroke="#466be3" d="M278.8,702.5l7.16,2.13v4.25l-7.16,2.13l-7.16,-2.13v-4.25zM307.4,702.5l7.16,2.13v4.25l-7.16,2.13l-7.16,-2.13v-4.25zM450.6,702.5l7.16,2.13v4.25l-7.16,2.13l-7.16,-2.13v-4.25z"/>
<path fill="#4771e9" stroke="#4771e9" d="M536.4,702.5l7.16,2.13v4.25l-7.16,2.13l-7.16,-2.13v-4.25zM565.1,1047.2l7.16,2.13v4.25l-7.16,2.13l-7.16,-2.13v-4.25zM736.8,702.5l7.16,2.13v4.25l-7.16,2.13l-7.16,-2.13v-4.25z"/>
<path fill="#4664da" stroke="#4664da" d="M593.7,702.5l7.16,2.13v4.25l-7.16,2.13l-7.16,-2.13v-4.25zM622.3,702.5l7.16,2.13v4.25l-7.16,2.13l-7.16,-2.13v-4.25zM650.9,1047.2l7.16,2.13v4.25l-7.16,2.13l-7.16,-2.13v-4.25zM679.5,702.5l7.16,2.13v4.25l-7.16,2.13l-7.16,-2.13v-4.25zM708.2,702.5l7.16,2.13v4.25l-7.16,2.13l-7.16,-2.13v-4.25zM794.0,702.5l7.16,2.13v4.25l-7.16,2.13l-7.16,-2.13v-4.25z"/>
<path fill="#980e01" stroke="#980e01" d="M636.6,881.2l7.16,2.13v4.25l-7.16,2.13l-7.16,-2.13v-4.25z"/>
</g>
<rect x="85.6" y="700.4" width="715.6" height="357.4" fill="none" stroke="#111" stroke-width="1.7"/><path d="M85.6,1057.8v7.5M175.1,1057.8v7.5M264.5,1057.8v7.5M354.0,1057.8v7.5M443.4,1057.8v7.5M532.9,1057.8v7.5M622.3,1057.8v7.5M711.8,1057.8v7.5M801.2,1057.8v7.5M85.6,700.4h-7.5M85.6,789.8h-7.5M85.6,879.1h-7.5M85.6,968.4h-7.5M85.6,1057.8h-7.5" stroke="#111" stroke-width="1.7" fill="none"/>
<text x="83.6" y="1093.6" text-anchor="middle" style="font-family:'DejaVu Sans',sans-serif;font-size:21.6px" fill="#1a1a1a">−<tspan font-style="italic">π</tspan></text>
<text x="173.1" y="1093.6" text-anchor="middle" style="font-family:'DejaVu Sans',sans-serif;font-size:21.6px" fill="#1a1a1a">−3<tspan font-style="italic">π</tspan>/4</text>
<text x="262.5" y="1093.6" text-anchor="middle" style="font-family:'DejaVu Sans',sans-serif;font-size:21.6px" fill="#1a1a1a">−<tspan font-style="italic">π</tspan>/2</text>
<text x="352.0" y="1093.6" text-anchor="middle" style="font-family:'DejaVu Sans',sans-serif;font-size:21.6px" fill="#1a1a1a">−<tspan font-style="italic">π</tspan>/4</text>
<text x="441.4" y="1093.6" text-anchor="middle" style="font-family:'DejaVu Sans',sans-serif;font-size:21.6px" fill="#1a1a1a">0</text>
<text x="530.9" y="1093.6" text-anchor="middle" style="font-family:'DejaVu Sans',sans-serif;font-size:21.6px" fill="#1a1a1a"><tspan font-style="italic">π</tspan>/4</text>
<text x="620.3" y="1093.6" text-anchor="middle" style="font-family:'DejaVu Sans',sans-serif;font-size:21.6px" fill="#1a1a1a"><tspan font-style="italic">π</tspan>/2</text>
<text x="709.8" y="1093.6" text-anchor="middle" style="font-family:'DejaVu Sans',sans-serif;font-size:21.6px" fill="#1a1a1a">3<tspan font-style="italic">π</tspan>/4</text>
<text x="799.2" y="1093.6" text-anchor="middle" style="font-family:'DejaVu Sans',sans-serif;font-size:21.6px" fill="#1a1a1a"><tspan font-style="italic">π</tspan></text>
<text x="66.3" y="708.6" text-anchor="end" style="font-family:'DejaVu Sans',sans-serif;font-size:21.6px" fill="#1a1a1a"><tspan font-style="italic">π</tspan>/2</text>
<text x="66.3" y="798.0" text-anchor="end" style="font-family:'DejaVu Sans',sans-serif;font-size:21.6px" fill="#1a1a1a"><tspan font-style="italic">π</tspan>/4</text>
<text x="68.4" y="887.3" text-anchor="end" style="font-family:'DejaVu Sans',sans-serif;font-size:21.6px" fill="#1a1a1a">0</text>
<text x="66.3" y="976.6" text-anchor="end" style="font-family:'DejaVu Sans',sans-serif;font-size:21.6px" fill="#1a1a1a">−<tspan font-style="italic">π</tspan>/4</text>
<text x="66.3" y="1066.0" text-anchor="end" style="font-family:'DejaVu Sans',sans-serif;font-size:21.6px" fill="#1a1a1a">−<tspan font-style="italic">π</tspan>/2</text>
<text x="440.3" y="1124.7" text-anchor="middle" style="font-family:'DejaVu Sans',sans-serif;font-size:22.1px" fill="#1a1a1a">Azimuth</text>
<text transform="translate(19.5,882.6) rotate(-90)" text-anchor="middle" style="font-family:'DejaVu Sans',sans-serif;font-size:21.7px" fill="#1a1a1a">Elevation</text>
<rect x="811.6" y="687.9" width="20.6" height="381.3" fill="url(#tb)" stroke="#111" stroke-width="1.5"/>
<text x="848.6" y="1079.6" style="font-family:'DejaVu Sans',sans-serif;font-size:21.6px" fill="#1a1a1a">10<tspan dy="-8.5" font-size="15.2px">0</tspan></text>
<text x="848.6" y="975.6" style="font-family:'DejaVu Sans',sans-serif;font-size:21.6px" fill="#1a1a1a">10<tspan dy="-8.5" font-size="15.2px">1</tspan></text>
<text x="848.6" y="871.6" style="font-family:'DejaVu Sans',sans-serif;font-size:21.6px" fill="#1a1a1a">10<tspan dy="-8.5" font-size="15.2px">2</tspan></text>
<text x="848.6" y="767.6" style="font-family:'DejaVu Sans',sans-serif;font-size:21.6px" fill="#1a1a1a">10<tspan dy="-8.5" font-size="15.2px">3</tspan></text>
<path d="M832.2,1069.2h7.5M832.2,1037.9h4.5M832.2,1019.6h4.5M832.2,1006.6h4.5M832.2,996.5h4.5M832.2,988.3h4.5M832.2,981.3h4.5M832.2,975.3h4.5M832.2,969.9h4.5M832.2,965.2h7.5M832.2,933.9h4.5M832.2,915.6h4.5M832.2,902.6h4.5M832.2,892.5h4.5M832.2,884.3h4.5M832.2,877.3h4.5M832.2,871.3h4.5M832.2,865.9h4.5M832.2,861.2h7.5M832.2,829.9h4.5M832.2,811.6h4.5M832.2,798.6h4.5M832.2,788.5h4.5M832.2,780.2h4.5M832.2,773.3h4.5M832.2,767.3h4.5M832.2,761.9h4.5M832.2,757.2h7.5M832.2,725.9h4.5M832.2,707.5h4.5M832.2,694.6h4.5" stroke="#111" stroke-width="1.5" fill="none"/>
<text transform="translate(914,879.5) rotate(-90)" text-anchor="middle" style="font-family:'DejaVu Sans',sans-serif;font-size:22px" fill="#1a1a1a"># of images</text>
</g>
<g id="pa">
<path d="M159.0,107.2V501.4M258.6,107.2V501.4M358.2,107.2V501.4M459.2,107.2V501.4M558.4,107.2V501.4M657.6,107.2V501.4M758.2,107.2V501.4M59.5,185.6H851.2M59.5,264.8H851.2M59.5,343.9H851.2M59.5,422.6H851.2" stroke="#b4b4b4" stroke-width="1.6" fill="none"/>
<polyline points="59.2,107.5 106.8,107.5 130.8,114.7 149.5,120.8 174.8,131.5 196.2,132.6 208.2,135.5 224.2,133.9 244.2,144.9 250.9,152.1 262.9,173.4 282.9,187.6 296.2,205.4 310.9,219.6 324.3,222.3 344.3,229.5 355.0,224.1 359.0,228.1 373.6,217.5 381.6,210.0 395.0,203.6 411.0,190.8 421.7,192.1 437.5,206.8 447.6,225.2 459.0,243.6 471.5,263.8 482.6,281.3 489.9,296.9 491.2,300.0 499.4,318.4 508.7,335.0 516.0,346.0 525.2,368.1 534.4,381.0 543.6,399.4 554.7,417.8 563.9,427.9 569.4,430.7 574.9,439.9 584.1,450.0 598.8,458.3 607.1,462.0 611.7,466.6 626.5,471.2 639.3,474.9 652.2,478.2 672.5,478.2 683.5,480.0 698.2,481.3 700.0,480.3 710.4,482.4 724.0,480.8 739.6,483.4 746.9,481.1 751.1,483.4 755.3,481.4 766.8,483.4 774.1,481.9 782.4,486.0 788.7,484.0 798.0,483.4 803.3,485.7 807.4,483.4 818.9,485.7 824.1,483.4 831.4,485.0 848.1,485.0" fill="none" stroke="#1f77b4" stroke-width="2.5" stroke-linejoin="round"/>
<polyline points="59.2,107.5 120.1,107.5 149.5,112.8 174.8,122.7 196.2,124.6 210.8,127.3 224.2,125.7 248.2,134.7 262.9,153.4 282.9,165.4 310.9,190.2 324.3,192.6 345.6,198.8 363.0,196.1 379.0,181.4 395.0,174.8 411.0,166.0 421.7,166.8 431.0,171.8 442.1,179.1 459.0,200.3 471.5,214.1 482.6,226.1 493.6,245.4 504.7,266.6 515.7,281.3 523.1,298.8 534.4,318.4 543.6,338.7 551.0,355.2 558.7,368.1 569.4,386.5 580.4,405.8 591.5,418.7 598.8,425.2 606.2,430.7 613.6,441.7 620.0,442.1 628.3,453.7 641.2,457.4 652.2,462.9 661.4,462.9 670.6,467.1 687.2,467.5 698.2,470.3 700.0,468.8 712.5,472.0 726.1,470.9 731.3,473.0 735.5,472.0 741.7,474.6 746.4,471.8 751.1,474.3 756.3,471.8 765.7,473.5 770.9,472.0 782.4,476.1 787.6,473.0 793.9,472.8 803.3,477.2 807.4,475.1 810.6,477.2 814.7,475.3 818.9,478.2 823.1,477.0 826.2,478.0 831.4,477.0 848.1,477.2" fill="none" stroke="#ff7f0e" stroke-width="2.5" stroke-linejoin="round"/>
<polyline points="59.2,107.5 133.4,107.5 160.1,111.2 186.8,115.5 208.2,117.1 224.2,116.8 248.2,120.8 262.9,127.3 280.2,131.5 310.9,146.7 328.3,150.7 346.9,155.3 363.0,156.1 379.0,149.4 395.0,145.9 411.0,139.3 424.3,140.9 443.9,146.9 459.0,155.2 471.5,164.4 482.6,170.9 493.6,182.8 502.8,193.9 512.0,200.3 523.1,217.8 534.1,232.5 545.2,254.6 558.4,279.5 567.2,293.3 569.4,300.0 580.4,322.1 593.3,344.2 606.2,364.4 615.4,384.7 624.6,400.3 632.0,416.0 635.7,419.6 643.0,422.4 652.2,432.5 663.3,441.7 672.5,447.2 679.8,448.2 685.4,446.3 694.6,450.9 700.0,450.6 703.1,449.5 710.4,454.4 718.8,454.2 729.2,458.4 741.7,461.0 752.1,460.3 761.5,457.9 766.8,458.4 774.1,462.1 783.4,461.0 793.9,458.4 802.2,464.5 810.6,461.5 819.9,464.7 832.5,469.9 839.8,466.8 843.9,463.6 848.1,464.1" fill="none" stroke="#2ca02c" stroke-width="2.5" stroke-linejoin="round"/>
<polyline points="59.2,107.5 149.5,107.5 186.8,110.2 208.2,112.3 224.2,112.8 248.2,115.2 262.9,120.0 280.2,123.5 310.9,136.1 328.3,138.7 346.9,143.3 363.0,145.4 379.0,139.5 395.0,137.4 411.0,131.5 424.3,132.6 443.9,135.9 459.0,142.0 478.9,149.3 493.6,159.8 512.0,169.9 523.1,179.1 534.1,191.1 548.8,212.3 559.0,223.3 570.9,240.8 578.3,249.1 589.3,267.5 596.7,284.1 605.9,295.1 609.9,300.0 615.4,314.7 620.9,335.0 628.3,353.4 639.3,368.1 650.4,384.7 659.6,403.1 670.6,416.0 679.8,421.5 690.9,423.7 700.0,431.3 710.4,440.7 726.1,449.0 734.4,448.5 744.8,450.6 756.3,454.8 764.7,452.1 770.9,452.4 778.2,457.9 783.4,460.3 790.7,458.9 796.0,457.2 802.2,461.0 813.7,462.6 825.2,465.2 830.4,466.2 838.7,465.2 843.9,463.1 848.1,463.8" fill="none" stroke="#d62728" stroke-width="2.5" stroke-linejoin="round"/>
<polyline points="59.2,107.5 149.5,107.5 186.8,110.2 208.2,112.3 224.2,112.8 248.2,115.2 262.9,120.0 280.2,123.5 310.9,136.1 328.3,138.7 346.9,143.3 363.0,145.4 379.0,139.5 395.0,137.4 411.0,131.5 424.3,132.6 443.9,135.9 459.0,142.0 478.9,149.3 493.6,159.8 512.0,169.9 523.1,179.1 534.1,191.1 548.8,212.3 559.0,223.3 560.8,228.8 563.2,279.5 567.2,262.0 570.9,261.6 582.0,272.1 594.9,291.4 604.1,302.5 608.0,309.2 615.4,331.3 622.8,353.4 632.0,371.8 644.9,388.3 657.7,407.7 670.6,420.6 681.7,426.6 690.9,424.8 700.0,430.2 710.4,440.7 720.9,448.0 727.1,452.1 734.4,450.9 744.8,456.3 752.1,460.0 756.8,460.0 762.6,454.2 770.9,452.1 778.2,457.4 783.4,459.4 789.7,457.4 794.9,454.2 802.2,460.0 814.7,459.7 825.2,466.8 831.4,470.9 836.6,470.4 843.9,465.2 848.1,464.9" fill="none" stroke="#9467bd" stroke-width="2.5" stroke-linejoin="round"/>
<path d="M59.5,444.2H851.2" stroke="#1f77b4" stroke-width="2.6"/>
<path d="M59.5,106.2V502.4M58.5,107.2H851.2M58.5,501.4H851.2M59.5,501.4v7M159.0,501.4v7M258.6,501.4v7M358.2,501.4v7M459.2,501.4v7M558.4,501.4v7M657.6,501.4v7M758.2,501.4v7M59.5,107.2h-7M59.5,185.6h-7M59.5,264.8h-7M59.5,343.9h-7M59.5,422.6h-7M59.5,501.4h-7" stroke="#111" stroke-width="1.9" fill="none"/>
<rect x="616.5" y="116.8" width="227" height="146.6" rx="4" fill="#fff" fill-opacity="0.8" stroke="#ccc" stroke-width="1.5"/>
<path d="M621,136.8h42.7" stroke="#1f77b4" stroke-width="2.5"/>
<text x="677" y="143.7" style="font-family:'DejaVu Sans',sans-serif;font-size:18.9px" fill="#1a1a1a">No Mask (3.3<tspan font-style="italic">Å</tspan>)</text>
<path d="M621,163.3h42.7" stroke="#ff7f0e" stroke-width="2.5"/>
<text x="677" y="170.2" style="font-family:'DejaVu Sans',sans-serif;font-size:18.9px" fill="#1a1a1a">Spherical (3.1<tspan font-style="italic">Å</tspan>)</text>
<path d="M621,189.8h42.7" stroke="#2ca02c" stroke-width="2.5"/>
<text x="677" y="196.7" style="font-family:'DejaVu Sans',sans-serif;font-size:18.9px" fill="#1a1a1a">Loose (2.9<tspan font-style="italic">Å</tspan>)</text>
<path d="M621,216.3h42.7" stroke="#d62728" stroke-width="2.5"/>
<text x="677" y="223.2" style="font-family:'DejaVu Sans',sans-serif;font-size:18.9px" fill="#1a1a1a">Tight (2.6<tspan font-style="italic">Å</tspan>)</text>
<path d="M621,242.8h42.7" stroke="#9467bd" stroke-width="2.5"/>
<text x="677" y="249.7" style="font-family:'DejaVu Sans',sans-serif;font-size:18.9px" fill="#1a1a1a">Corrected (2.6<tspan font-style="italic">Å</tspan>)</text>
<text x="40.2" y="115.2" text-anchor="end" style="font-family:'DejaVu Sans',sans-serif;font-size:21.3px" fill="#1a1a1a">1.0</text>
<text x="40.2" y="193.6" text-anchor="end" style="font-family:'DejaVu Sans',sans-serif;font-size:21.3px" fill="#1a1a1a">0.8</text>
<text x="40.2" y="272.8" text-anchor="end" style="font-family:'DejaVu Sans',sans-serif;font-size:21.3px" fill="#1a1a1a">0.6</text>
<text x="40.2" y="351.9" text-anchor="end" style="font-family:'DejaVu Sans',sans-serif;font-size:21.3px" fill="#1a1a1a">0.4</text>
<text x="40.2" y="430.6" text-anchor="end" style="font-family:'DejaVu Sans',sans-serif;font-size:21.3px" fill="#1a1a1a">0.2</text>
<text x="40.2" y="509.4" text-anchor="end" style="font-family:'DejaVu Sans',sans-serif;font-size:21.3px" fill="#1a1a1a">0.0</text>
<text x="58.5" y="536.3" text-anchor="middle" style="font-family:'DejaVu Sans',sans-serif;font-size:21.3px" fill="#1a1a1a">DC</text>
<text x="159.0" y="541.6" text-anchor="middle" style="font-family:'DejaVu Sans',sans-serif;font-size:21.3px" fill="#1a1a1a">17<tspan font-style="italic">Å</tspan></text>
<text x="258.6" y="541.6" text-anchor="middle" style="font-family:'DejaVu Sans',sans-serif;font-size:21.3px" fill="#1a1a1a">8.7<tspan font-style="italic">Å</tspan></text>
<text x="358.2" y="541.6" text-anchor="middle" style="font-family:'DejaVu Sans',sans-serif;font-size:21.3px" fill="#1a1a1a">5.8<tspan font-style="italic">Å</tspan></text>
<text x="459.2" y="541.6" text-anchor="middle" style="font-family:'DejaVu Sans',sans-serif;font-size:21.3px" fill="#1a1a1a">4.3<tspan font-style="italic">Å</tspan></text>
<text x="558.4" y="541.6" text-anchor="middle" style="font-family:'DejaVu Sans',sans-serif;font-size:21.3px" fill="#1a1a1a">3.5<tspan font-style="italic">Å</tspan></text>
<text x="657.6" y="541.6" text-anchor="middle" style="font-family:'DejaVu Sans',sans-serif;font-size:21.3px" fill="#1a1a1a">2.9<tspan font-style="italic">Å</tspan></text>
<text x="758.2" y="541.6" text-anchor="middle" style="font-family:'DejaVu Sans',sans-serif;font-size:21.3px" fill="#1a1a1a">2.5<tspan font-style="italic">Å</tspan></text>
<text x="455.5" y="91.7" text-anchor="middle" style="font-family:'DejaVu Sans',sans-serif;font-size:28.4px" fill="#1a1a1a">GSFSC Resolution: 2.64<tspan font-style="italic">Å</tspan></text>
</g>
<g id="pd">
<path d="M1046.3,900.4H1603.8" stroke="#6ddbe8" stroke-width="1.5" stroke-dasharray="6.6 7.45" fill="none"/>
<polyline points="1047.8,719.1 1054.4,719.1 1060.0,725.3 1065.6,740.3 1074.1,742.2 1077.8,752.5 1082.5,772.2 1085.3,777.8 1090.0,775.0 1096.6,787.8 1100.3,786.3 1107.3,767.5 1113.4,779.7 1116.3,780.6 1121.9,791.9 1127.5,787.2 1132.2,785.3 1138.8,778.8 1143.4,777.8 1149.1,784.4 1154.7,786.6 1160.3,778.8 1164.1,784.4 1168.8,795.6 1175.3,797.5 1180.0,802.2 1184.7,812.5 1195.0,819.1 1204.4,825.6 1210.0,830.3 1215.6,838.8 1221.3,835.9 1226.9,839.7 1232.5,841.6 1240.9,846.3 1247.5,842.5 1252.2,839.7 1257.8,843.4 1262.5,842.5 1268.1,835.9 1275.6,830.3 1283.1,826.6 1290.6,820.0 1294.4,818.1 1300.0,821.9 1310.0,829.1 1320.6,835.7 1333.8,852.9 1344.4,855.5 1357.6,872.7 1373.4,889.9 1384.0,908.4 1399.9,929.5 1410.4,946.7 1421.0,958.6 1426.3,961.2 1434.2,978.4 1442.1,991.6 1447.4,999.5 1454.0,1002.2 1463.3,1016.7 1473.8,1029.9 1481.8,1036.5 1492.3,1045.8 1502.9,1053.7 1516.1,1055.0 1529.3,1061.6 1542.6,1069.6 1550.5,1069.0 1558.4,1066.9 1571.6,1070.1 1582.2,1074.8 1592.8,1078.8 1603.3,1078.8" fill="none" stroke="#1fe01f" stroke-width="2.7" stroke-linejoin="round"/>
<polyline points="1047.8,719.1 1054.4,719.1 1060.0,725.3 1065.6,740.3 1074.1,742.2 1077.8,752.5 1082.5,772.2 1085.3,777.8 1090.0,775.0 1096.6,787.8 1100.3,786.3 1107.3,767.5 1113.4,779.7 1116.3,780.6 1121.9,790.7 1127.5,786.0 1132.2,784.1 1138.8,778.8 1143.4,777.8 1149.1,784.4 1154.7,787.8 1160.3,778.8 1164.1,784.4 1168.8,794.7 1175.3,795.6 1179.1,799.4 1184.7,809.7 1189.4,813.4 1195.9,816.3 1204.4,821.9 1210.0,825.6 1215.6,834.2 1221.3,831.4 1226.9,835.1 1232.5,838.9 1240.0,837.0 1247.5,836.1 1252.2,833.3 1255.9,836.1 1259.7,835.1 1266.3,829.4 1275.6,822.9 1283.1,821.0 1290.6,815.4 1294.4,814.4 1300.0,816.3 1310.0,825.1 1323.2,833.0 1336.4,844.9 1349.6,856.8 1368.1,871.4 1381.4,888.5 1397.2,911.0 1410.4,932.1 1421.0,946.7 1426.3,948.0 1434.2,962.5 1439.5,974.4 1447.4,986.3 1454.0,988.2 1463.3,996.9 1473.8,1010.1 1481.8,1018.8 1489.7,1020.7 1497.6,1031.2 1510.8,1039.2 1521.4,1047.1 1529.3,1045.2 1539.9,1048.4 1547.8,1048.4 1555.8,1055.0 1563.7,1053.7 1571.6,1059.0 1584.8,1057.7 1592.8,1064.3 1603.3,1077.5" fill="none" stroke="#e8121c" stroke-width="2.7" stroke-linejoin="round"/>
<polyline points="1047.8,719.1 1054.4,719.1 1060.0,725.3 1065.6,740.3 1074.1,742.2 1077.8,752.5 1082.5,772.2 1085.3,777.8 1090.0,775.0 1096.6,787.8 1100.3,786.3 1107.3,767.5 1113.4,779.7 1116.3,780.6 1121.9,791.9 1127.5,787.2 1132.2,785.3 1138.8,778.8 1143.4,777.8 1149.1,784.4 1154.7,786.6 1160.3,778.8 1164.1,784.4 1168.8,794.7 1175.3,795.6 1179.1,799.4 1184.7,809.7 1189.4,813.4 1195.9,816.3 1204.4,821.9 1210.0,825.6 1215.6,832.2 1221.3,829.4 1226.9,833.1 1232.5,836.9 1240.0,835.0 1247.5,834.1 1252.2,831.3 1255.9,834.1 1259.7,833.1 1266.3,828.4 1275.6,821.9 1283.1,820.0 1290.6,814.4 1294.4,813.4 1300.0,815.3 1310.0,822.5 1323.2,830.4 1336.4,842.3 1349.6,851.5 1368.1,864.7 1381.4,879.3 1397.2,900.4 1410.4,922.9 1421.0,934.8 1426.3,936.1 1434.2,948.0 1439.5,961.2 1447.4,971.8 1454.0,973.9 1463.3,985.0 1473.8,998.2 1481.8,1008.8 1489.7,1014.1 1497.6,1024.6 1510.8,1033.9 1521.4,1041.8 1529.3,1043.1 1539.9,1049.7 1547.8,1049.7 1555.8,1055.0 1563.7,1053.7 1571.6,1060.3 1582.2,1061.6 1590.1,1065.6 1603.3,1077.5" fill="none" stroke="#000" stroke-width="2.7" stroke-linejoin="round"/>
<path d="M1107.2,1101.6v-10M1107.2,681.0v10M1167.6,1101.6v-10M1167.6,681.0v10M1228.4,1101.6v-10M1228.4,681.0v10M1288.6,1101.6v-10M1288.6,681.0v10M1349.1,1101.6v-10M1349.1,681.0v10M1409.5,1101.6v-10M1409.5,681.0v10M1470.0,1101.6v-10M1470.0,681.0v10M1530.2,1101.6v-10M1530.2,681.0v10M1591.3,1101.6v-10M1591.3,681.0v10M1046.3,718.3h10M1603.8,718.3h-10M1046.3,790.8h10M1603.8,790.8h-10M1046.3,864.2h10M1603.8,864.2h-10M1046.3,937.3h10M1603.8,937.3h-10M1046.3,1010.9h10M1603.8,1010.9h-10M1046.3,1084.0h10M1603.8,1084.0h-10" stroke="#000" stroke-width="2.4" fill="none"/>
<rect x="1046.3" y="681.0" width="557.5" height="420.6" fill="none" stroke="#000" stroke-width="2.8"/>
<text x="1033.8" y="727.5" text-anchor="end" textLength="14.5" lengthAdjust="spacingAndGlyphs" style="font-family:'Liberation Sans',sans-serif;font-size:25.5px" fill="#111">1</text>
<text x="1033.8" y="800.0" text-anchor="end" textLength="37.3" lengthAdjust="spacingAndGlyphs" style="font-family:'Liberation Sans',sans-serif;font-size:25.5px" fill="#111">0.8</text>
<text x="1033.8" y="873.4" text-anchor="end" textLength="37.3" lengthAdjust="spacingAndGlyphs" style="font-family:'Liberation Sans',sans-serif;font-size:25.5px" fill="#111">0.6</text>
<text x="1033.8" y="946.5" text-anchor="end" textLength="37.3" lengthAdjust="spacingAndGlyphs" style="font-family:'Liberation Sans',sans-serif;font-size:25.5px" fill="#111">0.4</text>
<text x="1033.8" y="1020.1" text-anchor="end" textLength="37.3" lengthAdjust="spacingAndGlyphs" style="font-family:'Liberation Sans',sans-serif;font-size:25.5px" fill="#111">0.2</text>
<text x="1033.8" y="1093.2" text-anchor="end" textLength="14.5" lengthAdjust="spacingAndGlyphs" style="font-family:'Liberation Sans',sans-serif;font-size:25.5px" fill="#111">0</text>
<text x="1050.3" y="1130.8" text-anchor="middle" textLength="14.5" lengthAdjust="spacingAndGlyphs" style="font-family:'Liberation Sans',sans-serif;font-size:25.5px" fill="#111">0</text>
<text x="1110.7" y="1130.8" text-anchor="middle" textLength="54.5" lengthAdjust="spacingAndGlyphs" style="font-family:'Liberation Sans',sans-serif;font-size:25.5px" fill="#111">0.05</text>
<text x="1170.0" y="1130.8" text-anchor="middle" textLength="37" lengthAdjust="spacingAndGlyphs" style="font-family:'Liberation Sans',sans-serif;font-size:25.5px" fill="#111">0.1</text>
<text x="1231.9" y="1130.8" text-anchor="middle" textLength="53.5" lengthAdjust="spacingAndGlyphs" style="font-family:'Liberation Sans',sans-serif;font-size:25.5px" fill="#111">0.15</text>
<text x="1292.3" y="1130.8" text-anchor="middle" textLength="36.5" lengthAdjust="spacingAndGlyphs" style="font-family:'Liberation Sans',sans-serif;font-size:25.5px" fill="#111">0.2</text>
<text x="1352.7" y="1130.8" text-anchor="middle" textLength="53.5" lengthAdjust="spacingAndGlyphs" style="font-family:'Liberation Sans',sans-serif;font-size:25.5px" fill="#111">0.25</text>
<text x="1413.6" y="1130.8" text-anchor="middle" textLength="36.5" lengthAdjust="spacingAndGlyphs" style="font-family:'Liberation Sans',sans-serif;font-size:25.5px" fill="#111">0.3</text>
<text x="1474.0" y="1130.8" text-anchor="middle" textLength="53" lengthAdjust="spacingAndGlyphs" style="font-family:'Liberation Sans',sans-serif;font-size:25.5px" fill="#111">0.35</text>
<text x="1534.0" y="1130.8" text-anchor="middle" textLength="36.5" lengthAdjust="spacingAndGlyphs" style="font-family:'Liberation Sans',sans-serif;font-size:25.5px" fill="#111">0.4</text>
<text x="1594.9" y="1130.8" text-anchor="middle" textLength="53.5" lengthAdjust="spacingAndGlyphs" style="font-family:'Liberation Sans',sans-serif;font-size:25.5px" fill="#111">0.45</text>
<text x="1324.5" y="1165.5" text-anchor="middle" textLength="193.5" lengthAdjust="spacingAndGlyphs" style="font-family:'Liberation Sans',sans-serif;font-size:25.5px" fill="#111">Resolution, 1/Å</text>
<text transform="translate(980.3,892) rotate(-90) scale(1,1.1)" text-anchor="middle" style="font-family:'Liberation Sans',sans-serif;font-size:25.3px" fill="#111" textLength="310" lengthAdjust="spacingAndGlyphs">Fourier Shell Correlation</text>
<text x="1096.3" y="891.4" text-anchor="start" textLength="127.4" lengthAdjust="spacingAndGlyphs" style="font-family:'Liberation Sans',sans-serif;font-size:25.2px" fill="#111">FSC = 0.5</text>
<text x="1458.4" y="855.3" text-anchor="start" textLength="65.8" lengthAdjust="spacingAndGlyphs" style="font-family:'Liberation Sans',sans-serif;font-size:25.5px" fill="#111">3.5 Å</text>
<path d="M1446.3,863.6L1408.8,893.3M1416.4,882.4L1408.2,893.8L1423.1,889" stroke="#000" stroke-width="1.6" fill="none"/>
<text x="1517.8" y="711.7" text-anchor="end" textLength="223.6" lengthAdjust="spacingAndGlyphs" style="font-family:'Liberation Sans',sans-serif;font-size:20.3px" fill="#111">model vs summed map</text>
<path d="M1528.2,705.5H1582.9" stroke="#000" stroke-width="2.6"/>
<text x="1517.8" y="743.2" text-anchor="end" textLength="193.0" lengthAdjust="spacingAndGlyphs" style="font-family:'Liberation Sans',sans-serif;font-size:20.3px" fill="#111">model vs half map 1</text>
<path d="M1528.2,735.8H1582.9" stroke="#e8121c" stroke-width="2.6"/>
<text x="1517.8" y="774.3" text-anchor="end" textLength="193.0" lengthAdjust="spacingAndGlyphs" style="font-family:'Liberation Sans',sans-serif;font-size:20.3px" fill="#111">model vs half map 2</text>
<path d="M1528.2,767H1582.9" stroke="#1fe01f" stroke-width="2.6"/>
</g>
<text x="80.2" y="38.0" textLength="490" lengthAdjust="spacingAndGlyphs" style="font-family:'Liberation Sans',sans-serif;font-size:31.2px" fill="#d2122e">Rpd3L complex_Sin3-Flag dataset</text>
<text x="1025.2" y="61.0" textLength="490" lengthAdjust="spacingAndGlyphs" style="font-family:'Liberation Sans',sans-serif;font-size:31.2px" fill="#d2122e">Rpd3L complex_Sin3-Flag dataset</text>
<text x="82.5" y="651.5" textLength="490" lengthAdjust="spacingAndGlyphs" style="font-family:'Liberation Sans',sans-serif;font-size:31.2px" fill="#d2122e">Rpd3L complex_Sin3-Flag dataset</text>
<text x="-1.5" y="32.6" style="font-family:'Liberation Sans',sans-serif;font-size:50px;font-weight:700" fill="#000">a</text>
<text x="887.2" y="36.9" style="font-family:'Liberation Sans',sans-serif;font-size:50px;font-weight:700" fill="#000">b</text>
<text x="5.2" y="642.0" style="font-family:'Liberation Sans',sans-serif;font-size:50px;font-weight:700" fill="#000">c</text>
<text x="902.0" y="642.6" style="font-family:'Liberation Sans',sans-serif;font-size:50px;font-weight:700" fill="#000">d</text>
<text x="1019.7" y="645" textLength="560.5" lengthAdjust="spacingAndGlyphs" style="font-family:'Liberation Sans',sans-serif;font-size:30.4px" fill="#111">FSC between model and cryo-EM maps</text>
</svg>
</body></html>
